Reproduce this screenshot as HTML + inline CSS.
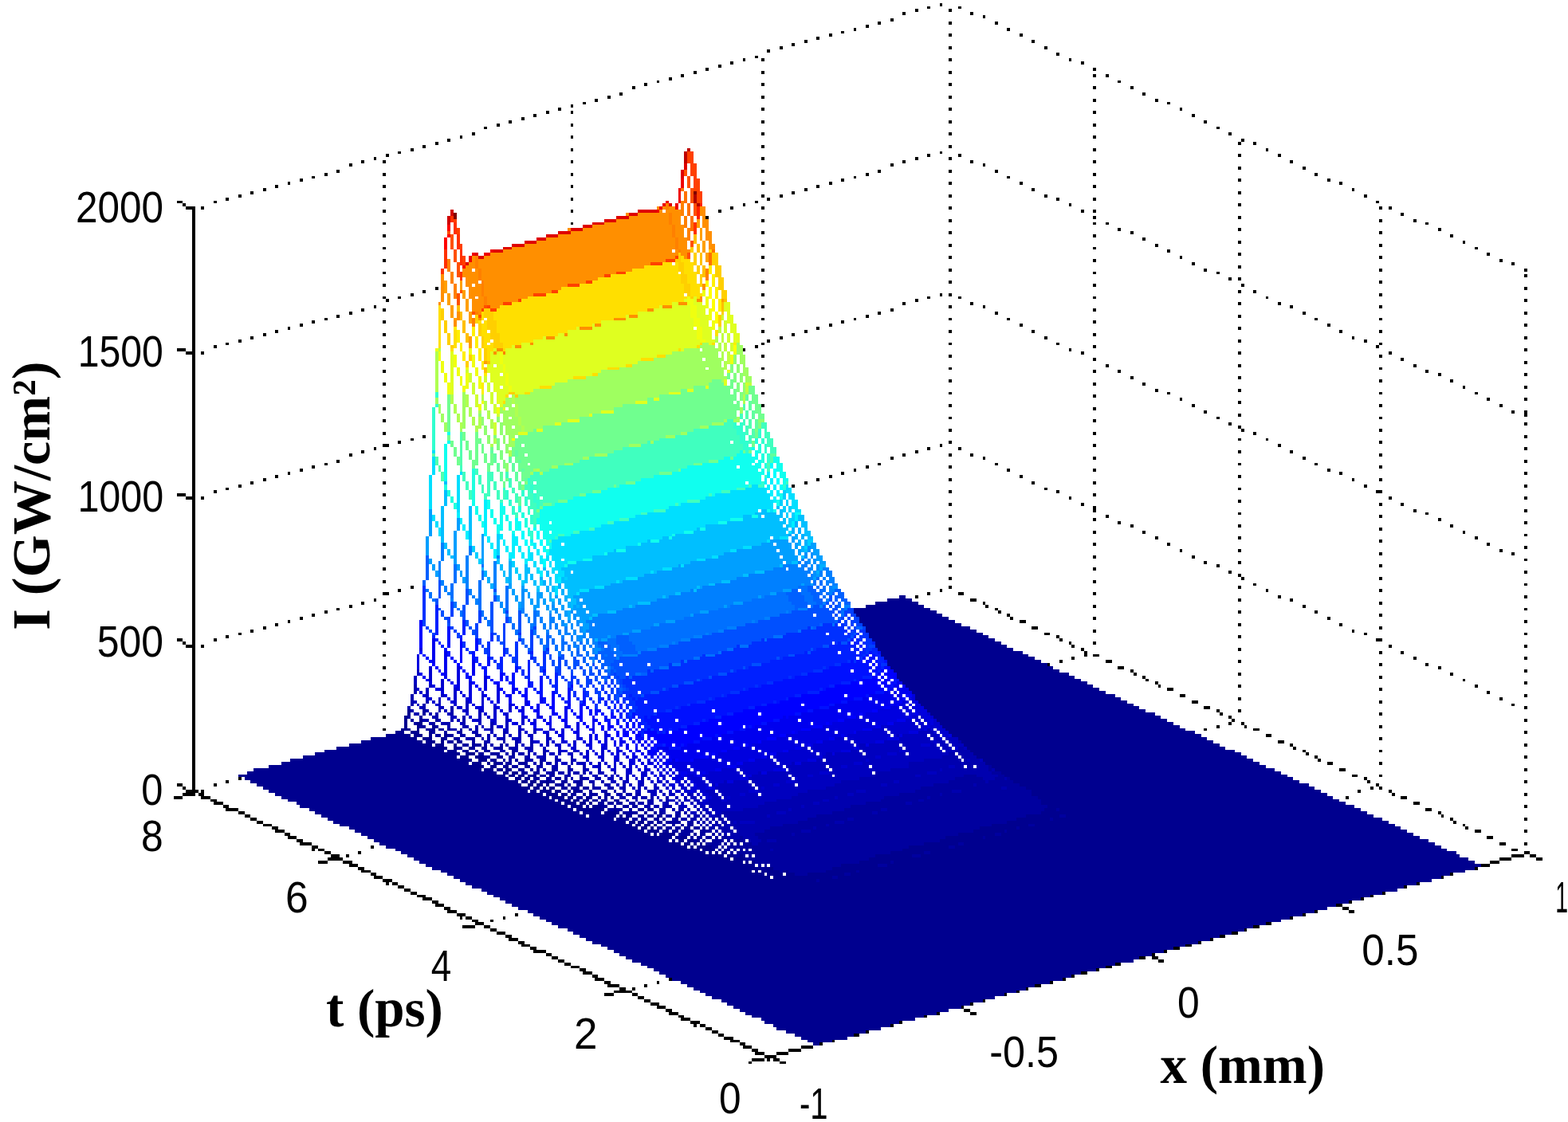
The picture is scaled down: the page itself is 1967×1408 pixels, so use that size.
<!DOCTYPE html>
<html lang="en"><head><meta charset="utf-8"><title>I(x,t) surface plot</title>
<style>
html,body{margin:0;padding:0;background:#fff;overflow:hidden}
svg{display:block}
text{fill:#000}
.tk{font-family:"Liberation Sans",Arial,Helvetica,sans-serif}
.lb{font-family:"Liberation Serif","Times New Roman",Times,serif;font-weight:bold}
</style></head><body>
<svg xmlns="http://www.w3.org/2000/svg" width="1967" height="1408" viewBox="0 0 1967 1408">
<rect width="1967" height="1408" fill="#fff"/>
<g shape-rendering="crispEdges">
<path fill="#000000" d="M1179 4h3v4h-3zM1163 8h4v3h-4zM1202 8h4v3h-4zM1148 11h4v4h-4zM1190 11h4v4h-4zM1132 15h4v4h-4zM1217 15h4v4h-4zM1233 19h3v4h-3zM1117 23h4v4h-4zM1101 27h4v4h-4zM1190 27h4v4h-4zM1248 27h4v4h-4zM1086 31h4v4h-4zM1071 35h3v4h-3zM1263 35h4v4h-4zM1055 39h4v3h-4zM1040 42h4v4h-4zM1190 42h4v4h-4zM1279 42h4v4h-4zM1024 46h4v4h-4zM1009 50h4v4h-4zM1294 50h4v4h-4zM993 54h4v4h-4zM978 58h4v4h-4zM1190 58h4v4h-4zM1310 58h4v4h-4zM962 62h4v4h-4zM1325 66h4v4h-4zM947 70h4v3h-4zM932 73h3v4h-3zM955 73h4v4h-4zM1190 73h4v4h-4zM1341 73h3v4h-3zM916 77h4v4h-4zM1356 77h4v4h-4zM901 81h4v4h-4zM885 85h4v4h-4zM1371 85h4v4h-4zM870 89h4v4h-4zM955 89h4v4h-4zM1190 89h4v4h-4zM854 93h4v4h-4zM1371 93h4v4h-4zM1387 93h4v4h-4zM839 97h4v4h-4zM824 101h3v3h-3zM1402 101h4v3h-4zM808 104h4v4h-4zM955 104h4v4h-4zM1190 104h4v4h-4zM793 108h4v4h-4zM1371 108h4v4h-4zM1418 108h4v4h-4zM777 116h4v4h-4zM1433 116h4v4h-4zM762 120h4v4h-4zM955 120h4v4h-4zM1190 120h4v4h-4zM746 124h4v4h-4zM1371 124h4v4h-4zM1449 124h4v4h-4zM731 128h4v3h-4zM1464 128h4v3h-4zM716 131h3v4h-3zM700 135h4v4h-4zM955 135h4v4h-4zM1190 135h4v4h-4zM1480 135h3v4h-3zM685 139h4v4h-4zM716 139h3v4h-3zM1371 139h4v4h-4zM669 143h4v4h-4zM1495 143h4v4h-4zM654 147h4v4h-4zM638 151h4v4h-4zM955 151h4v4h-4zM1190 151h4v4h-4zM1510 151h4v4h-4zM623 155h4v4h-4zM716 155h3v4h-3zM1371 155h4v4h-4zM607 159h4v3h-4zM1526 159h4v3h-4zM592 166h4v4h-4zM955 166h4v4h-4zM1190 166h4v4h-4zM1541 166h4v4h-4zM577 170h3v4h-3zM716 170h3v4h-3zM1371 170h4v4h-4zM561 174h4v4h-4zM1557 174h4v4h-4zM546 178h4v4h-4zM1553 178h4v4h-4zM1572 178h4v4h-4zM530 182h4v4h-4zM955 182h4v4h-4zM1190 182h4v4h-4zM515 186h4v4h-4zM716 186h3v4h-3zM1371 186h4v4h-4zM1588 186h3v4h-3zM499 190h4v3h-4zM1179 190h3v3h-3zM484 193h4v4h-4zM1163 193h4v4h-4zM1202 193h4v4h-4zM1553 193h4v4h-4zM1603 193h4v4h-4zM469 197h3v4h-3zM955 197h4v4h-4zM1148 197h4v4h-4zM1190 197h4v4h-4zM453 201h4v4h-4zM480 201h4v4h-4zM716 201h3v4h-3zM1132 201h4v4h-4zM1217 201h4v4h-4zM1371 201h4v4h-4zM1618 201h4v4h-4zM438 205h4v4h-4zM1117 205h4v4h-4zM1233 205h3v4h-3zM1553 209h4v4h-4zM1634 209h4v4h-4zM422 213h4v4h-4zM955 213h4v4h-4zM1101 213h4v4h-4zM1190 213h4v4h-4zM1248 213h4v4h-4zM407 217h4v4h-4zM480 217h4v4h-4zM716 217h3v4h-3zM1086 217h4v4h-4zM1371 217h4v4h-4zM1649 217h4v4h-4zM391 221h4v3h-4zM1071 221h3v3h-3zM1263 221h4v3h-4zM376 224h4v4h-4zM1055 224h4v4h-4zM1553 224h4v4h-4zM1665 224h4v4h-4zM361 228h3v4h-3zM955 228h4v4h-4zM1040 228h4v4h-4zM1190 228h4v4h-4zM1279 228h4v4h-4zM1680 228h4v4h-4zM345 232h4v4h-4zM480 232h4v4h-4zM716 232h3v4h-3zM1024 232h4v4h-4zM1371 232h4v4h-4zM330 236h4v4h-4zM1009 236h4v4h-4zM1294 236h4v4h-4zM1696 236h3v4h-3zM314 240h4v4h-4zM993 240h4v4h-4zM1553 240h4v4h-4zM299 244h4v4h-4zM955 244h4v4h-4zM978 244h4v4h-4zM1190 244h4v4h-4zM1310 244h4v4h-4zM1711 244h4v4h-4zM283 248h4v4h-4zM480 248h4v4h-4zM716 248h3v4h-3zM962 248h4v4h-4zM1325 248h4v4h-4zM1371 248h4v4h-4zM222 252h7v3h-7zM268 252h4v3h-4zM947 252h4v3h-4zM1726 252h4v3h-4zM229 255h4v4h-4zM932 255h3v4h-3zM1341 255h3v4h-3zM1553 255h4v4h-4zM233 259h12v4h-12zM252 259h4v4h-4zM916 259h4v4h-4zM955 259h4v4h-4zM1190 259h4v4h-4zM1730 259h4v4h-4zM1742 259h4v4h-4zM241 263h4v4h-4zM480 263h4v4h-4zM716 263h3v4h-3zM901 263h4v4h-4zM1356 263h4v4h-4zM1371 263h4v4h-4zM241 267h4v4h-4zM1757 267h4v4h-4zM241 271h4v4h-4zM885 271h4v4h-4zM1371 271h4v4h-4zM1553 271h4v4h-4zM241 275h4v4h-4zM955 275h4v4h-4zM1190 275h4v4h-4zM1730 275h4v4h-4zM1773 275h4v4h-4zM241 279h4v3h-4zM480 279h4v3h-4zM716 279h3v3h-3zM1371 279h4v3h-4zM1387 279h4v3h-4zM1788 279h4v3h-4zM241 282h4v4h-4zM241 286h4v4h-4zM1402 286h4v4h-4zM1553 286h4v4h-4zM1804 286h4v4h-4zM241 290h4v4h-4zM955 290h4v4h-4zM1190 290h4v4h-4zM1418 290h4v4h-4zM1730 290h4v4h-4zM241 294h4v4h-4zM480 294h4v4h-4zM1371 294h4v4h-4zM1819 294h4v4h-4zM241 298h4v4h-4zM1433 298h4v4h-4zM241 302h4v4h-4zM1553 302h4v4h-4zM1835 302h3v4h-3zM241 306h4v4h-4zM955 306h4v4h-4zM1190 306h4v4h-4zM1449 306h4v4h-4zM1730 306h4v4h-4zM241 310h4v3h-4zM480 310h4v3h-4zM1371 310h4v3h-4zM1850 310h4v3h-4zM241 313h4v4h-4zM1464 313h4v4h-4zM241 317h4v4h-4zM1553 317h4v4h-4zM1865 317h4v4h-4zM241 321h4v4h-4zM955 321h4v4h-4zM1190 321h4v4h-4zM1480 321h3v4h-3zM1730 321h4v4h-4zM241 325h4v4h-4zM480 325h4v4h-4zM1371 325h4v4h-4zM1881 325h4v4h-4zM241 329h4v4h-4zM1495 329h4v4h-4zM1896 329h4v4h-4zM241 333h4v4h-4zM1553 333h4v4h-4zM241 337h4v4h-4zM955 337h4v4h-4zM1190 337h4v4h-4zM1510 337h4v4h-4zM1730 337h4v4h-4zM1912 337h4v4h-4zM241 341h4v3h-4zM480 341h4v3h-4zM1371 341h4v3h-4zM1526 341h4v3h-4zM241 344h4v4h-4zM1912 344h4v4h-4zM241 348h4v4h-4zM1541 348h4v4h-4zM1553 348h4v4h-4zM241 352h4v4h-4zM955 352h4v4h-4zM1190 352h4v4h-4zM1730 352h4v4h-4zM241 356h4v4h-4zM480 356h4v4h-4zM1371 356h4v4h-4zM1557 356h4v4h-4zM241 360h4v4h-4zM546 360h4v4h-4zM1912 360h4v4h-4zM241 364h4v4h-4zM530 364h4v4h-4zM1553 364h4v4h-4zM1572 364h4v4h-4zM241 368h4v4h-4zM515 368h4v4h-4zM955 368h4v4h-4zM1179 368h3v4h-3zM1190 368h4v4h-4zM1730 368h4v4h-4zM241 372h4v3h-4zM480 372h4v3h-4zM499 372h4v3h-4zM1163 372h4v3h-4zM1202 372h4v3h-4zM1371 372h4v3h-4zM1588 372h3v3h-3zM241 375h4v4h-4zM484 375h4v4h-4zM1148 375h4v4h-4zM1912 375h4v4h-4zM241 379h4v4h-4zM1132 379h4v4h-4zM1217 379h4v4h-4zM1553 379h4v4h-4zM1603 379h4v4h-4zM241 383h4v4h-4zM469 383h3v4h-3zM955 383h4v4h-4zM1190 383h4v4h-4zM1233 383h3v4h-3zM1618 383h4v4h-4zM1730 383h4v4h-4zM241 387h4v4h-4zM453 387h4v4h-4zM480 387h4v4h-4zM1117 387h4v4h-4zM1371 387h4v4h-4zM241 391h4v4h-4zM438 391h4v4h-4zM1101 391h4v4h-4zM1248 391h4v4h-4zM1634 391h4v4h-4zM1912 391h4v4h-4zM241 395h4v4h-4zM422 395h4v4h-4zM1086 395h4v4h-4zM1553 395h4v4h-4zM241 399h4v3h-4zM407 399h4v3h-4zM955 399h4v3h-4zM1071 399h3v3h-3zM1190 399h4v3h-4zM1263 399h4v3h-4zM1649 399h4v3h-4zM1730 399h4v3h-4zM241 402h4v4h-4zM391 402h4v4h-4zM480 402h4v4h-4zM1055 402h4v4h-4zM1371 402h4v4h-4zM241 406h4v4h-4zM376 406h4v4h-4zM1040 406h4v4h-4zM1279 406h4v4h-4zM1665 406h4v4h-4zM1912 406h4v4h-4zM241 410h4v4h-4zM361 410h3v4h-3zM1024 410h4v4h-4zM1553 410h4v4h-4zM241 414h4v4h-4zM345 414h4v4h-4zM955 414h4v4h-4zM1009 414h4v4h-4zM1190 414h4v4h-4zM1294 414h4v4h-4zM1680 414h4v4h-4zM1730 414h4v4h-4zM241 418h4v4h-4zM330 418h4v4h-4zM480 418h4v4h-4zM993 418h4v4h-4zM1371 418h4v4h-4zM241 422h4v4h-4zM314 422h4v4h-4zM978 422h4v4h-4zM1310 422h4v4h-4zM1696 422h3v4h-3zM1912 422h4v4h-4zM241 426h4v4h-4zM299 426h4v4h-4zM962 426h4v4h-4zM1553 426h4v4h-4zM1711 426h4v4h-4zM241 430h4v3h-4zM283 430h4v3h-4zM955 430h4v3h-4zM1190 430h4v3h-4zM1325 430h4v3h-4zM1730 430h4v3h-4zM241 433h4v4h-4zM268 433h4v4h-4zM480 433h4v4h-4zM947 433h4v4h-4zM1371 433h4v4h-4zM1726 433h4v4h-4zM222 437h11v4h-11zM241 437h4v4h-4zM932 437h3v4h-3zM1341 437h3v4h-3zM1912 437h4v4h-4zM233 441h12v4h-12zM252 441h4v4h-4zM1356 441h4v4h-4zM1553 441h4v4h-4zM1742 441h4v4h-4zM241 445h4v4h-4zM955 445h4v4h-4zM1190 445h4v4h-4zM1730 445h4v4h-4zM241 449h4v4h-4zM480 449h4v4h-4zM1371 449h4v4h-4zM1757 449h4v4h-4zM241 453h4v4h-4zM1912 453h4v4h-4zM241 457h4v4h-4zM1387 457h4v4h-4zM1553 457h4v4h-4zM1773 457h4v4h-4zM241 461h4v3h-4zM955 461h4v3h-4zM1190 461h4v3h-4zM1730 461h4v3h-4zM241 464h4v4h-4zM480 464h4v4h-4zM1371 464h4v4h-4zM1402 464h4v4h-4zM1788 464h4v4h-4zM241 468h4v4h-4zM1804 468h4v4h-4zM1912 468h4v4h-4zM241 472h4v4h-4zM1418 472h4v4h-4zM1553 472h4v4h-4zM241 476h4v4h-4zM955 476h4v4h-4zM1190 476h4v4h-4zM1730 476h4v4h-4zM1819 476h4v4h-4zM241 480h4v4h-4zM480 480h4v4h-4zM1371 480h4v4h-4zM1433 480h4v4h-4zM241 484h4v4h-4zM1835 484h3v4h-3zM1912 484h4v4h-4zM241 488h4v4h-4zM1449 488h4v4h-4zM1553 488h4v4h-4zM241 492h4v3h-4zM955 492h4v3h-4zM1190 492h4v3h-4zM1464 492h4v3h-4zM1730 492h4v3h-4zM1850 492h4v3h-4zM241 495h4v4h-4zM480 495h4v4h-4zM1371 495h4v4h-4zM241 499h4v4h-4zM1480 499h3v4h-3zM1865 499h4v4h-4zM1912 499h4v4h-4zM241 503h4v4h-4zM1553 503h4v4h-4zM241 507h4v4h-4zM955 507h4v4h-4zM1190 507h4v4h-4zM1495 507h4v4h-4zM1730 507h4v4h-4zM1881 507h4v4h-4zM241 511h4v4h-4zM480 511h4v4h-4zM1371 511h4v4h-4zM241 515h4v4h-4zM1510 515h4v4h-4zM1896 515h4v4h-4zM1912 515h4v4h-4zM241 519h4v4h-4zM1553 519h4v4h-4zM1912 519h4v4h-4zM241 523h4v3h-4zM1190 523h4v3h-4zM1526 523h4v3h-4zM1730 523h4v3h-4zM241 526h4v4h-4zM480 526h4v4h-4zM1371 526h4v4h-4zM241 530h4v4h-4zM1541 530h4v4h-4zM1912 530h4v4h-4zM241 534h4v4h-4zM1553 534h4v4h-4zM241 538h4v4h-4zM1190 538h4v4h-4zM1557 538h4v4h-4zM1730 538h4v4h-4zM241 542h4v4h-4zM480 542h4v4h-4zM1371 542h4v4h-4zM1572 542h4v4h-4zM241 546h4v4h-4zM530 546h4v4h-4zM1912 546h4v4h-4zM241 550h4v3h-4zM515 550h4v3h-4zM1553 550h4v3h-4zM1588 550h3v3h-3zM241 553h4v4h-4zM499 553h4v4h-4zM1190 553h4v4h-4zM1730 553h4v4h-4zM241 557h4v4h-4zM480 557h8v4h-8zM1179 557h3v4h-3zM1371 557h4v4h-4zM1603 557h4v4h-4zM241 561h4v4h-4zM469 561h3v4h-3zM1163 561h4v4h-4zM1202 561h4v4h-4zM1912 561h4v4h-4zM241 565h4v4h-4zM453 565h4v4h-4zM1148 565h4v4h-4zM1553 565h4v4h-4zM1618 565h4v4h-4zM241 569h4v4h-4zM438 569h4v4h-4zM1132 569h4v4h-4zM1190 569h4v4h-4zM1217 569h4v4h-4zM1730 569h4v4h-4zM241 573h4v4h-4zM480 573h4v4h-4zM1117 573h4v4h-4zM1233 573h3v4h-3zM1371 573h4v4h-4zM1634 573h4v4h-4zM241 577h4v4h-4zM422 577h4v4h-4zM1912 577h4v4h-4zM241 581h4v3h-4zM407 581h4v3h-4zM1101 581h4v3h-4zM1248 581h4v3h-4zM1553 581h4v3h-4zM1649 581h4v3h-4zM241 584h4v4h-4zM391 584h4v4h-4zM1086 584h4v4h-4zM1190 584h4v4h-4zM1730 584h4v4h-4zM241 588h4v4h-4zM376 588h4v4h-4zM480 588h4v4h-4zM1071 588h3v4h-3zM1263 588h4v4h-4zM1371 588h4v4h-4zM1665 588h4v4h-4zM241 592h4v4h-4zM361 592h3v4h-3zM1055 592h4v4h-4zM1680 592h4v4h-4zM1912 592h4v4h-4zM241 596h4v4h-4zM345 596h4v4h-4zM1040 596h4v4h-4zM1279 596h4v4h-4zM1553 596h4v4h-4zM241 600h4v4h-4zM330 600h4v4h-4zM1024 600h4v4h-4zM1190 600h4v4h-4zM1696 600h3v4h-3zM1730 600h4v4h-4zM241 604h4v4h-4zM314 604h4v4h-4zM480 604h4v4h-4zM1009 604h4v4h-4zM1294 604h4v4h-4zM1371 604h4v4h-4zM241 608h4v4h-4zM299 608h4v4h-4zM993 608h4v4h-4zM1711 608h4v4h-4zM1912 608h4v4h-4zM241 612h4v3h-4zM283 612h4v3h-4zM1310 612h4v3h-4zM1553 612h4v3h-4zM241 615h4v4h-4zM268 615h4v4h-4zM1190 615h4v4h-4zM1325 615h4v4h-4zM1726 615h8v4h-8zM222 619h11v4h-11zM241 619h4v4h-4zM480 619h4v4h-4zM1371 619h4v4h-4zM233 623h12v4h-12zM252 623h4v4h-4zM1341 623h3v4h-3zM1742 623h4v4h-4zM1912 623h4v4h-4zM241 627h4v4h-4zM1553 627h4v4h-4zM241 631h4v4h-4zM1190 631h4v4h-4zM1356 631h4v4h-4zM1730 631h4v4h-4zM1757 631h4v4h-4zM241 635h4v4h-4zM480 635h4v4h-4zM1371 635h4v4h-4zM241 639h4v4h-4zM1371 639h4v4h-4zM1773 639h4v4h-4zM1912 639h4v4h-4zM241 643h4v3h-4zM1553 643h4v3h-4zM1788 643h4v3h-4zM241 646h4v4h-4zM1190 646h4v4h-4zM1387 646h4v4h-4zM1730 646h4v4h-4zM241 650h4v4h-4zM480 650h4v4h-4zM1371 650h4v4h-4zM1804 650h4v4h-4zM241 654h4v4h-4zM1402 654h4v4h-4zM1912 654h4v4h-4zM241 658h4v4h-4zM1418 658h4v4h-4zM1553 658h4v4h-4zM1819 658h4v4h-4zM241 662h4v4h-4zM1190 662h4v4h-4zM1730 662h4v4h-4zM241 666h4v4h-4zM480 666h4v4h-4zM1371 666h4v4h-4zM1433 666h4v4h-4zM1835 666h3v4h-3zM241 670h4v3h-4zM1912 670h4v3h-4zM241 673h4v4h-4zM1449 673h4v4h-4zM1553 673h4v4h-4zM1850 673h4v4h-4zM241 677h4v4h-4zM1190 677h4v4h-4zM1730 677h4v4h-4zM241 681h4v4h-4zM480 681h4v4h-4zM1371 681h4v4h-4zM1464 681h4v4h-4zM1865 681h4v4h-4zM241 685h4v4h-4zM1912 685h4v4h-4zM241 689h4v4h-4zM1480 689h3v4h-3zM1553 689h4v4h-4zM1881 689h4v4h-4zM241 693h4v4h-4zM1190 693h4v4h-4zM1730 693h4v4h-4zM1896 693h4v4h-4zM241 697h4v4h-4zM480 697h4v4h-4zM1371 697h4v4h-4zM1495 697h4v4h-4zM241 701h4v3h-4zM1912 701h4v3h-4zM241 704h4v4h-4zM1510 704h4v4h-4zM1553 704h4v4h-4zM241 708h4v4h-4zM1190 708h4v4h-4zM1526 708h4v4h-4zM1730 708h4v4h-4zM241 712h4v4h-4zM480 712h4v4h-4zM1371 712h4v4h-4zM241 716h4v4h-4zM1541 716h4v4h-4zM1912 716h4v4h-4zM241 720h4v4h-4zM1553 720h4v4h-4zM241 724h4v4h-4zM1190 724h4v4h-4zM1557 724h4v4h-4zM1730 724h4v4h-4zM241 728h4v4h-4zM480 728h4v4h-4zM1371 728h4v4h-4zM241 732h4v3h-4zM1572 732h4v3h-4zM1912 732h4v3h-4zM241 735h4v4h-4zM515 735h4v4h-4zM1190 735h4v4h-4zM1553 735h4v4h-4zM241 739h4v4h-4zM499 739h4v4h-4zM1179 739h3v4h-3zM1588 739h3v4h-3zM1730 739h4v4h-4zM241 743h4v4h-4zM480 743h8v4h-8zM1163 743h4v4h-4zM1202 743h7v4h-7zM1371 743h4v4h-4zM241 747h4v4h-4zM1148 747h4v4h-4zM1603 747h4v4h-4zM1912 747h4v4h-4zM241 751h4v4h-4zM469 751h3v4h-3zM1217 751h8v4h-8zM1553 751h4v4h-4zM1618 751h4v4h-4zM241 755h4v4h-4zM453 755h4v4h-4zM1233 755h3v4h-3zM1730 755h4v4h-4zM241 759h4v4h-4zM438 759h4v4h-4zM480 759h4v4h-4zM1236 759h4v4h-4zM1371 759h4v4h-4zM1634 759h4v4h-4zM241 763h4v3h-4zM422 763h4v3h-4zM1248 763h4v3h-4zM1912 763h4v3h-4zM241 766h4v4h-4zM407 766h4v4h-4zM1252 766h4v4h-4zM1553 766h4v4h-4zM1649 766h4v4h-4zM241 770h4v4h-4zM391 770h4v4h-4zM1263 770h4v4h-4zM1730 770h4v4h-4zM241 774h4v4h-4zM376 774h4v4h-4zM480 774h4v4h-4zM1267 774h4v4h-4zM1371 774h4v4h-4zM1665 774h4v4h-4zM241 778h4v4h-4zM361 778h3v4h-3zM1279 778h8v4h-8zM1912 778h4v4h-4zM241 782h4v4h-4zM345 782h4v4h-4zM1553 782h4v4h-4zM1680 782h4v4h-4zM241 786h4v4h-4zM330 786h4v4h-4zM1294 786h8v4h-8zM1730 786h4v4h-4zM241 790h4v4h-4zM314 790h4v4h-4zM480 790h4v4h-4zM1371 790h4v4h-4zM1696 790h3v4h-3zM241 794h4v3h-4zM299 794h4v3h-4zM1310 794h7v3h-7zM1711 794h4v3h-4zM1912 794h4v3h-4zM241 797h4v4h-4zM283 797h4v4h-4zM1325 797h4v4h-4zM1553 797h4v4h-4zM222 801h7v4h-7zM241 801h4v4h-4zM268 801h4v4h-4zM1329 801h4v4h-4zM1726 801h8v4h-8zM229 805h4v4h-4zM241 805h4v4h-4zM480 805h4v4h-4zM1341 805h3v4h-3zM1371 805h4v4h-4zM233 809h12v4h-12zM252 809h4v4h-4zM1344 809h4v4h-4zM1742 809h4v4h-4zM1912 809h4v4h-4zM241 813h4v4h-4zM1356 813h4v4h-4zM1553 813h4v4h-4zM241 817h4v4h-4zM1360 817h4v4h-4zM1730 817h4v4h-4zM1757 817h4v4h-4zM241 821h4v3h-4zM480 821h4v3h-4zM1360 821h4v3h-4zM1371 821h8v3h-8zM241 824h4v4h-4zM1344 824h4v4h-4zM1773 824h4v4h-4zM1912 824h4v4h-4zM241 828h4v4h-4zM1329 828h4v4h-4zM1387 828h8v4h-8zM1553 828h4v4h-4zM241 832h4v4h-4zM1314 832h3v4h-3zM1730 832h4v4h-4zM1788 832h4v4h-4zM241 836h4v4h-4zM480 836h4v4h-4zM1402 836h8v4h-8zM1804 836h4v4h-4zM241 840h4v4h-4zM1418 840h4v4h-4zM1912 840h4v4h-4zM241 844h4v4h-4zM1422 844h4v4h-4zM1553 844h4v4h-4zM1819 844h4v4h-4zM241 848h4v4h-4zM1433 848h4v4h-4zM1730 848h4v4h-4zM241 852h4v3h-4zM480 852h4v3h-4zM1437 852h4v3h-4zM1835 852h3v3h-3zM241 855h4v4h-4zM1449 855h4v4h-4zM1912 855h4v4h-4zM241 859h4v4h-4zM1453 859h3v4h-3zM1553 859h4v4h-4zM1850 859h4v4h-4zM241 863h4v4h-4zM1464 863h8v4h-8zM1730 863h4v4h-4zM241 867h4v4h-4zM480 867h4v4h-4zM1865 867h4v4h-4zM241 871h4v4h-4zM1480 871h7v4h-7zM1912 871h4v4h-4zM241 875h4v4h-4zM1553 875h4v4h-4zM1881 875h4v4h-4zM241 879h4v4h-4zM1495 879h8v4h-8zM1730 879h4v4h-4zM241 883h4v3h-4zM480 883h4v3h-4zM1896 883h4v3h-4zM241 886h4v4h-4zM1510 886h8v4h-8zM1912 886h4v4h-4zM241 890h4v4h-4zM1526 890h4v4h-4zM1553 890h4v4h-4zM241 894h4v4h-4zM1530 894h4v4h-4zM1730 894h4v4h-4zM241 898h4v4h-4zM480 898h4v4h-4zM1541 898h4v4h-4zM241 902h4v4h-4zM1545 902h4v4h-4zM1912 902h4v4h-4zM241 906h4v4h-4zM1541 906h4v4h-4zM1557 906h4v4h-4zM241 910h4v4h-4zM1526 910h4v4h-4zM1561 910h3v4h-3zM1730 910h4v4h-4zM241 914h4v3h-4zM480 914h4v3h-4zM1510 914h4v3h-4zM1572 914h8v3h-8zM241 917h4v4h-4zM1912 917h4v4h-4zM241 921h4v4h-4zM1588 921h7v4h-7zM241 925h4v4h-4zM1730 925h4v4h-4zM241 929h4v4h-4zM1603 929h8v4h-8zM241 933h4v4h-4zM1618 933h4v4h-4zM1912 933h4v4h-4zM241 937h4v4h-4zM1622 937h4v4h-4zM241 941h4v3h-4zM1634 941h4v3h-4zM1730 941h4v3h-4zM241 944h4v4h-4zM1638 944h4v4h-4zM241 948h4v4h-4zM1649 948h4v4h-4zM1912 948h4v4h-4zM241 952h4v4h-4zM1653 952h4v4h-4zM241 956h4v4h-4zM1665 956h7v4h-7zM1730 956h4v4h-4zM241 960h4v4h-4zM241 964h4v4h-4zM1680 964h8v4h-8zM1912 964h4v4h-4zM241 968h4v4h-4zM241 972h4v3h-4zM1696 972h7v3h-7zM1730 972h4v3h-4zM241 975h4v4h-4zM299 975h4v4h-4zM1711 975h4v4h-4zM241 979h4v4h-4zM283 979h4v4h-4zM1715 979h4v4h-4zM1912 979h4v4h-4zM222 983h7v4h-7zM241 983h4v4h-4zM268 983h4v4h-4zM1726 983h4v4h-4zM229 987h4v4h-4zM241 987h4v4h-4zM1719 987h4v4h-4zM1730 987h4v4h-4zM233 991h16v4h-16zM252 991h4v4h-4zM1703 991h4v4h-4zM1742 991h4v4h-4zM229 995h16v4h-16zM249 995h7v4h-7zM1746 995h4v4h-4zM1912 995h4v4h-4zM218 999h11v4h-11zM252 999h12v4h-12zM1688 999h4v4h-4zM1757 999h8v4h-8zM264 1003h8v3h-8zM268 1006h12v4h-12zM1773 1006h8v4h-8zM280 1010h7v4h-7zM1912 1010h4v4h-4zM283 1014h16v4h-16zM1788 1014h8v4h-8zM299 1018h8v4h-8zM1804 1018h4v4h-4zM307 1022h7v4h-7zM1808 1022h3v4h-3zM314 1026h8v4h-8zM1819 1026h4v4h-4zM1912 1026h4v4h-4zM322 1030h8v4h-8zM1823 1030h4v4h-4zM330 1034h11v3h-11zM1835 1034h3v3h-3zM341 1037h8v4h-8zM1838 1037h4v4h-4zM345 1041h12v4h-12zM1850 1041h8v4h-8zM1912 1041h4v4h-4zM357 1045h7v4h-7zM361 1049h11v4h-11zM1865 1049h8v4h-8zM372 1053h8v4h-8zM376 1057h15v4h-15zM1881 1057h8v4h-8zM1912 1057h4v4h-4zM391 1061h8v4h-8zM465 1061h4v4h-4zM391 1065h4v3h-4zM399 1065h8v3h-8zM1896 1065h8v3h-8zM407 1068h8v4h-8zM449 1068h4v4h-4zM1912 1068h7v4h-7zM415 1072h11v4h-11zM434 1072h4v4h-4zM1896 1072h16v4h-16zM1919 1072h8v4h-8zM411 1076h19v4h-19zM1881 1076h15v4h-15zM1927 1076h8v4h-8zM399 1080h12v4h-12zM430 1080h12v4h-12zM1869 1080h12v4h-12zM438 1084h11v4h-11zM1858 1084h11v4h-11zM449 1088h8v4h-8zM1850 1088h4v4h-4zM453 1092h12v3h-12zM465 1095h7v4h-7zM1819 1095h4v4h-4zM469 1099h11v4h-11zM1808 1099h3v4h-3zM480 1103h12v4h-12zM484 1107h4v4h-4zM492 1107h7v4h-7zM1777 1107h4v4h-4zM499 1111h8v4h-8zM1761 1111h4v4h-4zM507 1115h8v4h-8zM515 1119h8v4h-8zM1734 1119h4v4h-4zM523 1123h11v3h-11zM1719 1123h4v3h-4zM530 1126h12v4h-12zM1707 1126h4v4h-4zM542 1130h8v4h-8zM1692 1130h4v4h-4zM546 1134h11v4h-11zM1676 1134h8v4h-8zM557 1138h8v4h-8zM1684 1138h8v4h-8zM561 1142h12v4h-12zM1649 1142h4v4h-4zM1692 1142h7v4h-7zM573 1146h11v4h-11zM646 1146h4v4h-4zM1634 1146h4v4h-4zM577 1150h3v4h-3zM584 1150h8v4h-8zM631 1150h3v4h-3zM1618 1150h4v4h-4zM592 1154h8v3h-8zM615 1154h4v3h-4zM596 1157h11v4h-11zM1588 1157h7v4h-7zM580 1161h16v4h-16zM607 1161h8v4h-8zM1572 1161h8v4h-8zM615 1165h8v4h-8zM1561 1165h3v4h-3zM623 1169h11v4h-11zM1545 1169h8v4h-8zM634 1173h8v4h-8zM1530 1173h7v4h-7zM638 1177h12v4h-12zM1518 1177h4v4h-4zM650 1181h8v4h-8zM1503 1181h4v4h-4zM654 1185h11v3h-11zM1487 1185h8v3h-8zM665 1188h8v4h-8zM1472 1188h8v4h-8zM669 1192h16v4h-16zM1460 1192h4v4h-4zM685 1196h7v4h-7zM1445 1196h4v4h-4zM692 1200h8v4h-8zM1429 1200h8v4h-8zM1445 1200h8v4h-8zM700 1204h8v4h-8zM1453 1204h7v4h-7zM708 1208h8v4h-8zM1399 1208h7v4h-7zM716 1212h11v3h-11zM1387 1212h8v3h-8zM727 1215h8v4h-8zM1375 1215h4v4h-4zM731 1219h12v4h-12zM1356 1219h8v4h-8zM743 1223h7v4h-7zM1344 1223h4v4h-4zM746 1227h12v4h-12zM839 1227h4v4h-4zM1333 1227h4v4h-4zM758 1231h8v4h-8zM824 1231h3v4h-3zM1317 1231h4v4h-4zM762 1235h15v4h-15zM808 1235h4v4h-4zM1298 1235h8v4h-8zM777 1239h8v4h-8zM793 1239h4v4h-4zM1287 1239h3v4h-3zM770 1243h23v3h-23zM1275 1243h4v3h-4zM758 1246h12v4h-12zM793 1246h7v4h-7zM1260 1246h3v4h-3zM800 1250h8v4h-8zM808 1254h8v4h-8zM1233 1254h3v4h-3zM816 1258h11v4h-11zM1217 1258h4v4h-4zM824 1262h11v4h-11zM1206 1262h3v4h-3zM835 1266h8v4h-8zM1209 1266h8v4h-8zM839 1270h12v4h-12zM1175 1270h4v4h-4zM1217 1270h8v4h-8zM851 1274h7v3h-7zM1159 1274h4v3h-4zM854 1277h12v4h-12zM866 1281h12v4h-12zM1128 1281h4v4h-4zM870 1285h4v4h-4zM878 1285h7v4h-7zM1117 1285h4v4h-4zM885 1289h8v4h-8zM893 1293h8v4h-8zM1086 1293h4v4h-4zM901 1297h7v4h-7zM1071 1297h7v4h-7zM908 1301h12v4h-12zM916 1305h12v3h-12zM1044 1305h3v3h-3zM928 1308h7v4h-7zM1028 1308h4v4h-4zM932 1312h11v4h-11zM1005 1312h15v4h-15zM943 1316h8v4h-8zM989 1316h16v4h-16zM947 1320h12v4h-12zM974 1320h15v4h-15zM959 1324h15v4h-15zM943 1328h16v4h-16zM962 1328h4v4h-4zM970 1328h8v4h-8zM939 1332h4v3h-4zM978 1332h8v3h-8z"/>
<path fill="#00008f" d="M1128 747h8v4h-8zM1113 751h31v4h-31zM1098 755h54v4h-54zM1086 759h73v4h-73zM1071 763h96v3h-96zM1071 766h104v4h-104zM1074 770h108v4h-108zM1078 774h112v4h-112zM1078 778h120v4h-120zM1082 782h124v4h-124zM1086 786h131v4h-131zM1086 790h139v4h-139zM1090 794h143v3h-143zM1090 797h150v4h-150zM1094 801h154v4h-154zM1098 805h158v4h-158zM1098 809h165v4h-165zM1101 813h170v4h-170zM1105 817h178v4h-178zM1105 821h185v3h-185zM1109 824h189v4h-189zM1113 828h193v4h-193zM1113 832h201v4h-201zM1117 836h204v4h-204zM1121 840h208v4h-208zM1125 844h216v4h-216zM1125 848h223v4h-223zM1128 852h228v3h-228zM1132 855h232v4h-232zM1136 859h235v4h-235zM1140 863h239v4h-239zM1144 867h243v4h-243zM1148 871h251v4h-251zM1148 875h258v4h-258zM1152 879h262v4h-262zM1155 883h267v3h-267zM1159 886h270v4h-270zM511 890h4v4h-4zM1163 890h274v4h-274zM511 894h4v4h-4zM1167 894h282v4h-282zM507 898h4v4h-4zM1171 898h285v4h-285zM507 902h4v4h-4zM526 902h4v4h-4zM1175 902h289v4h-289zM507 906h4v4h-4zM523 906h7v4h-7zM1179 906h293v4h-293zM507 910h4v4h-4zM523 910h3v4h-3zM542 910h4v4h-4zM1182 910h298v4h-298zM503 914h12v3h-12zM523 914h3v3h-3zM542 914h4v3h-4zM1186 914h301v3h-301zM496 917h11v4h-11zM515 917h11v4h-11zM538 917h4v4h-4zM1190 917h309v4h-309zM484 921h31v4h-31zM519 921h11v4h-11zM538 921h4v4h-4zM557 921h4v4h-4zM1194 921h313v4h-313zM465 925h58v4h-58zM530 925h12v4h-12zM553 925h4v4h-4zM1202 925h312v4h-312zM453 929h77v4h-77zM534 929h12v4h-12zM553 929h4v4h-4zM573 929h4v4h-4zM1206 929h316v4h-316zM438 933h104v4h-104zM546 933h11v4h-11zM569 933h4v4h-4zM1209 933h321v4h-321zM422 937h139v4h-139zM569 937h4v4h-4zM588 937h4v4h-4zM1213 937h324v4h-324zM407 941h150v3h-150zM561 941h12v3h-12zM584 941h4v3h-4zM1217 941h332v3h-332zM395 944h182v4h-182zM584 944h12v4h-12zM1221 944h336v4h-336zM380 948h193v4h-193zM577 948h11v4h-11zM596 948h11v4h-11zM1225 948h339v4h-339zM364 952h228v4h-228zM600 952h11v4h-11zM619 952h4v4h-4zM1233 952h339v4h-339zM353 956h235v4h-235zM592 956h12v4h-12zM611 956h4v4h-4zM619 956h4v4h-4zM1236 956h344v4h-344zM337 960h270v4h-270zM615 960h8v4h-8zM634 960h4v4h-4zM1244 960h344v4h-344zM318 964h286v4h-286zM607 964h12v4h-12zM623 964h8v4h-8zM634 964h8v4h-8zM1248 964h351v4h-351zM310 968h313v4h-313zM631 968h7v4h-7zM642 968h8v4h-8zM1256 968h351v4h-351zM299 972h335v3h-335zM638 972h8v3h-8zM650 972h8v3h-8zM669 972h4v3h-4zM1260 972h355v3h-355zM307 975h331v4h-331zM646 975h8v4h-8zM658 975h7v4h-7zM1267 975h355v4h-355zM314 979h336v4h-336zM654 979h8v4h-8zM665 979h8v4h-8zM685 979h4v4h-4zM1271 979h359v4h-359zM322 983h332v4h-332zM662 983h7v4h-7zM673 983h8v4h-8zM685 983h4v4h-4zM1279 983h363v4h-363zM330 987h335v4h-335zM669 987h8v4h-8zM681 987h4v4h-4zM689 987h7v4h-7zM1287 987h362v4h-362zM337 991h325v4h-325zM665 991h8v4h-8zM677 991h15v4h-15zM696 991h8v4h-8zM719 991h4v4h-4zM1294 991h363v4h-363zM345 995h336v4h-336zM685 995h15v4h-15zM704 995h8v4h-8zM1294 995h371v4h-371zM353 999h336v4h-336zM692 999h16v4h-16zM712 999h7v4h-7zM735 999h4v4h-4zM1302 999h370v4h-370zM361 1003h335v3h-335zM700 1003h16v3h-16zM719 1003h8v3h-8zM735 1003h4v3h-4zM1306 1003h374v3h-374zM372 1006h332v4h-332zM708 1006h15v4h-15zM727 1006h8v4h-8zM739 1006h4v4h-4zM1306 1006h382v4h-382zM376 1010h336v4h-336zM716 1010h15v4h-15zM735 1010h4v4h-4zM743 1010h11v4h-11zM1314 1010h385v4h-385zM388 1014h331v4h-331zM723 1014h35v4h-35zM770 1014h3v4h-3zM1310 1014h15v4h-15zM1329 1014h378v4h-378zM395 1018h332v4h-332zM731 1018h23v4h-23zM758 1018h19v4h-19zM1306 1018h409v4h-409zM403 1022h332v4h-332zM739 1022h34v4h-34zM777 1022h4v4h-4zM785 1022h4v4h-4zM1287 1022h42v4h-42zM1337 1022h386v4h-386zM411 1026h359v4h-359zM773 1026h16v4h-16zM1275 1026h42v4h-42zM1321 1026h413v4h-413zM418 1030h367v4h-367zM789 1030h8v4h-8zM800 1030h8v4h-8zM1263 1030h479v4h-479zM426 1034h367v3h-367zM797 1034h7v3h-7zM808 1034h8v3h-8zM820 1034h4v3h-4zM1244 1034h46v3h-46zM1298 1034h452v3h-452zM438 1037h362v4h-362zM804 1037h8v4h-8zM816 1037h4v4h-4zM1229 1037h46v4h-46zM1279 1037h478v4h-478zM445 1041h363v4h-363zM812 1041h15v4h-15zM835 1041h4v4h-4zM1221 1041h39v4h-39zM1263 1041h502v4h-502zM453 1045h363v4h-363zM820 1045h4v4h-4zM827 1045h20v4h-20zM1202 1045h46v4h-46zM1256 1045h517v4h-517zM461 1049h382v4h-382zM847 1049h4v4h-4zM854 1049h8v4h-8zM1186 1049h47v4h-47zM1236 1049h545v4h-545zM469 1053h370v4h-370zM843 1053h4v4h-4zM851 1053h7v4h-7zM862 1053h8v4h-8zM874 1053h4v4h-4zM1179 1053h613v4h-613zM476 1057h378v4h-378zM858 1057h8v4h-8zM870 1057h4v4h-4zM878 1057h3v4h-3zM1159 1057h43v4h-43zM1209 1057h591v4h-591zM484 1061h378v4h-378zM866 1061h4v4h-4zM874 1061h19v4h-19zM1140 1061h50v4h-50zM1198 1061h610v4h-610zM496 1065h382v3h-382zM881 1065h16v3h-16zM1132 1065h683v3h-683zM503 1068h382v4h-382zM889 1068h4v4h-4zM897 1068h4v4h-4zM905 1068h7v4h-7zM1117 1068h42v4h-42zM1167 1068h660v4h-660zM511 1072h397v4h-397zM912 1072h8v4h-8zM928 1072h4v4h-4zM1098 1072h46v4h-46zM1155 1072h676v4h-676zM519 1076h397v4h-397zM920 1076h15v4h-15zM1090 1076h752v4h-752zM526 1080h406v4h-406zM935 1080h4v4h-4zM943 1080h4v4h-4zM1078 1080h39v4h-39zM1121 1080h729v4h-729zM534 1084h413v4h-413zM1055 1084h46v4h-46zM1113 1084h745v4h-745zM542 1088h413v4h-413zM959 1088h11v4h-11zM1044 1088h806v4h-806zM553 1092h390v3h-390zM947 1092h4v3h-4zM955 1092h23v3h-23zM982 1092h7v3h-7zM1036 1092h38v3h-38zM1078 1092h760v3h-760zM561 1095h398v4h-398zM962 1095h20v4h-20zM986 1095h11v4h-11zM1013 1095h46v4h-46zM1067 1095h752v4h-752zM569 1099h397v4h-397zM970 1099h74v4h-74zM1051 1099h757v4h-757zM577 1103h447v4h-447zM1028 1103h768v4h-768zM584 1107h1193v4h-1193zM592 1111h1169v4h-1169zM604 1115h1149v4h-1149zM611 1119h1123v4h-1123zM619 1123h1100v3h-1100zM627 1126h1080v4h-1080zM634 1130h1058v4h-1058zM642 1134h1034v4h-1034zM650 1138h1015v4h-1015zM662 1142h987v4h-987zM669 1146h965v4h-965zM677 1150h941v4h-941zM685 1154h922v3h-922zM692 1157h896v4h-896zM700 1161h872v4h-872zM712 1165h849v4h-849zM719 1169h826v4h-826zM727 1173h803v4h-803zM735 1177h783v4h-783zM743 1181h760v4h-760zM754 1185h733v3h-733zM762 1188h710v4h-710zM770 1192h690v4h-690zM777 1196h668v4h-668zM785 1200h644v4h-644zM793 1204h629v4h-629zM804 1208h595v4h-595zM812 1212h575v3h-575zM820 1215h555v4h-555zM827 1219h529v4h-529zM835 1223h509v4h-509zM843 1227h490v4h-490zM854 1231h463v4h-463zM862 1235h436v4h-436zM870 1239h417v4h-417zM878 1243h397v3h-397zM885 1246h375v4h-375zM893 1250h355v4h-355zM905 1254h328v4h-328zM912 1258h305v4h-305zM920 1262h286v4h-286zM928 1266h262v4h-262zM935 1270h240v4h-240zM943 1274h216v3h-216zM955 1277h193v4h-193zM959 1281h169v4h-169zM970 1285h147v4h-147zM974 1289h131v4h-131zM986 1293h100v4h-100zM997 1297h74v4h-74zM1005 1301h58v4h-58zM1013 1305h31v3h-31zM1020 1308h8v4h-8z"/>
<path fill="#00009f" d="M530 890h4v4h-4zM530 894h4v4h-4zM511 898h4v4h-4zM526 898h4v4h-4zM515 902h4v4h-4zM546 902h4v4h-4zM519 906h4v4h-4zM542 906h4v4h-4zM526 910h8v4h-8zM546 910h4v4h-4zM534 914h8v3h-8zM550 914h7v3h-7zM561 914h4v3h-4zM577 914h3v3h-3zM542 917h4v4h-4zM557 917h4v4h-4zM577 917h3v4h-3zM546 921h7v4h-7zM561 921h8v4h-8zM577 921h3v4h-3zM596 921h4v4h-4zM557 925h4v4h-4zM569 925h8v4h-8zM592 925h4v4h-4zM561 929h8v4h-8zM577 929h3v4h-3zM592 929h4v4h-4zM580 933h8v4h-8zM592 933h12v4h-12zM607 933h4v4h-4zM627 933h4v4h-4zM573 937h7v4h-7zM592 937h4v4h-4zM604 937h7v4h-7zM627 937h4v4h-4zM580 941h4v3h-4zM596 941h4v3h-4zM607 941h8v3h-8zM642 941h4v3h-4zM600 944h7v4h-7zM615 944h12v4h-12zM642 944h4v4h-4zM607 948h8v4h-8zM623 948h8v4h-8zM642 948h4v4h-4zM615 952h4v4h-4zM631 952h3v4h-3zM638 952h4v4h-4zM646 952h4v4h-4zM658 952h4v4h-4zM677 952h4v4h-4zM623 956h8v4h-8zM634 956h8v4h-8zM650 956h12v4h-12zM677 956h4v4h-4zM631 960h3v4h-3zM642 960h8v4h-8zM658 960h7v4h-7zM1240 960h4v4h-4zM650 964h8v4h-8zM665 964h4v4h-4zM673 964h4v4h-4zM692 964h4v4h-4zM1240 964h4v4h-4zM654 968h8v4h-8zM669 968h8v4h-8zM692 968h4v4h-4zM1244 968h12v4h-12zM662 972h7v3h-7zM677 972h8v3h-8zM689 972h7v3h-7zM1209 972h16v3h-16zM1252 972h8v3h-8zM669 975h8v4h-8zM685 975h7v4h-7zM696 975h8v4h-8zM708 975h4v4h-4zM727 975h4v4h-4zM1198 975h35v4h-35zM1248 975h12v4h-12zM1263 975h4v4h-4zM677 979h8v4h-8zM689 979h7v4h-7zM704 979h8v4h-8zM723 979h8v4h-8zM1190 979h46v4h-46zM1240 979h31v4h-31zM696 983h12v4h-12zM712 983h4v4h-4zM723 983h8v4h-8zM743 983h3v4h-3zM1171 983h50v4h-50zM1225 983h54v4h-54zM704 987h8v4h-8zM716 987h11v4h-11zM731 987h8v4h-8zM743 987h3v4h-3zM1155 987h101v4h-101zM1263 987h24v4h-24zM712 991h4v4h-4zM723 991h8v4h-8zM739 991h4v4h-4zM758 991h4v4h-4zM1148 991h46v4h-46zM1206 991h88v4h-88zM716 995h7v4h-7zM731 995h4v4h-4zM739 995h11v4h-11zM758 995h8v4h-8zM1128 995h51v4h-51zM1182 995h112v4h-112zM723 999h8v4h-8zM739 999h4v4h-4zM750 999h4v4h-4zM758 999h4v4h-4zM766 999h4v4h-4zM1109 999h54v4h-54zM1167 999h135v4h-135zM731 1003h4v3h-4zM743 1003h7v3h-7zM754 1003h8v3h-8zM770 1003h7v3h-7zM1105 1003h47v3h-47zM1159 1003h147v3h-147zM750 1006h8v4h-8zM762 1006h8v4h-8zM773 1006h8v4h-8zM793 1006h4v4h-4zM1086 1006h50v4h-50zM1144 1006h162v4h-162zM754 1010h8v4h-8zM770 1010h3v4h-3zM781 1010h8v4h-8zM793 1010h7v4h-7zM1067 1010h247v4h-247zM762 1014h8v4h-8zM773 1014h8v4h-8zM789 1014h4v4h-4zM800 1014h8v4h-8zM812 1014h8v4h-8zM1059 1014h46v4h-46zM1113 1014h197v4h-197zM1325 1014h4v4h-4zM781 1018h19v4h-19zM808 1018h4v4h-4zM820 1018h4v4h-4zM827 1018h4v4h-4zM851 1018h3v4h-3zM1044 1018h50v4h-50zM1101 1018h205v4h-205zM789 1022h4v4h-4zM800 1022h8v4h-8zM812 1022h8v4h-8zM824 1022h7v4h-7zM847 1022h4v4h-4zM1024 1022h263v4h-263zM1329 1022h8v4h-8zM793 1026h7v4h-7zM804 1026h8v4h-8zM820 1026h7v4h-7zM831 1026h4v4h-4zM847 1026h4v4h-4zM1013 1026h50v4h-50zM1071 1026h204v4h-204zM1317 1026h4v4h-4zM812 1030h8v4h-8zM824 1030h7v4h-7zM835 1030h19v4h-19zM866 1030h4v4h-4zM1001 1030h46v4h-46zM1059 1030h204v4h-204zM831 1034h4v3h-4zM843 1034h4v3h-4zM854 1034h4v3h-4zM862 1034h8v3h-8zM982 1034h54v3h-54zM1040 1034h204v3h-204zM1290 1034h8v3h-8zM824 1037h7v4h-7zM835 1037h8v4h-8zM847 1037h7v4h-7zM858 1037h8v4h-8zM870 1037h8v4h-8zM881 1037h4v4h-4zM966 1037h54v4h-54zM1024 1037h205v4h-205zM1275 1037h4v4h-4zM831 1041h4v4h-4zM843 1041h8v4h-8zM854 1041h16v4h-16zM878 1041h15v4h-15zM959 1041h46v4h-46zM1017 1041h204v4h-204zM1260 1041h3v4h-3zM851 1045h15v4h-15zM870 1045h4v4h-4zM878 1045h7v4h-7zM893 1045h4v4h-4zM947 1045h46v4h-46zM997 1045h205v4h-205zM1248 1045h8v4h-8zM851 1049h3v4h-3zM866 1049h4v4h-4zM874 1049h7v4h-7zM885 1049h8v4h-8zM897 1049h4v4h-4zM905 1049h7v4h-7zM928 1049h4v4h-4zM951 1049h235v4h-235zM1233 1049h3v4h-3zM870 1053h4v4h-4zM881 1053h4v4h-4zM893 1053h15v4h-15zM912 1053h4v4h-4zM920 1053h15v4h-15zM955 1053h7v4h-7zM974 1053h205v4h-205zM885 1057h20v4h-20zM908 1057h4v4h-4zM916 1057h4v4h-4zM924 1057h4v4h-4zM932 1057h11v4h-11zM951 1057h208v4h-208zM1202 1057h7v4h-7zM893 1061h8v4h-8zM905 1061h3v4h-3zM912 1061h228v4h-228zM1190 1061h8v4h-8zM901 1065h4v3h-4zM908 1065h8v3h-8zM920 1065h4v3h-4zM928 1065h4v3h-4zM935 1065h4v3h-4zM943 1065h23v3h-23zM970 1065h162v3h-162zM916 1068h4v4h-4zM924 1068h193v4h-193zM1159 1068h8v4h-8zM920 1072h8v4h-8zM932 1072h3v4h-3zM939 1072h4v4h-4zM947 1072h151v4h-151zM1144 1072h11v4h-11zM935 1076h155v4h-155zM947 1080h131v4h-131zM1117 1080h4v4h-4zM951 1084h4v4h-4zM959 1084h3v4h-3zM966 1084h89v4h-89zM1101 1084h12v4h-12zM955 1088h4v4h-4zM970 1088h74v4h-74zM978 1092h4v3h-4zM989 1092h47v3h-47zM1074 1092h4v3h-4zM997 1095h16v4h-16zM1059 1095h8v4h-8zM1044 1099h7v4h-7zM1024 1103h4v4h-4z"/>
<path fill="#0000af" d="M519 859h4v4h-4zM519 863h4v4h-4zM519 867h4v4h-4zM515 871h4v4h-4zM515 875h4v4h-4zM515 879h4v4h-4zM534 879h4v4h-4zM515 883h4v3h-4zM530 883h4v3h-4zM511 886h4v4h-4zM530 886h4v4h-4zM565 886h4v4h-4zM515 890h4v4h-4zM534 890h4v4h-4zM550 890h3v4h-3zM565 890h4v4h-4zM519 894h7v4h-7zM538 894h4v4h-4zM546 894h4v4h-4zM565 894h4v4h-4zM542 898h8v4h-8zM580 898h4v4h-4zM530 902h8v4h-8zM550 902h3v4h-3zM565 902h4v4h-4zM580 902h4v4h-4zM538 906h4v4h-4zM553 906h12v4h-12zM580 906h4v4h-4zM615 906h4v4h-4zM561 910h4v4h-4zM580 910h8v4h-8zM596 910h4v4h-4zM615 910h4v4h-4zM565 914h8v3h-8zM588 914h4v3h-4zM596 914h4v3h-4zM615 914h4v3h-4zM573 917h4v4h-4zM592 917h8v4h-8zM631 917h3v4h-3zM580 921h4v4h-4zM600 921h4v4h-4zM611 921h4v4h-4zM631 921h3v4h-3zM584 925h8v4h-8zM604 925h3v4h-3zM611 925h4v4h-4zM631 925h3v4h-3zM607 929h8v4h-8zM631 929h3v4h-3zM646 929h4v4h-4zM665 929h4v4h-4zM1202 929h4v4h-4zM615 933h4v4h-4zM634 933h4v4h-4zM646 933h4v4h-4zM665 933h4v4h-4zM619 937h8v4h-8zM638 937h12v4h-12zM665 937h4v4h-4zM1202 937h7v4h-7zM627 941h7v3h-7zM646 941h4v3h-4zM662 941h3v3h-3zM681 941h4v3h-4zM1198 941h19v3h-19zM634 944h4v4h-4zM650 944h8v4h-8zM662 944h3v4h-3zM681 944h4v4h-4zM1190 944h8v4h-8zM1202 944h19v4h-19zM638 948h4v4h-4zM658 948h7v4h-7zM681 948h4v4h-4zM716 948h3v4h-3zM1182 948h20v4h-20zM1206 948h19v4h-19zM662 952h7v4h-7zM681 952h4v4h-4zM696 952h4v4h-4zM716 952h3v4h-3zM1159 952h47v4h-47zM1209 952h4v4h-4zM1217 952h12v4h-12zM669 956h4v4h-4zM685 956h7v4h-7zM696 956h4v4h-4zM716 956h3v4h-3zM1140 956h66v4h-66zM1209 956h27v4h-27zM673 960h8v4h-8zM692 960h8v4h-8zM712 960h4v4h-4zM731 960h4v4h-4zM1140 960h50v4h-50zM1198 960h11v4h-11zM1213 960h8v4h-8zM1225 960h15v4h-15zM681 964h4v4h-4zM696 964h4v4h-4zM712 964h7v4h-7zM731 964h4v4h-4zM1117 964h62v4h-62zM1182 964h58v4h-58zM1244 964h4v4h-4zM685 968h7v4h-7zM700 968h8v4h-8zM712 968h4v4h-4zM719 968h8v4h-8zM731 968h4v4h-4zM750 968h4v4h-4zM1098 968h65v4h-65zM1175 968h69v4h-69zM708 972h8v3h-8zM727 972h4v3h-4zM746 972h4v3h-4zM1094 972h54v3h-54zM1155 972h54v3h-54zM1225 972h27v3h-27zM716 975h3v4h-3zM731 975h8v4h-8zM746 975h8v4h-8zM1078 975h120v4h-120zM1233 975h15v4h-15zM1260 975h3v4h-3zM719 979h4v4h-4zM739 979h7v4h-7zM754 979h4v4h-4zM1055 979h66v4h-66zM1128 979h62v4h-62zM1236 979h4v4h-4zM758 983h8v4h-8zM781 983h4v4h-4zM1047 983h58v4h-58zM1113 983h58v4h-58zM1221 983h4v4h-4zM746 987h8v4h-8zM762 987h8v4h-8zM781 987h4v4h-4zM1036 987h119v4h-119zM1256 987h7v4h-7zM754 991h4v4h-4zM770 991h3v4h-3zM781 991h4v4h-4zM1013 991h61v4h-61zM1086 991h62v4h-62zM1194 991h12v4h-12zM773 995h8v4h-8zM785 995h8v4h-8zM797 995h7v4h-7zM1001 995h62v4h-62zM1071 995h57v4h-57zM1179 995h3v4h-3zM777 999h8v4h-8zM793 999h7v4h-7zM804 999h8v4h-8zM816 999h4v4h-4zM835 999h4v4h-4zM993 999h54v4h-54zM1051 999h58v4h-58zM1163 999h4v4h-4zM785 1003h4v3h-4zM797 1003h3v3h-3zM812 1003h8v3h-8zM835 1003h4v3h-4zM974 1003h58v3h-58zM1040 1003h65v3h-65zM1152 1003h7v3h-7zM789 1006h4v4h-4zM800 1006h8v4h-8zM812 1006h8v4h-8zM835 1006h4v4h-4zM959 1006h61v4h-61zM1028 1006h58v4h-58zM1136 1006h8v4h-8zM808 1010h8v4h-8zM820 1010h7v4h-7zM831 1010h12v4h-12zM851 1010h3v4h-3zM951 1010h54v4h-54zM1009 1010h58v4h-58zM827 1014h8v4h-8zM843 1014h4v4h-4zM851 1014h7v4h-7zM874 1014h4v4h-4zM932 1014h57v4h-57zM993 1014h66v4h-66zM1105 1014h8v4h-8zM831 1018h4v4h-4zM847 1018h4v4h-4zM858 1018h4v4h-4zM878 1018h3v4h-3zM905 1018h69v4h-69zM986 1018h58v4h-58zM1094 1018h7v4h-7zM835 1022h8v4h-8zM851 1022h3v4h-3zM862 1022h4v4h-4zM870 1022h8v4h-8zM881 1022h4v4h-4zM897 1022h8v4h-8zM908 1022h54v4h-54zM966 1022h58v4h-58zM843 1026h4v4h-4zM854 1026h8v4h-8zM866 1026h8v4h-8zM878 1026h3v4h-3zM885 1026h4v4h-4zM893 1026h4v4h-4zM901 1026h7v4h-7zM912 1026h101v4h-101zM1063 1026h8v4h-8zM862 1030h4v4h-4zM874 1030h4v4h-4zM881 1030h4v4h-4zM889 1030h4v4h-4zM897 1030h4v4h-4zM905 1030h7v4h-7zM916 1030h4v4h-4zM924 1030h4v4h-4zM947 1030h54v4h-54zM1047 1030h12v4h-12zM878 1034h3v3h-3zM885 1034h4v3h-4zM893 1034h12v3h-12zM908 1034h4v3h-4zM916 1034h66v3h-66zM1036 1034h4v3h-4zM889 1037h8v4h-8zM901 1037h15v4h-15zM920 1037h46v4h-46zM1020 1037h4v4h-4zM897 1041h4v4h-4zM905 1041h15v4h-15zM924 1041h35v4h-35zM1005 1041h12v4h-12zM901 1045h4v4h-4zM908 1045h4v4h-4zM916 1045h31v4h-31zM993 1045h4v4h-4zM912 1049h16v4h-16zM932 1049h19v4h-19zM939 1053h16v4h-16zM962 1053h12v4h-12zM943 1057h8v4h-8zM966 1065h4v3h-4z"/>
<path fill="#0000bf" d="M523 840h3v4h-3zM523 844h3v4h-3zM519 848h4v4h-4zM519 852h4v3h-4zM519 855h4v4h-4zM538 859h4v4h-4zM534 863h4v4h-4zM534 867h4v4h-4zM534 871h4v4h-4zM553 871h4v4h-4zM550 875h3v4h-3zM519 879h4v4h-4zM550 879h3v4h-3zM584 879h4v4h-4zM523 883h3v3h-3zM550 883h3v3h-3zM584 883h4v3h-4zM526 886h4v4h-4zM550 886h7v4h-7zM584 886h4v4h-4zM557 890h4v4h-4zM584 890h4v4h-4zM600 890h4v4h-4zM561 894h4v4h-4zM600 894h4v4h-4zM565 898h8v4h-8zM600 898h4v4h-4zM573 902h4v4h-4zM600 902h4v4h-4zM634 902h4v4h-4zM577 906h3v4h-3zM600 906h4v4h-4zM634 906h4v4h-4zM604 910h3v4h-3zM634 910h4v4h-4zM607 914h8v3h-8zM634 914h4v3h-4zM650 914h4v3h-4zM669 914h4v3h-4zM1163 914h4v3h-4zM615 917h4v4h-4zM634 917h4v4h-4zM650 917h4v4h-4zM669 917h4v4h-4zM1152 917h19v4h-19zM619 921h4v4h-4zM638 921h4v4h-4zM650 921h4v4h-4zM665 921h4v4h-4zM685 921h4v4h-4zM1125 921h3v4h-3zM1132 921h31v4h-31zM1167 921h8v4h-8zM623 925h8v4h-8zM642 925h12v4h-12zM665 925h4v4h-4zM685 925h4v4h-4zM1128 925h39v4h-39zM1171 925h8v4h-8zM1186 925h16v4h-16zM650 929h4v4h-4zM685 929h4v4h-4zM1109 929h62v4h-62zM1175 929h11v4h-11zM1190 929h12v4h-12zM654 933h4v4h-4zM685 933h4v4h-4zM1078 933h8v4h-8zM1090 933h38v4h-38zM1132 933h23v4h-23zM1167 933h8v4h-8zM1179 933h11v4h-11zM1194 933h15v4h-15zM658 937h7v4h-7zM681 937h4v4h-4zM1078 937h54v4h-54zM1136 937h43v4h-43zM1182 937h12v4h-12zM1209 937h4v4h-4zM665 941h4v3h-4zM685 941h4v3h-4zM700 941h4v3h-4zM719 941h4v3h-4zM1067 941h11v3h-11zM1082 941h46v3h-46zM1136 941h46v3h-46zM1186 941h12v3h-12zM669 944h4v4h-4zM689 944h7v4h-7zM700 944h4v4h-4zM716 944h3v4h-3zM1036 944h8v4h-8zM1047 944h35v4h-35zM1086 944h27v4h-27zM1125 944h11v4h-11zM1140 944h50v4h-50zM673 948h8v4h-8zM696 948h4v4h-4zM1032 948h66v4h-66zM1105 948h77v4h-77zM700 952h4v4h-4zM719 952h4v4h-4zM1024 952h8v4h-8zM1036 952h50v4h-50zM1090 952h69v4h-69zM1213 952h4v4h-4zM1229 952h4v4h-4zM704 956h8v4h-8zM723 956h12v4h-12zM750 956h4v4h-4zM993 956h4v4h-4zM1005 956h66v4h-66zM1082 956h58v4h-58zM1206 956h3v4h-3zM750 960h4v4h-4zM986 960h50v4h-50zM1040 960h15v4h-15zM1063 960h27v4h-27zM1094 960h46v4h-46zM1190 960h8v4h-8zM735 964h4v4h-4zM750 964h4v4h-4zM989 964h51v4h-51zM1044 964h73v4h-73zM1179 964h3v4h-3zM739 968h4v4h-4zM754 968h4v4h-4zM770 968h3v4h-3zM951 968h4v4h-4zM962 968h66v4h-66zM1040 968h54v4h-54zM1163 968h12v4h-12zM743 972h3v3h-3zM758 972h4v3h-4zM766 972h4v3h-4zM773 972h4v3h-4zM785 972h4v3h-4zM943 972h46v3h-46zM993 972h20v3h-20zM1020 972h24v3h-24zM1047 972h47v3h-47zM1148 972h7v3h-7zM762 975h8v4h-8zM777 975h4v4h-4zM785 975h4v4h-4zM804 975h4v4h-4zM939 975h54v4h-54zM1001 975h77v4h-77zM766 979h7v4h-7zM781 979h8v4h-8zM804 979h4v4h-4zM908 979h4v4h-4zM920 979h19v4h-19zM943 979h43v4h-43zM997 979h58v4h-58zM1121 979h7v4h-7zM773 983h4v4h-4zM789 983h4v4h-4zM800 983h8v4h-8zM820 983h4v4h-4zM893 983h4v4h-4zM901 983h42v4h-42zM947 983h23v4h-23zM978 983h19v4h-19zM1001 983h46v4h-46zM1105 983h8v4h-8zM777 987h4v4h-4zM793 987h4v4h-4zM800 987h4v4h-4zM808 987h4v4h-4zM820 987h7v4h-7zM897 987h50v4h-50zM951 987h4v4h-4zM959 987h77v4h-77zM797 991h7v4h-7zM812 991h12v4h-12zM827 991h4v4h-4zM885 991h12v4h-12zM901 991h38v4h-38zM951 991h62v4h-62zM1074 991h12v4h-12zM816 995h8v4h-8zM831 995h4v4h-4zM839 995h8v4h-8zM862 995h8v4h-8zM889 995h12v4h-12zM905 995h23v4h-23zM935 995h16v4h-16zM955 995h46v4h-46zM1063 995h8v4h-8zM824 999h3v4h-3zM847 999h4v4h-4zM858 999h4v4h-4zM866 999h8v4h-8zM893 999h12v4h-12zM908 999h4v4h-4zM916 999h77v4h-77zM1047 999h4v4h-4zM827 1003h4v3h-4zM839 1003h8v3h-8zM851 1003h3v3h-3zM858 1003h8v3h-8zM870 1003h8v3h-8zM889 1003h16v3h-16zM912 1003h62v3h-62zM1032 1003h8v3h-8zM831 1006h4v4h-4zM847 1006h4v4h-4zM854 1006h4v4h-4zM866 1006h4v4h-4zM874 1006h7v4h-7zM885 1006h74v4h-74zM1020 1006h8v4h-8zM854 1010h8v4h-8zM870 1010h4v4h-4zM878 1010h7v4h-7zM889 1010h23v4h-23zM916 1010h35v4h-35zM1005 1010h4v4h-4zM862 1014h4v4h-4zM881 1014h8v4h-8zM893 1014h39v4h-39zM989 1014h4v4h-4zM866 1018h8v4h-8zM885 1018h8v4h-8zM897 1018h8v4h-8zM974 1018h12v4h-12zM889 1022h8v4h-8zM962 1022h4v4h-4zM920 1030h4v4h-4zM928 1030h19v4h-19zM912 1034h4v3h-4z"/>
<path fill="#0000cf" d="M538 836h4v4h-4zM538 840h4v4h-4zM538 844h4v4h-4zM538 848h4v4h-4zM538 852h4v3h-4zM553 852h4v3h-4zM553 855h4v4h-4zM553 859h4v4h-4zM523 863h3v4h-3zM553 863h4v4h-4zM569 863h4v4h-4zM526 867h4v4h-4zM569 867h4v4h-4zM530 871h4v4h-4zM569 871h4v4h-4zM604 871h3v4h-3zM534 875h8v4h-8zM569 875h4v4h-4zM604 875h3v4h-3zM542 879h4v4h-4zM569 879h4v4h-4zM604 879h3v4h-3zM546 883h4v3h-4zM569 883h4v3h-4zM604 883h3v3h-3zM638 883h4v3h-4zM573 886h7v4h-7zM604 886h3v4h-3zM619 886h4v4h-4zM638 886h4v4h-4zM580 890h4v4h-4zM604 890h3v4h-3zM619 890h4v4h-4zM638 890h4v4h-4zM584 894h4v4h-4zM607 894h4v4h-4zM619 894h4v4h-4zM634 894h4v4h-4zM1152 894h3v4h-3zM1163 894h4v4h-4zM588 898h4v4h-4zM611 898h4v4h-4zM619 898h4v4h-4zM634 898h4v4h-4zM654 898h4v4h-4zM1144 898h8v4h-8zM1155 898h4v4h-4zM1167 898h4v4h-4zM592 902h8v4h-8zM615 902h8v4h-8zM654 902h4v4h-4zM1136 902h8v4h-8zM1148 902h7v4h-7zM1159 902h4v4h-4zM1171 902h4v4h-4zM619 906h4v4h-4zM654 906h4v4h-4zM1121 906h27v4h-27zM1152 906h7v4h-7zM1163 906h4v4h-4zM1171 906h8v4h-8zM623 910h8v4h-8zM650 910h4v4h-4zM1105 910h47v4h-47zM1155 910h8v4h-8zM1167 910h15v4h-15zM631 914h3v3h-3zM654 914h4v3h-4zM689 914h3v3h-3zM1094 914h15v3h-15zM1113 914h46v3h-46zM1167 914h4v3h-4zM1175 914h11v3h-11zM658 917h4v4h-4zM685 917h4v4h-4zM1074 917h39v4h-39zM1117 917h23v4h-23zM1171 917h4v4h-4zM1179 917h11v4h-11zM662 921h3v4h-3zM1063 921h54v4h-54zM1121 921h4v4h-4zM1175 921h4v4h-4zM1182 921h8v4h-8zM689 925h3v4h-3zM723 925h4v4h-4zM1047 925h12v4h-12zM1063 925h50v4h-50zM1179 925h3v4h-3zM669 929h8v4h-8zM692 929h4v4h-4zM704 929h4v4h-4zM719 929h4v4h-4zM1032 929h35v4h-35zM1071 929h27v4h-27zM1171 929h4v4h-4zM677 933h4v4h-4zM696 933h8v4h-8zM719 933h4v4h-4zM758 933h4v4h-4zM1020 933h51v4h-51zM1074 933h4v4h-4zM1155 933h12v4h-12zM700 937h4v4h-4zM719 937h4v4h-4zM754 937h4v4h-4zM1005 937h8v4h-8zM1017 937h54v4h-54zM1198 937h4v4h-4zM704 941h8v3h-8zM723 941h4v3h-4zM735 941h4v3h-4zM754 941h4v3h-4zM989 941h28v3h-28zM1020 941h35v3h-35zM1128 941h8v3h-8zM712 944h4v4h-4zM727 944h4v4h-4zM735 944h4v4h-4zM754 944h4v4h-4zM974 944h50v4h-50zM1028 944h8v4h-8zM1113 944h12v4h-12zM731 948h8v4h-8zM754 948h4v4h-4zM962 948h4v4h-4zM970 948h58v4h-58zM1098 948h7v4h-7zM735 952h4v4h-4zM754 952h4v4h-4zM773 952h4v4h-4zM947 952h23v4h-23zM974 952h39v4h-39zM1086 952h4v4h-4zM739 956h4v4h-4zM758 956h4v4h-4zM770 956h3v4h-3zM777 956h4v4h-4zM932 956h42v4h-42zM978 956h15v4h-15zM1071 956h11v4h-11zM743 960h7v4h-7zM762 960h4v4h-4zM770 960h3v4h-3zM781 960h4v4h-4zM789 960h4v4h-4zM924 960h58v4h-58zM1055 960h8v4h-8zM766 964h7v4h-7zM785 964h8v4h-8zM808 964h4v4h-4zM905 964h19v4h-19zM928 964h42v4h-42zM785 968h8v4h-8zM804 968h8v4h-8zM889 968h39v4h-39zM932 968h19v4h-19zM1028 968h12v4h-12zM793 972h4v3h-4zM804 972h8v3h-8zM831 972h4v3h-4zM862 972h8v3h-8zM881 972h51v3h-51zM935 972h4v3h-4zM1013 972h7v3h-7zM797 975h3v4h-3zM812 975h4v4h-4zM831 975h4v4h-4zM854 975h4v4h-4zM866 975h15v4h-15zM885 975h43v4h-43zM997 975h4v4h-4zM800 979h4v4h-4zM816 979h4v4h-4zM824 979h7v4h-7zM835 979h4v4h-4zM851 979h3v4h-3zM858 979h4v4h-4zM870 979h15v4h-15zM889 979h19v4h-19zM986 979h11v4h-11zM831 983h4v4h-4zM839 983h4v4h-4zM851 983h7v4h-7zM862 983h4v4h-4zM874 983h15v4h-15zM970 983h8v4h-8zM835 987h4v4h-4zM843 987h4v4h-4zM854 987h8v4h-8zM866 987h4v4h-4zM874 987h11v4h-11zM955 987h4v4h-4zM839 991h4v4h-4zM847 991h7v4h-7zM858 991h8v4h-8zM870 991h4v4h-4zM878 991h7v4h-7zM939 991h12v4h-12zM854 995h4v4h-4zM874 995h4v4h-4zM881 995h8v4h-8zM928 995h7v4h-7zM878 999h3v4h-3zM885 999h8v4h-8zM912 999h4v4h-4zM881 1003h8v3h-8zM905 1003h7v3h-7zM881 1006h4v4h-4z"/>
<path fill="#0000df" d="M526 813h4v4h-4zM523 821h3v3h-3zM523 824h3v4h-3zM523 828h3v4h-3zM523 832h3v4h-3zM523 836h3v4h-3zM573 836h4v4h-4zM573 840h4v4h-4zM573 844h4v4h-4zM573 848h4v4h-4zM607 848h4v4h-4zM573 852h4v3h-4zM607 852h4v3h-4zM538 855h4v4h-4zM573 855h4v4h-4zM588 855h4v4h-4zM607 855h4v4h-4zM542 859h4v4h-4zM573 859h4v4h-4zM588 859h4v4h-4zM607 859h4v4h-4zM623 859h4v4h-4zM546 863h7v4h-7zM573 863h4v4h-4zM588 863h4v4h-4zM607 863h4v4h-4zM623 863h4v4h-4zM553 867h4v4h-4zM577 867h3v4h-3zM588 867h4v4h-4zM604 867h3v4h-3zM623 867h4v4h-4zM557 871h4v4h-4zM580 871h4v4h-4zM588 871h4v4h-4zM623 871h4v4h-4zM1144 871h4v4h-4zM561 875h4v4h-4zM584 875h8v4h-8zM623 875h4v4h-4zM1140 875h8v4h-8zM565 879h4v4h-4zM588 879h4v4h-4zM623 879h4v4h-4zM658 879h4v4h-4zM1132 879h8v4h-8zM1144 879h8v4h-8zM592 883h4v3h-4zM619 883h4v3h-4zM658 883h4v3h-4zM1128 883h8v3h-8zM1140 883h4v3h-4zM1148 883h7v3h-7zM596 886h8v4h-8zM623 886h4v4h-4zM654 886h4v4h-4zM1117 886h11v4h-11zM1132 886h8v4h-8zM1144 886h15v4h-15zM627 890h4v4h-4zM654 890h4v4h-4zM1101 890h31v4h-31zM1136 890h8v4h-8zM1148 890h15v4h-15zM631 894h3v4h-3zM1086 894h50v4h-50zM1140 894h8v4h-8zM1155 894h8v4h-8zM673 898h4v4h-4zM1074 898h4v4h-4zM1082 898h58v4h-58zM1159 898h8v4h-8zM638 902h4v4h-4zM669 902h4v4h-4zM1059 902h27v4h-27zM1090 902h35v4h-35zM1163 902h8v4h-8zM642 906h8v4h-8zM669 906h4v4h-4zM723 906h4v4h-4zM1044 906h50v4h-50zM1098 906h15v4h-15zM1167 906h4v4h-4zM689 910h3v4h-3zM708 910h4v4h-4zM723 910h4v4h-4zM1032 910h66v4h-66zM1163 910h4v4h-4zM673 914h8v3h-8zM692 914h4v3h-4zM704 914h4v3h-4zM723 914h4v3h-4zM1017 914h19v3h-19zM1040 914h42v3h-42zM1159 914h4v3h-4zM681 917h4v4h-4zM696 917h4v4h-4zM704 917h4v4h-4zM723 917h4v4h-4zM758 917h4v4h-4zM1001 917h46v4h-46zM1051 917h20v4h-20zM1140 917h12v4h-12zM700 921h8v4h-8zM723 921h4v4h-4zM739 921h4v4h-4zM758 921h4v4h-4zM986 921h69v4h-69zM1059 921h4v4h-4zM1128 921h4v4h-4zM1190 921h4v4h-4zM704 925h4v4h-4zM727 925h4v4h-4zM739 925h4v4h-4zM758 925h4v4h-4zM974 925h15v4h-15zM993 925h47v4h-47zM1113 925h15v4h-15zM708 929h4v4h-4zM731 929h4v4h-4zM739 929h4v4h-4zM758 929h4v4h-4zM955 929h42v4h-42zM1001 929h23v4h-23zM1098 929h11v4h-11zM712 933h4v4h-4zM735 933h8v4h-8zM943 933h62v4h-62zM1009 933h4v4h-4zM1017 933h3v4h-3zM1086 933h4v4h-4zM716 937h3v4h-3zM739 937h4v4h-4zM758 937h4v4h-4zM773 937h4v4h-4zM928 937h15v4h-15zM947 937h50v4h-50zM1071 937h7v4h-7zM743 941h3v3h-3zM762 941h4v3h-4zM773 941h8v3h-8zM912 941h39v3h-39zM955 941h27v3h-27zM1055 941h12v3h-12zM746 944h4v4h-4zM766 944h4v4h-4zM773 944h4v4h-4zM781 944h4v4h-4zM901 944h58v4h-58zM962 944h4v4h-4zM1044 944h3v4h-3zM750 948h4v4h-4zM770 948h7v4h-7zM785 948h4v4h-4zM793 948h7v4h-7zM889 948h4v4h-4zM897 948h58v4h-58zM1028 948h4v4h-4zM770 952h3v4h-3zM789 952h8v4h-8zM800 952h4v4h-4zM812 952h4v4h-4zM843 952h4v4h-4zM870 952h31v4h-31zM905 952h34v4h-34zM1013 952h11v4h-11zM789 956h8v4h-8zM804 956h4v4h-4zM812 956h8v4h-8zM839 956h73v4h-73zM916 956h8v4h-8zM997 956h8v4h-8zM797 960h3v4h-3zM808 960h4v4h-4zM820 960h4v4h-4zM835 960h4v4h-4zM843 960h19v4h-19zM866 960h46v4h-46zM800 964h4v4h-4zM812 964h4v4h-4zM824 964h3v4h-3zM831 964h4v4h-4zM839 964h4v4h-4zM847 964h19v4h-19zM870 964h27v4h-27zM970 964h16v4h-16zM816 968h4v4h-4zM827 968h4v4h-4zM835 968h4v4h-4zM843 968h4v4h-4zM851 968h3v4h-3zM862 968h12v4h-12zM878 968h3v4h-3zM885 968h4v4h-4zM955 968h7v4h-7zM820 972h4v3h-4zM827 972h4v3h-4zM839 972h4v3h-4zM847 972h7v3h-7zM858 972h4v3h-4zM870 972h4v3h-4zM939 972h4v3h-4zM824 975h3v4h-3zM843 975h8v4h-8zM862 975h4v4h-4zM928 975h11v4h-11zM847 979h4v4h-4zM866 979h4v4h-4zM912 979h8v4h-8zM843 983h4v4h-4zM870 983h4v4h-4zM897 983h4v4h-4zM870 987h4v4h-4zM885 987h12v4h-12zM866 991h4v4h-4z"/>
<path fill="#0000ef" d="M542 801h4v4h-4zM542 805h4v4h-4zM542 809h4v4h-4zM542 813h4v4h-4zM542 817h4v4h-4zM557 817h4v4h-4zM542 821h4v3h-4zM557 821h4v3h-4zM542 824h4v4h-4zM557 824h4v4h-4zM542 828h4v4h-4zM557 828h4v4h-4zM592 828h4v4h-4zM557 832h4v4h-4zM592 832h4v4h-4zM557 836h4v4h-4zM592 836h4v4h-4zM557 840h4v4h-4zM592 840h4v4h-4zM526 844h4v4h-4zM557 844h4v4h-4zM592 844h4v4h-4zM530 848h4v4h-4zM557 848h4v4h-4zM588 848h4v4h-4zM534 852h4v3h-4zM561 852h4v3h-4zM565 855h4v4h-4zM1125 855h7v4h-7zM569 859h4v4h-4zM1121 859h7v4h-7zM1132 859h4v4h-4zM642 863h4v4h-4zM1117 863h4v4h-4zM1125 863h15v4h-15zM642 867h4v4h-4zM1109 867h8v4h-8zM1121 867h4v4h-4zM1128 867h16v4h-16zM607 871h4v4h-4zM638 871h4v4h-4zM1090 871h31v4h-31zM1125 871h7v4h-7zM611 875h4v4h-4zM638 875h4v4h-4zM677 875h4v4h-4zM1082 875h8v4h-8zM1094 875h31v4h-31zM1128 875h4v4h-4zM615 879h4v4h-4zM677 879h4v4h-4zM1063 879h35v4h-35zM1101 879h16v4h-16zM1121 879h7v4h-7zM642 883h4v3h-4zM673 883h4v3h-4zM712 883h4v3h-4zM1047 883h58v3h-58zM1109 883h16v3h-16zM646 886h4v4h-4zM673 886h4v4h-4zM708 886h4v4h-4zM1040 886h69v4h-69zM650 890h4v4h-4zM673 890h4v4h-4zM708 890h4v4h-4zM1020 890h31v4h-31zM1055 890h39v4h-39zM654 894h4v4h-4zM673 894h4v4h-4zM692 894h4v4h-4zM708 894h4v4h-4zM1005 894h58v4h-58zM1067 894h11v4h-11zM1082 894h4v4h-4zM1148 894h4v4h-4zM658 898h4v4h-4zM677 898h4v4h-4zM689 898h3v4h-3zM708 898h4v4h-4zM743 898h3v4h-3zM982 898h4v4h-4zM989 898h74v4h-74zM1140 898h4v4h-4zM662 902h3v4h-3zM681 902h4v4h-4zM689 902h3v4h-3zM708 902h4v4h-4zM743 902h3v4h-3zM978 902h23v4h-23zM1005 902h46v4h-46zM1125 902h11v4h-11zM665 906h4v4h-4zM685 906h7v4h-7zM708 906h4v4h-4zM743 906h3v4h-3zM962 906h55v4h-55zM1020 906h16v4h-16zM1040 906h4v4h-4zM1113 906h8v4h-8zM669 910h4v4h-4zM712 910h4v4h-4zM743 910h3v4h-3zM947 910h73v4h-73zM1098 910h7v4h-7zM716 914h3v3h-3zM743 914h3v3h-3zM935 914h16v3h-16zM955 914h50v3h-50zM1082 914h12v3h-12zM719 917h4v4h-4zM743 917h3v4h-3zM920 917h46v4h-46zM970 917h23v4h-23zM997 917h4v4h-4zM1071 917h3v4h-3zM746 921h4v4h-4zM762 921h4v4h-4zM905 921h73v4h-73zM1055 921h4v4h-4zM746 925h4v4h-4zM766 925h4v4h-4zM893 925h8v4h-8zM905 925h57v4h-57zM1040 925h7v4h-7zM750 929h4v4h-4zM770 929h3v4h-3zM777 929h8v4h-8zM800 929h4v4h-4zM878 929h38v4h-38zM920 929h31v4h-31zM1024 929h8v4h-8zM754 933h4v4h-4zM770 933h3v4h-3zM777 933h4v4h-4zM785 933h4v4h-4zM804 933h4v4h-4zM862 933h70v4h-70zM939 933h4v4h-4zM1013 933h4v4h-4zM785 937h4v4h-4zM797 937h3v4h-3zM808 937h4v4h-4zM824 937h15v4h-15zM854 937h66v4h-66zM997 937h8v4h-8zM789 941h4v3h-4zM797 941h7v3h-7zM812 941h4v3h-4zM824 941h3v3h-3zM831 941h27v3h-27zM862 941h12v3h-12zM878 941h27v3h-27zM982 941h7v3h-7zM793 944h4v4h-4zM804 944h4v4h-4zM812 944h4v4h-4zM820 944h4v4h-4zM827 944h4v4h-4zM835 944h50v4h-50zM889 944h4v4h-4zM897 944h4v4h-4zM966 944h8v4h-8zM808 948h4v4h-4zM816 948h4v4h-4zM824 948h3v4h-3zM831 948h4v4h-4zM839 948h39v4h-39zM955 948h7v4h-7zM820 952h4v4h-4zM827 952h4v4h-4zM835 952h4v4h-4zM851 952h15v4h-15zM939 952h8v4h-8zM824 956h3v4h-3zM831 956h4v4h-4zM924 956h8v4h-8zM827 960h4v4h-4zM912 960h12v4h-12zM897 964h8v4h-8zM854 968h8v4h-8zM881 968h4v4h-4zM854 972h4v3h-4zM874 972h7v3h-7zM851 975h3v4h-3z"/>
<path fill="#0000ff" d="M526 778h4v4h-4zM526 782h4v4h-4zM526 786h4v4h-4zM526 790h4v4h-4zM526 794h4v3h-4zM526 797h4v4h-4zM526 801h4v4h-4zM577 801h3v4h-3zM526 805h4v4h-4zM577 805h3v4h-3zM526 809h4v4h-4zM577 809h3v4h-3zM577 813h3v4h-3zM577 817h3v4h-3zM577 821h3v3h-3zM577 824h3v4h-3zM577 828h3v4h-3zM542 832h4v4h-4zM573 832h4v4h-4zM546 836h4v4h-4zM1109 836h8v4h-8zM550 840h3v4h-3zM1105 840h4v4h-4zM1113 840h8v4h-8zM553 844h4v4h-4zM627 844h4v4h-4zM1101 844h4v4h-4zM1109 844h16v4h-16zM627 848h4v4h-4zM1094 848h7v4h-7zM1105 848h4v4h-4zM1113 848h12v4h-12zM627 852h4v3h-4zM1078 852h27v3h-27zM1109 852h8v3h-8zM592 855h4v4h-4zM623 855h4v4h-4zM662 855h3v4h-3zM1067 855h11v4h-11zM1082 855h19v4h-19zM1105 855h8v4h-8zM1117 855h4v4h-4zM596 859h4v4h-4zM662 859h3v4h-3zM1047 859h58v4h-58zM1109 859h8v4h-8zM600 863h4v4h-4zM627 863h4v4h-4zM658 863h4v4h-4zM1036 863h73v4h-73zM631 867h3v4h-3zM658 867h4v4h-4zM692 867h4v4h-4zM1028 867h70v4h-70zM634 871h4v4h-4zM658 871h4v4h-4zM692 871h4v4h-4zM1005 871h54v4h-54zM1063 871h23v4h-23zM1136 871h8v4h-8zM658 875h4v4h-4zM692 875h4v4h-4zM989 875h82v4h-82zM1132 875h4v4h-4zM638 879h4v4h-4zM662 879h3v4h-3zM692 879h4v4h-4zM731 879h4v4h-4zM978 879h77v4h-77zM1128 879h4v4h-4zM662 883h3v3h-3zM692 883h4v3h-4zM727 883h4v3h-4zM962 883h43v3h-43zM1009 883h31v3h-31zM1125 883h3v3h-3zM665 886h4v4h-4zM692 886h4v4h-4zM727 886h4v4h-4zM947 886h81v4h-81zM1109 886h8v4h-8zM669 890h4v4h-4zM692 890h4v4h-4zM727 890h4v4h-4zM932 890h81v4h-81zM1094 890h7v4h-7zM696 894h4v4h-4zM727 894h4v4h-4zM920 894h31v4h-31zM955 894h42v4h-42zM1078 894h4v4h-4zM700 898h4v4h-4zM727 898h4v4h-4zM905 898h77v4h-77zM986 898h3v4h-3zM1063 898h11v4h-11zM704 902h4v4h-4zM727 902h4v4h-4zM746 902h4v4h-4zM889 902h81v4h-81zM1051 902h8v4h-8zM731 906h4v4h-4zM750 906h4v4h-4zM762 906h4v4h-4zM878 906h23v4h-23zM905 906h50v4h-50zM1036 906h4v4h-4zM735 910h4v4h-4zM754 910h4v4h-4zM762 910h8v4h-8zM785 910h4v4h-4zM862 910h70v4h-70zM935 910h4v4h-4zM943 910h4v4h-4zM1020 910h12v4h-12zM739 914h4v3h-4zM754 914h4v3h-4zM762 914h4v3h-4zM770 914h3v3h-3zM781 914h4v3h-4zM789 914h4v3h-4zM812 914h4v3h-4zM851 914h77v3h-77zM1005 914h12v3h-12zM773 917h4v4h-4zM781 917h8v4h-8zM793 917h4v4h-4zM808 917h16v4h-16zM835 917h4v4h-4zM843 917h15v4h-15zM862 917h50v4h-50zM993 917h4v4h-4zM773 921h4v4h-4zM781 921h8v4h-8zM797 921h7v4h-7zM812 921h66v4h-66zM881 921h16v4h-16zM901 921h4v4h-4zM978 921h8v4h-8zM777 925h4v4h-4zM789 925h4v4h-4zM797 925h3v4h-3zM804 925h4v4h-4zM812 925h4v4h-4zM820 925h61v4h-61zM962 925h12v4h-12zM793 929h4v4h-4zM808 929h4v4h-4zM816 929h4v4h-4zM824 929h46v4h-46zM951 929h4v4h-4zM797 933h3v4h-3zM812 933h4v4h-4zM820 933h4v4h-4zM835 933h8v4h-8zM847 933h7v4h-7zM858 933h4v4h-4zM935 933h4v4h-4zM816 937h4v4h-4zM920 937h8v4h-8zM816 941h8v3h-8zM905 941h7v3h-7zM816 944h4v4h-4zM893 944h4v4h-4zM878 948h11v4h-11zM839 952h4v4h-4zM847 952h4v4h-4zM866 952h4v4h-4zM835 956h4v4h-4z"/>
<path fill="#0010ff" d="M561 786h4v4h-4zM561 790h4v4h-4zM561 794h4v3h-4zM561 797h4v4h-4zM561 801h4v4h-4zM596 801h4v4h-4zM561 805h4v4h-4zM596 805h4v4h-4zM561 809h4v4h-4zM596 809h4v4h-4zM557 813h4v4h-4zM596 813h4v4h-4zM526 817h4v4h-4zM561 817h4v4h-4zM592 817h4v4h-4zM1090 817h4v4h-4zM1101 817h4v4h-4zM530 821h4v3h-4zM561 821h4v3h-4zM592 821h4v3h-4zM1086 821h4v3h-4zM1094 821h4v3h-4zM534 824h4v4h-4zM565 824h4v4h-4zM592 824h4v4h-4zM611 824h4v4h-4zM1082 824h4v4h-4zM1090 824h8v4h-8zM538 828h4v4h-4zM569 828h4v4h-4zM611 828h4v4h-4zM1067 828h4v4h-4zM1074 828h8v4h-8zM1086 828h8v4h-8zM1098 828h3v4h-3zM1109 828h4v4h-4zM611 832h4v4h-4zM1055 832h35v4h-35zM1094 832h4v4h-4zM1101 832h4v4h-4zM577 836h3v4h-3zM607 836h4v4h-4zM646 836h4v4h-4zM1040 836h54v4h-54zM1098 836h7v4h-7zM580 840h4v4h-4zM607 840h4v4h-4zM646 840h4v4h-4zM681 840h4v4h-4zM1032 840h35v4h-35zM1071 840h19v4h-19zM1094 840h7v4h-7zM584 844h4v4h-4zM607 844h4v4h-4zM642 844h4v4h-4zM1013 844h81v4h-81zM584 848h4v4h-4zM611 848h4v4h-4zM642 848h4v4h-4zM677 848h4v4h-4zM997 848h85v4h-85zM588 852h4v3h-4zM615 852h4v3h-4zM642 852h4v3h-4zM677 852h4v3h-4zM982 852h89v3h-89zM1074 852h4v3h-4zM1121 852h7v3h-7zM619 855h4v4h-4zM642 855h4v4h-4zM677 855h4v4h-4zM970 855h85v4h-85zM1121 855h4v4h-4zM642 859h4v4h-4zM677 859h4v4h-4zM716 859h3v4h-3zM955 859h85v4h-85zM1117 859h4v4h-4zM646 863h4v4h-4zM677 863h4v4h-4zM712 863h4v4h-4zM939 863h89v4h-89zM1032 863h4v4h-4zM1113 863h4v4h-4zM650 867h4v4h-4zM677 867h4v4h-4zM712 867h4v4h-4zM928 867h85v4h-85zM1098 867h11v4h-11zM654 871h4v4h-4zM677 871h4v4h-4zM712 871h4v4h-4zM912 871h85v4h-85zM1086 871h4v4h-4zM681 875h4v4h-4zM712 875h4v4h-4zM897 875h89v4h-89zM1071 875h11v4h-11zM681 879h4v4h-4zM712 879h4v4h-4zM885 879h85v4h-85zM974 879h4v4h-4zM1055 879h8v4h-8zM685 883h4v3h-4zM731 883h4v3h-4zM866 883h89v3h-89zM1040 883h7v3h-7zM689 886h3v4h-3zM712 886h4v4h-4zM735 886h4v4h-4zM854 886h85v4h-85zM1028 886h12v4h-12zM716 890h3v4h-3zM739 890h4v4h-4zM746 890h8v4h-8zM843 890h50v4h-50zM897 890h35v4h-35zM1013 890h7v4h-7zM719 894h4v4h-4zM739 894h4v4h-4zM746 894h4v4h-4zM754 894h4v4h-4zM766 894h4v4h-4zM793 894h4v4h-4zM824 894h88v4h-88zM997 894h8v4h-8zM723 898h4v4h-4zM758 898h4v4h-4zM766 898h7v4h-7zM793 898h4v4h-4zM808 898h4v4h-4zM816 898h81v4h-81zM758 902h8v4h-8zM773 902h4v4h-4zM789 902h4v4h-4zM797 902h3v4h-3zM808 902h16v4h-16zM827 902h20v4h-20zM851 902h30v4h-30zM885 902h4v4h-4zM970 902h8v4h-8zM773 906h4v4h-4zM785 906h4v4h-4zM793 906h4v4h-4zM800 906h4v4h-4zM812 906h58v4h-58zM955 906h7v4h-7zM777 910h4v4h-4zM793 910h4v4h-4zM800 910h4v4h-4zM816 910h38v4h-38zM939 910h4v4h-4zM797 914h3v3h-3zM804 914h4v3h-4zM820 914h7v3h-7zM831 914h8v3h-8zM843 914h8v3h-8zM928 914h7v3h-7zM800 917h4v4h-4zM827 917h4v4h-4zM912 917h8v4h-8zM897 921h4v4h-4zM800 925h4v4h-4zM881 925h12v4h-12zM870 929h8v4h-8zM824 933h7v4h-7zM854 933h4v4h-4zM820 937h4v4h-4zM839 937h15v4h-15z"/>
<path fill="#0020ff" d="M546 759h4v4h-4zM546 763h4v3h-4zM546 766h4v4h-4zM546 770h4v4h-4zM546 774h4v4h-4zM546 778h4v4h-4zM580 778h4v4h-4zM546 782h4v4h-4zM580 782h4v4h-4zM546 786h4v4h-4zM580 786h4v4h-4zM546 790h4v4h-4zM580 790h4v4h-4zM546 794h4v3h-4zM580 794h4v3h-4zM542 797h4v4h-4zM577 797h3v4h-3zM1071 797h3v4h-3zM546 801h4v4h-4zM1067 801h4v4h-4zM1074 801h4v4h-4zM550 805h3v4h-3zM1051 805h4v4h-4zM1063 805h4v4h-4zM1071 805h7v4h-7zM1094 805h4v4h-4zM553 809h4v4h-4zM1040 809h34v4h-34zM1078 809h4v4h-4zM631 813h3v4h-3zM1024 813h43v4h-43zM1071 813h7v4h-7zM1082 813h4v4h-4zM1094 813h7v4h-7zM631 817h3v4h-3zM665 817h4v4h-4zM1009 817h4v4h-4zM1017 817h34v4h-34zM1055 817h19v4h-19zM1078 817h8v4h-8zM1094 817h7v4h-7zM631 821h3v3h-3zM997 821h85v3h-85zM1098 821h7v3h-7zM596 824h4v4h-4zM627 824h4v4h-4zM665 824h4v4h-4zM982 824h92v4h-92zM1101 824h8v4h-8zM596 828h4v4h-4zM627 828h4v4h-4zM662 828h3v4h-3zM966 828h97v4h-97zM1101 828h8v4h-8zM600 832h4v4h-4zM627 832h4v4h-4zM662 832h3v4h-3zM955 832h92v4h-92zM604 836h3v4h-3zM627 836h4v4h-4zM662 836h3v4h-3zM939 836h93v4h-93zM1036 836h4v4h-4zM1105 836h4v4h-4zM627 840h4v4h-4zM662 840h3v4h-3zM924 840h96v4h-96zM1101 840h4v4h-4zM631 844h3v4h-3zM662 844h3v4h-3zM696 844h4v4h-4zM912 844h93v4h-93zM1098 844h3v4h-3zM634 848h4v4h-4zM662 848h3v4h-3zM696 848h4v4h-4zM893 848h96v4h-96zM993 848h4v4h-4zM1082 848h12v4h-12zM634 852h4v3h-4zM662 852h3v3h-3zM696 852h4v3h-4zM881 852h101v3h-101zM1071 852h3v3h-3zM638 855h4v4h-4zM665 855h4v4h-4zM696 855h4v4h-4zM870 855h92v4h-92zM1055 855h12v4h-12zM665 859h4v4h-4zM696 859h4v4h-4zM851 859h96v4h-96zM951 859h4v4h-4zM1040 859h7v4h-7zM669 863h4v4h-4zM696 863h4v4h-4zM839 863h93v4h-93zM935 863h4v4h-4zM1028 863h4v4h-4zM673 867h4v4h-4zM696 867h4v4h-4zM731 867h4v4h-4zM827 867h89v4h-89zM1013 867h15v4h-15zM700 871h4v4h-4zM731 871h4v4h-4zM789 871h4v4h-4zM808 871h97v4h-97zM908 871h4v4h-4zM997 871h8v4h-8zM704 875h4v4h-4zM731 875h4v4h-4zM754 875h4v4h-4zM793 875h4v4h-4zM800 875h89v4h-89zM893 875h4v4h-4zM986 875h3v4h-3zM708 879h4v4h-4zM758 879h4v4h-4zM773 879h4v4h-4zM797 879h11v4h-11zM812 879h62v4h-62zM970 879h4v4h-4zM758 883h4v3h-4zM777 883h4v3h-4zM797 883h65v3h-65zM955 883h7v3h-7zM762 886h4v4h-4zM770 886h3v4h-3zM777 886h4v4h-4zM800 886h47v4h-47zM851 886h3v4h-3zM939 886h8v4h-8zM773 890h4v4h-4zM781 890h4v4h-4zM797 890h23v4h-23zM824 890h11v4h-11zM777 894h4v4h-4zM785 894h4v4h-4zM797 894h23v4h-23zM912 894h8v4h-8zM777 898h4v4h-4zM785 898h4v4h-4zM800 898h8v4h-8zM812 898h4v4h-4zM897 898h8v4h-8zM781 902h4v4h-4zM804 902h4v4h-4zM881 902h4v4h-4zM804 906h8v4h-8zM870 906h8v4h-8zM808 910h8v4h-8zM854 910h8v4h-8zM839 914h4v3h-4zM804 917h4v4h-4zM824 917h3v4h-3zM831 917h4v4h-4zM804 921h4v4h-4zM831 933h4v4h-4z"/>
<path fill="#0030ff" d="M530 735h4v4h-4zM530 739h4v4h-4zM530 743h4v4h-4zM530 747h4v4h-4zM530 751h4v4h-4zM530 755h4v4h-4zM530 759h4v4h-4zM530 763h4v3h-4zM530 766h4v4h-4zM530 770h4v4h-4zM530 774h4v4h-4zM1051 778h4v4h-4zM1032 782h12v4h-12zM1047 782h4v4h-4zM1055 782h4v4h-4zM1013 786h4v4h-4zM1024 786h35v4h-35zM1005 790h58v4h-58zM1071 790h3v4h-3zM1078 790h8v4h-8zM615 794h4v3h-4zM650 794h4v3h-4zM986 794h50v3h-50zM1040 794h19v3h-19zM1063 794h4v3h-4zM1074 794h4v3h-4zM1082 794h8v3h-8zM615 797h4v4h-4zM982 797h85v4h-85zM1078 797h12v4h-12zM615 801h4v4h-4zM650 801h4v4h-4zM955 801h4v4h-4zM962 801h101v4h-101zM1078 801h4v4h-4zM1086 801h8v4h-8zM580 805h4v4h-4zM611 805h4v4h-4zM646 805h4v4h-4zM943 805h101v4h-101zM1047 805h4v4h-4zM1082 805h12v4h-12zM580 809h4v4h-4zM611 809h4v4h-4zM646 809h4v4h-4zM924 809h4v4h-4zM939 809h93v4h-93zM1086 809h4v4h-4zM584 813h4v4h-4zM611 813h4v4h-4zM646 813h4v4h-4zM685 813h4v4h-4zM920 813h97v4h-97zM1020 813h4v4h-4zM1086 813h8v4h-8zM588 817h4v4h-4zM611 817h4v4h-4zM646 817h4v4h-4zM681 817h4v4h-4zM905 817h104v4h-104zM1086 817h4v4h-4zM611 821h4v3h-4zM646 821h4v3h-4zM681 821h4v3h-4zM881 821h4v3h-4zM897 821h92v3h-92zM1082 821h4v3h-4zM615 824h4v4h-4zM646 824h4v4h-4zM681 824h4v4h-4zM878 824h96v4h-96zM978 824h4v4h-4zM1078 824h4v4h-4zM619 828h4v4h-4zM646 828h4v4h-4zM681 828h4v4h-4zM854 828h4v4h-4zM862 828h104v4h-104zM1063 828h4v4h-4zM1071 828h3v4h-3zM623 832h4v4h-4zM646 832h4v4h-4zM681 832h4v4h-4zM839 832h4v4h-4zM854 832h89v4h-89zM1047 832h8v4h-8zM1105 832h8v4h-8zM623 836h4v4h-4zM650 836h4v4h-4zM681 836h4v4h-4zM839 836h93v4h-93zM935 836h4v4h-4zM1032 836h4v4h-4zM654 840h4v4h-4zM812 840h4v4h-4zM820 840h96v4h-96zM920 840h4v4h-4zM1020 840h12v4h-12zM654 844h4v4h-4zM681 844h4v4h-4zM812 844h89v4h-89zM1005 844h8v4h-8zM658 848h4v4h-4zM685 848h4v4h-4zM716 848h3v4h-3zM785 848h4v4h-4zM793 848h96v4h-96zM989 848h4v4h-4zM689 852h3v3h-3zM716 852h3v3h-3zM781 852h93v3h-93zM878 852h3v3h-3zM689 855h3v4h-3zM716 855h3v4h-3zM781 855h12v4h-12zM797 855h61v4h-61zM962 855h8v4h-8zM692 859h4v4h-4zM785 859h58v4h-58zM947 859h4v4h-4zM716 863h3v4h-3zM754 863h4v4h-4zM789 863h42v4h-42zM835 863h4v4h-4zM932 863h3v4h-3zM719 867h4v4h-4zM735 867h4v4h-4zM758 867h4v4h-4zM781 867h19v4h-19zM804 867h12v4h-12zM916 867h12v4h-12zM719 871h4v4h-4zM735 871h4v4h-4zM762 871h4v4h-4zM777 871h4v4h-4zM785 871h4v4h-4zM793 871h11v4h-11zM905 871h3v4h-3zM723 875h4v4h-4zM739 875h4v4h-4zM750 875h4v4h-4zM762 875h4v4h-4zM781 875h12v4h-12zM797 875h3v4h-3zM889 875h4v4h-4zM727 879h4v4h-4zM743 879h3v4h-3zM750 879h4v4h-4zM766 879h4v4h-4zM781 879h4v4h-4zM789 879h8v4h-8zM874 879h11v4h-11zM746 883h4v3h-4zM770 883h3v3h-3zM785 883h12v3h-12zM862 883h4v3h-4zM746 886h4v4h-4zM785 886h4v4h-4zM793 886h7v4h-7zM847 886h4v4h-4zM766 890h4v4h-4zM789 890h4v4h-4zM835 890h8v4h-8zM820 894h4v4h-4zM789 898h4v4h-4zM808 914h4v3h-4zM816 914h4v3h-4z"/>
<path fill="#0040ff" d="M565 755h4v4h-4zM565 759h4v4h-4zM565 763h4v3h-4zM1063 763h8v3h-8zM565 766h4v4h-4zM600 766h4v4h-4zM634 766h4v4h-4zM1059 766h12v4h-12zM565 770h4v4h-4zM600 770h4v4h-4zM1059 770h4v4h-4zM1067 770h7v4h-7zM561 774h4v4h-4zM600 774h4v4h-4zM634 774h4v4h-4zM1055 774h4v4h-4zM1063 774h4v4h-4zM1071 774h7v4h-7zM530 778h4v4h-4zM561 778h4v4h-4zM600 778h4v4h-4zM634 778h4v4h-4zM1059 778h4v4h-4zM1067 778h11v4h-11zM530 782h4v4h-4zM596 782h4v4h-4zM631 782h3v4h-3zM1059 782h4v4h-4zM1067 782h4v4h-4zM1074 782h8v4h-8zM534 786h4v4h-4zM565 786h4v4h-4zM596 786h4v4h-4zM631 786h3v4h-3zM669 786h4v4h-4zM1063 786h4v4h-4zM1071 786h3v4h-3zM1082 786h4v4h-4zM538 790h4v4h-4zM569 790h4v4h-4zM596 790h4v4h-4zM631 790h3v4h-3zM665 790h4v4h-4zM1067 790h4v4h-4zM542 794h4v3h-4zM573 794h4v3h-4zM596 794h4v3h-4zM631 794h3v3h-3zM665 794h4v3h-4zM1067 794h4v3h-4zM573 797h4v4h-4zM596 797h4v4h-4zM631 797h3v4h-3zM665 797h4v4h-4zM600 801h4v4h-4zM631 801h3v4h-3zM665 801h4v4h-4zM600 805h4v4h-4zM631 805h3v4h-3zM665 805h4v4h-4zM604 809h3v4h-3zM631 809h3v4h-3zM665 809h4v4h-4zM1090 809h8v4h-8zM607 813h4v4h-4zM634 813h4v4h-4zM665 813h4v4h-4zM607 817h4v4h-4zM634 817h4v4h-4zM662 817h3v4h-3zM638 821h4v3h-4zM665 821h4v3h-4zM642 824h4v4h-4zM669 824h4v4h-4zM700 824h4v4h-4zM642 828h4v4h-4zM669 828h4v4h-4zM700 828h4v4h-4zM673 832h4v4h-4zM700 832h4v4h-4zM677 836h4v4h-4zM700 836h4v4h-4zM677 840h4v4h-4zM696 840h8v4h-8zM700 844h4v4h-4zM716 844h3v4h-3zM770 844h3v4h-3zM704 848h4v4h-4zM719 848h4v4h-4zM735 848h4v4h-4zM762 848h4v4h-4zM773 848h4v4h-4zM708 852h4v3h-4zM723 852h4v3h-4zM735 852h8v3h-8zM766 852h4v3h-4zM777 852h4v3h-4zM712 855h4v4h-4zM723 855h4v4h-4zM735 855h8v4h-8zM758 855h4v4h-4zM766 855h4v4h-4zM777 855h4v4h-4zM712 859h4v4h-4zM727 859h4v4h-4zM735 859h4v4h-4zM743 859h3v4h-3zM754 859h4v4h-4zM762 859h4v4h-4zM770 859h3v4h-3zM781 859h4v4h-4zM731 863h4v4h-4zM746 863h4v4h-4zM766 863h4v4h-4zM773 863h4v4h-4zM785 863h4v4h-4zM746 867h8v4h-8zM766 867h4v4h-4zM773 867h4v4h-4zM750 871h4v4h-4zM770 871h3v4h-3zM770 875h3v4h-3zM793 890h4v4h-4zM789 894h4v4h-4z"/>
<path fill="#0050ff" d="M550 728h3v4h-3zM550 732h3v3h-3zM550 735h3v4h-3zM550 739h3v4h-3zM584 739h4v4h-4zM619 739h4v4h-4zM550 743h3v4h-3zM584 743h4v4h-4zM550 747h3v4h-3zM584 747h4v4h-4zM619 747h4v4h-4zM1040 747h4v4h-4zM546 751h4v4h-4zM584 751h4v4h-4zM619 751h4v4h-4zM1040 751h4v4h-4zM546 755h4v4h-4zM584 755h4v4h-4zM615 755h4v4h-4zM1036 755h4v4h-4zM1044 755h3v4h-3zM580 759h4v4h-4zM615 759h4v4h-4zM1020 759h8v4h-8zM1032 759h4v4h-4zM1040 759h4v4h-4zM1047 759h4v4h-4zM550 763h3v3h-3zM580 763h4v3h-4zM615 763h4v3h-4zM1013 763h27v3h-27zM1044 763h7v3h-7zM553 766h4v4h-4zM580 766h4v4h-4zM615 766h4v4h-4zM650 766h4v4h-4zM993 766h54v4h-54zM1051 766h4v4h-4zM553 770h4v4h-4zM580 770h4v4h-4zM615 770h4v4h-4zM650 770h4v4h-4zM978 770h42v4h-42zM1024 770h20v4h-20zM1047 770h4v4h-4zM557 774h4v4h-4zM580 774h4v4h-4zM615 774h4v4h-4zM650 774h4v4h-4zM966 774h81v4h-81zM584 778h4v4h-4zM615 778h4v4h-4zM650 778h4v4h-4zM951 778h96v4h-96zM561 782h4v4h-4zM584 782h4v4h-4zM615 782h4v4h-4zM650 782h4v4h-4zM935 782h93v4h-93zM588 786h4v4h-4zM615 786h4v4h-4zM650 786h4v4h-4zM924 786h89v4h-89zM592 790h4v4h-4zM615 790h4v4h-4zM650 790h4v4h-4zM908 790h93v4h-93zM592 794h4v3h-4zM619 794h4v3h-4zM893 794h93v3h-93zM1071 794h3v3h-3zM623 797h4v4h-4zM881 797h89v4h-89zM1067 797h4v4h-4zM623 801h4v4h-4zM866 801h89v4h-89zM1063 801h4v4h-4zM627 805h4v4h-4zM851 805h92v4h-92zM1055 805h8v4h-8zM839 809h85v4h-85zM1032 809h8v4h-8zM824 813h88v4h-88zM1017 813h3v4h-3zM685 817h4v4h-4zM804 817h97v4h-97zM1013 817h4v4h-4zM689 821h3v3h-3zM704 821h4v3h-4zM800 821h81v3h-81zM989 821h8v3h-8zM689 824h3v4h-3zM704 824h4v4h-4zM719 824h4v4h-4zM777 824h93v4h-93zM974 824h4v4h-4zM692 828h4v4h-4zM708 828h4v4h-4zM719 828h8v4h-8zM770 828h84v4h-84zM692 832h4v4h-4zM708 832h4v4h-4zM719 832h8v4h-8zM743 832h3v4h-3zM766 832h11v4h-11zM781 832h31v4h-31zM816 832h23v4h-23zM943 832h12v4h-12zM696 836h4v4h-4zM712 836h4v4h-4zM719 836h4v4h-4zM727 836h4v4h-4zM746 836h4v4h-4zM770 836h57v4h-57zM932 836h3v4h-3zM716 840h3v4h-3zM731 840h4v4h-4zM739 840h4v4h-4zM750 840h4v4h-4zM766 840h4v4h-4zM773 840h39v4h-39zM916 840h4v4h-4zM731 844h4v4h-4zM739 844h7v4h-7zM750 844h4v4h-4zM766 844h4v4h-4zM773 844h12v4h-12zM789 844h8v4h-8zM901 844h11v4h-11zM746 848h4v4h-4zM754 848h4v4h-4zM770 848h3v4h-3zM777 848h8v4h-8zM889 848h4v4h-4zM746 852h4v3h-4zM773 852h4v3h-4zM874 852h4v3h-4zM750 855h4v4h-4zM773 855h4v4h-4zM858 855h12v4h-12zM777 859h4v4h-4zM843 859h8v4h-8zM781 863h4v4h-4zM831 863h4v4h-4zM777 867h4v4h-4zM816 867h11v4h-11zM773 871h4v4h-4zM804 871h4v4h-4zM773 875h4v4h-4z"/>
<path fill="#0060ff" d="M534 697h4v4h-4zM534 701h4v3h-4zM534 704h4v4h-4zM534 708h4v4h-4zM534 712h4v4h-4zM534 716h4v4h-4zM534 720h4v4h-4zM534 724h4v4h-4zM530 728h4v4h-4zM530 732h4v3h-4zM1013 735h7v4h-7zM993 739h8v4h-8zM1013 739h11v4h-11zM1047 739h8v4h-8zM986 743h19v4h-19zM1017 743h11v4h-11zM1044 743h3v4h-3zM1051 743h8v4h-8zM989 747h20v4h-20zM1020 747h8v4h-8zM1047 747h12v4h-12zM989 751h20v4h-20zM1020 751h12v4h-12zM1047 751h4v4h-4zM1055 751h8v4h-8zM993 755h20v4h-20zM1024 755h8v4h-8zM1051 755h4v4h-4zM1059 755h8v4h-8zM997 759h16v4h-16zM1051 759h4v4h-4zM997 763h4v3h-4zM1055 763h4v3h-4zM1051 774h4v4h-4zM1047 778h4v4h-4zM1028 782h4v4h-4zM1020 786h4v4h-4zM1074 786h8v4h-8zM650 797h4v4h-4zM685 797h4v4h-4zM773 797h16v4h-16zM654 801h4v4h-4zM685 801h4v4h-4zM773 801h16v4h-16zM654 805h4v4h-4zM685 805h4v4h-4zM750 805h12v4h-12zM773 805h20v4h-20zM658 809h4v4h-4zM685 809h4v4h-4zM754 809h4v4h-4zM762 809h4v4h-4zM777 809h20v4h-20zM662 813h3v4h-3zM758 813h8v4h-8zM777 813h20v4h-20zM723 817h4v4h-4zM750 817h20v4h-20zM781 817h19v4h-19zM727 821h4v3h-4zM746 821h4v3h-4zM754 821h4v3h-4zM762 821h8v3h-8zM731 824h4v4h-4zM746 824h4v4h-4zM754 824h19v4h-19zM731 828h4v4h-4zM750 828h4v4h-4zM758 828h12v4h-12zM735 832h4v4h-4zM754 832h12v4h-12zM754 836h4v4h-4zM766 836h4v4h-4zM758 840h4v4h-4zM770 840h3v4h-3zM816 840h4v4h-4zM762 844h4v4h-4zM804 844h8v4h-8zM758 848h4v4h-4zM789 848h4v4h-4zM758 852h4v3h-4zM777 863h4v4h-4z"/>
<path fill="#0070ff" d="M569 708h4v4h-4zM604 708h3v4h-3zM569 712h4v4h-4zM569 716h4v4h-4zM604 716h3v4h-3zM569 720h4v4h-4zM604 720h3v4h-3zM569 724h4v4h-4zM604 724h3v4h-3zM1024 724h4v4h-4zM569 728h4v4h-4zM600 728h4v4h-4zM1020 728h4v4h-4zM1028 728h4v4h-4zM565 732h4v3h-4zM600 732h4v3h-4zM1020 732h4v3h-4zM1028 732h4v3h-4zM565 735h4v4h-4zM600 735h4v4h-4zM634 735h4v4h-4zM1001 735h12v4h-12zM1024 735h4v4h-4zM1032 735h4v4h-4zM534 739h4v4h-4zM565 739h4v4h-4zM600 739h4v4h-4zM634 739h4v4h-4zM1005 739h8v4h-8zM1028 739h8v4h-8zM538 743h4v4h-4zM565 743h4v4h-4zM600 743h4v4h-4zM634 743h4v4h-4zM974 743h12v4h-12zM1005 743h12v4h-12zM1028 743h4v4h-4zM1036 743h4v4h-4zM538 747h4v4h-4zM565 747h4v4h-4zM600 747h4v4h-4zM634 747h4v4h-4zM959 747h30v4h-30zM1009 747h11v4h-11zM1032 747h4v4h-4zM542 751h4v4h-4zM600 751h4v4h-4zM634 751h4v4h-4zM943 751h46v4h-46zM1009 751h11v4h-11zM569 755h4v4h-4zM600 755h4v4h-4zM634 755h4v4h-4zM932 755h61v4h-61zM1013 755h11v4h-11zM569 759h4v4h-4zM600 759h4v4h-4zM634 759h4v4h-4zM916 759h81v4h-81zM1017 759h3v4h-3zM573 763h4v3h-4zM600 763h4v3h-4zM634 763h4v3h-4zM901 763h96v3h-96zM1059 763h4v3h-4zM577 766h3v4h-3zM604 766h3v4h-3zM669 766h4v4h-4zM889 766h97v4h-97zM989 766h4v4h-4zM1055 766h4v4h-4zM577 770h3v4h-3zM604 770h3v4h-3zM634 770h4v4h-4zM669 770h4v4h-4zM870 770h108v4h-108zM1055 770h4v4h-4zM607 774h4v4h-4zM638 774h4v4h-4zM669 774h4v4h-4zM858 774h101v4h-101zM611 778h4v4h-4zM638 778h4v4h-4zM669 778h4v4h-4zM847 778h96v4h-96zM947 778h4v4h-4zM611 782h4v4h-4zM642 782h4v4h-4zM669 782h4v4h-4zM827 782h108v4h-108zM1044 782h3v4h-3zM642 786h4v4h-4zM665 786h4v4h-4zM816 786h96v4h-96zM1017 786h3v4h-3zM646 790h4v4h-4zM669 790h4v4h-4zM804 790h97v4h-97zM1001 790h4v4h-4zM646 794h4v3h-4zM669 794h4v3h-4zM685 794h4v3h-4zM789 794h96v3h-96zM889 794h4v3h-4zM673 797h4v4h-4zM689 797h3v4h-3zM789 797h81v4h-81zM970 797h12v4h-12zM677 801h4v4h-4zM692 801h4v4h-4zM704 801h4v4h-4zM762 801h11v4h-11zM789 801h65v4h-65zM959 801h3v4h-3zM677 805h4v4h-4zM692 805h4v4h-4zM704 805h8v4h-8zM727 805h4v4h-4zM762 805h11v4h-11zM793 805h50v4h-50zM847 805h4v4h-4zM681 809h4v4h-4zM696 809h4v4h-4zM704 809h4v4h-4zM712 809h4v4h-4zM731 809h4v4h-4zM750 809h4v4h-4zM766 809h11v4h-11zM797 809h30v4h-30zM928 809h11v4h-11zM681 813h4v4h-4zM696 813h4v4h-4zM704 813h4v4h-4zM712 813h4v4h-4zM723 813h4v4h-4zM731 813h4v4h-4zM754 813h4v4h-4zM766 813h4v4h-4zM773 813h4v4h-4zM797 813h15v4h-15zM912 813h8v4h-8zM700 817h4v4h-4zM716 817h3v4h-3zM735 817h4v4h-4zM770 817h11v4h-11zM901 817h4v4h-4zM700 821h4v3h-4zM716 821h3v3h-3zM723 821h4v3h-4zM735 821h4v3h-4zM758 821h4v3h-4zM773 821h8v3h-8zM885 821h12v3h-12zM739 824h4v4h-4zM870 824h8v4h-8zM858 828h4v4h-4zM843 832h11v4h-11zM739 836h4v4h-4zM827 836h12v4h-12zM762 840h4v4h-4zM797 844h7v4h-7z"/>
<path fill="#0080ff" d="M553 681h4v4h-4zM553 685h4v4h-4zM588 685h4v4h-4zM553 689h4v4h-4zM588 689h4v4h-4zM553 693h4v4h-4zM588 693h4v4h-4zM553 697h4v4h-4zM584 697h4v4h-4zM623 697h4v4h-4zM553 701h4v3h-4zM584 701h4v3h-4zM1005 701h4v3h-4zM550 704h3v4h-3zM584 704h4v4h-4zM619 704h4v4h-4zM1001 704h4v4h-4zM1009 704h4v4h-4zM550 708h3v4h-3zM584 708h4v4h-4zM619 708h4v4h-4zM982 708h19v4h-19zM1005 708h8v4h-8zM550 712h3v4h-3zM584 712h4v4h-4zM619 712h4v4h-4zM970 712h16v4h-16zM989 712h20v4h-20zM1013 712h4v4h-4zM1032 712h8v4h-8zM550 716h3v4h-3zM584 716h4v4h-4zM619 716h4v4h-4zM959 716h58v4h-58zM1028 716h4v4h-4zM1036 716h8v4h-8zM550 720h3v4h-3zM584 720h4v4h-4zM619 720h4v4h-4zM939 720h74v4h-74zM1017 720h3v4h-3zM1028 720h4v4h-4zM1036 720h8v4h-8zM550 724h3v4h-3zM584 724h4v4h-4zM619 724h4v4h-4zM924 724h96v4h-96zM1032 724h4v4h-4zM1040 724h7v4h-7zM553 728h4v4h-4zM584 728h4v4h-4zM619 728h4v4h-4zM916 728h101v4h-101zM1036 728h11v4h-11zM553 732h4v3h-4zM584 732h4v3h-4zM619 732h4v3h-4zM897 732h108v3h-108zM1009 732h8v3h-8zM1036 732h4v3h-4zM1044 732h7v3h-7zM557 735h4v4h-4zM584 735h4v4h-4zM619 735h4v4h-4zM881 735h120v4h-120zM1040 735h4v4h-4zM557 739h4v4h-4zM588 739h4v4h-4zM866 739h4v4h-4zM874 739h108v4h-108zM1040 739h7v4h-7zM561 743h4v4h-4zM588 743h4v4h-4zM854 743h112v4h-112zM1040 743h4v4h-4zM592 747h4v4h-4zM839 747h112v4h-112zM955 747h4v4h-4zM565 751h4v4h-4zM596 751h4v4h-4zM824 751h119v4h-119zM1036 751h4v4h-4zM596 755h4v4h-4zM816 755h104v4h-104zM1032 755h4v4h-4zM797 759h111v4h-111zM912 759h4v4h-4zM1028 759h4v4h-4zM1059 759h8v4h-8zM654 763h4v3h-4zM781 763h120v3h-120zM1001 763h12v3h-12zM654 766h4v4h-4zM673 766h4v4h-4zM773 766h105v4h-105zM986 766h3v4h-3zM658 770h4v4h-4zM673 770h4v4h-4zM689 770h3v4h-3zM750 770h116v4h-116zM662 774h3v4h-3zM677 774h4v4h-4zM689 774h7v4h-7zM743 774h115v4h-115zM959 774h7v4h-7zM662 778h3v4h-3zM677 778h4v4h-4zM689 778h7v4h-7zM735 778h100v4h-100zM943 778h4v4h-4zM665 782h4v4h-4zM681 782h4v4h-4zM689 782h3v4h-3zM696 782h4v4h-4zM739 782h4v4h-4zM746 782h74v4h-74zM681 786h4v4h-4zM689 786h3v4h-3zM696 786h4v4h-4zM708 786h4v4h-4zM739 786h77v4h-77zM912 786h12v4h-12zM685 790h4v4h-4zM700 790h4v4h-4zM708 790h4v4h-4zM735 790h58v4h-58zM901 790h7v4h-7zM700 794h4v3h-4zM708 794h8v3h-8zM739 794h42v3h-42zM885 794h4v3h-4zM704 797h4v4h-4zM716 797h3v4h-3zM731 797h4v4h-4zM739 797h23v4h-23zM766 797h7v4h-7zM870 797h11v4h-11zM716 801h3v4h-3zM735 801h4v4h-4zM743 801h3v4h-3zM750 801h4v4h-4zM854 801h12v4h-12zM719 805h4v4h-4zM735 805h4v4h-4zM743 805h7v4h-7zM843 805h4v4h-4zM719 809h8v4h-8zM739 809h4v4h-4zM746 809h4v4h-4zM827 809h12v4h-12zM743 813h3v4h-3zM812 813h12v4h-12zM743 817h3v4h-3zM800 817h4v4h-4zM781 821h19v3h-19zM743 824h3v4h-3zM773 824h4v4h-4zM743 828h3v4h-3zM762 836h4v4h-4z"/>
<path fill="#008fff" d="M1013 685h4v4h-4zM1013 689h4v4h-4zM1009 693h4v4h-4zM1017 693h3v4h-3zM1009 697h4v4h-4zM1017 697h3v4h-3zM1013 701h4v3h-4zM1020 701h4v3h-4zM1013 704h4v4h-4zM1020 704h4v4h-4zM1017 708h3v4h-3zM1024 708h4v4h-4zM1017 712h3v4h-3zM1024 712h4v4h-4zM1020 716h4v4h-4zM1020 720h4v4h-4zM1044 735h7v4h-7zM654 739h4v4h-4zM619 743h4v4h-4zM654 743h4v4h-4zM623 747h4v4h-4zM654 747h4v4h-4zM623 751h4v4h-4zM654 751h4v4h-4zM627 755h4v4h-4zM654 755h4v4h-4zM627 759h4v4h-4zM654 759h4v4h-4zM692 759h4v4h-4zM631 763h3v3h-3zM650 763h4v3h-4zM696 763h4v3h-4zM631 766h3v4h-3zM696 766h4v4h-4zM716 766h3v4h-3zM700 770h4v4h-4zM719 770h4v4h-4zM700 774h4v4h-4zM719 774h4v4h-4zM704 778h4v4h-4zM712 778h4v4h-4zM723 778h4v4h-4zM704 782h4v4h-4zM716 782h3v4h-3zM723 782h4v4h-4zM716 786h3v4h-3zM727 786h4v4h-4zM719 790h4v4h-4zM727 790h4v4h-4zM719 794h4v3h-4zM731 794h4v3h-4zM723 797h8v4h-8zM723 801h8v4h-8zM746 813h8v4h-8zM746 817h4v4h-4z"/>
<path fill="#009fff" d="M538 639h4v4h-4zM538 643h4v3h-4zM538 646h4v4h-4zM538 650h4v4h-4zM573 650h4v4h-4zM538 654h4v4h-4zM573 654h4v4h-4zM538 658h4v4h-4zM573 658h4v4h-4zM538 662h4v4h-4zM573 662h4v4h-4zM538 666h4v4h-4zM569 666h4v4h-4zM538 670h4v3h-4zM569 670h4v3h-4zM604 670h3v3h-3zM989 670h4v3h-4zM534 673h4v4h-4zM569 673h4v4h-4zM604 673h3v4h-3zM993 673h4v4h-4zM534 677h4v4h-4zM569 677h4v4h-4zM604 677h3v4h-3zM966 677h23v4h-23zM993 677h4v4h-4zM534 681h4v4h-4zM569 681h4v4h-4zM604 681h3v4h-3zM955 681h15v4h-15zM974 681h19v4h-19zM997 681h4v4h-4zM1017 681h7v4h-7zM534 685h4v4h-4zM569 685h4v4h-4zM604 685h3v4h-3zM943 685h50v4h-50zM997 685h4v4h-4zM1017 685h7v4h-7zM534 689h4v4h-4zM569 689h4v4h-4zM604 689h3v4h-3zM924 689h50v4h-50zM978 689h19v4h-19zM1001 689h4v4h-4zM1020 689h8v4h-8zM534 693h4v4h-4zM569 693h4v4h-4zM604 693h3v4h-3zM908 693h89v4h-89zM1001 693h4v4h-4zM1020 693h8v4h-8zM569 697h4v4h-4zM604 697h3v4h-3zM901 697h77v4h-77zM982 697h19v4h-19zM1024 697h8v4h-8zM538 701h4v3h-4zM569 701h4v3h-4zM604 701h3v3h-3zM885 701h116v3h-116zM1024 701h8v3h-8zM538 704h4v4h-4zM569 704h4v4h-4zM604 704h3v4h-3zM866 704h116v4h-116zM986 704h7v4h-7zM1028 704h8v4h-8zM542 708h4v4h-4zM573 708h4v4h-4zM851 708h3v4h-3zM858 708h120v4h-120zM542 712h4v4h-4zM573 712h4v4h-4zM843 712h127v4h-127zM546 716h4v4h-4zM577 716h3v4h-3zM824 716h123v4h-123zM546 720h4v4h-4zM577 720h3v4h-3zM808 720h124v4h-124zM1024 720h4v4h-4zM580 724h4v4h-4zM800 724h124v4h-124zM1020 724h4v4h-4zM580 728h4v4h-4zM781 728h124v4h-124zM638 732h4v3h-4zM766 732h123v3h-123zM1005 732h4v3h-4zM1017 732h3v3h-3zM638 735h4v4h-4zM654 735h4v4h-4zM758 735h116v4h-116zM878 735h3v4h-3zM642 739h4v4h-4zM658 739h4v4h-4zM739 739h127v4h-127zM982 739h11v4h-11zM642 743h4v4h-4zM662 743h3v4h-3zM673 743h8v4h-8zM727 743h120v4h-120zM966 743h8v4h-8zM646 747h4v4h-4zM662 747h3v4h-3zM673 747h8v4h-8zM696 747h4v4h-4zM719 747h112v4h-112zM835 747h4v4h-4zM951 747h4v4h-4zM646 751h4v4h-4zM665 751h4v4h-4zM673 751h4v4h-4zM681 751h4v4h-4zM700 751h4v4h-4zM723 751h4v4h-4zM731 751h93v4h-93zM650 755h4v4h-4zM665 755h4v4h-4zM673 755h4v4h-4zM681 755h4v4h-4zM692 755h4v4h-4zM700 755h4v4h-4zM723 755h77v4h-77zM920 755h12v4h-12zM650 759h4v4h-4zM669 759h8v4h-8zM685 759h4v4h-4zM704 759h4v4h-4zM719 759h4v4h-4zM727 759h4v4h-4zM735 759h54v4h-54zM793 759h4v4h-4zM908 759h4v4h-4zM669 763h4v3h-4zM685 763h4v3h-4zM692 763h4v3h-4zM704 763h4v3h-4zM719 763h62v3h-62zM689 766h3v4h-3zM708 766h4v4h-4zM723 766h12v4h-12zM739 766h23v4h-23zM878 766h11v4h-11zM708 770h4v4h-4zM723 770h20v4h-20zM866 770h4v4h-4zM727 774h12v4h-12zM727 778h8v4h-8zM835 778h12v4h-12zM708 782h4v4h-4zM731 782h8v4h-8zM820 782h7v4h-7zM731 786h8v4h-8zM731 790h4v4h-4zM793 790h11v4h-11zM781 794h8v3h-8zM762 797h4v4h-4zM754 801h8v4h-8z"/>
<path fill="#00afff" d="M997 654h4v4h-4zM997 658h4v4h-4zM993 662h4v4h-4zM1001 662h4v4h-4zM993 666h4v4h-4zM1001 666h4v4h-4zM997 670h4v3h-4zM1005 670h4v3h-4zM997 673h4v4h-4zM1005 673h4v4h-4zM1001 677h4v4h-4zM1009 677h4v4h-4zM1001 681h4v4h-4zM1009 681h4v4h-4zM1005 685h4v4h-4zM1005 689h4v4h-4zM638 704h4v4h-4zM638 708h4v4h-4zM1028 708h8v4h-8zM604 712h3v4h-3zM638 712h4v4h-4zM1028 712h4v4h-4zM607 716h4v4h-4zM638 716h4v4h-4zM1024 716h4v4h-4zM607 720h4v4h-4zM638 720h4v4h-4zM611 724h4v4h-4zM638 724h4v4h-4zM677 724h4v4h-4zM611 728h4v4h-4zM638 728h4v4h-4zM681 728h4v4h-4zM615 732h4v3h-4zM681 732h4v3h-4zM700 732h4v3h-4zM615 735h4v4h-4zM685 735h4v4h-4zM700 735h4v4h-4zM685 739h4v4h-4zM704 739h4v4h-4zM689 743h3v4h-3zM704 743h4v4h-4zM689 747h3v4h-3zM708 747h4v4h-4zM689 751h3v4h-3zM708 751h4v4h-4zM712 755h4v4h-4zM712 759h4v4h-4zM723 759h4v4h-4zM716 763h3v3h-3zM712 766h4v4h-4zM712 770h4v4h-4zM712 774h4v4h-4zM746 801h4v4h-4z"/>
<path fill="#00bfff" d="M557 604h4v4h-4zM557 615h4v4h-4zM557 619h4v4h-4zM557 623h4v4h-4zM557 627h4v4h-4zM557 631h4v4h-4zM553 635h4v4h-4zM588 635h4v4h-4zM974 635h4v4h-4zM553 639h4v4h-4zM588 639h4v4h-4zM955 639h7v4h-7zM978 639h4v4h-4zM553 643h4v3h-4zM588 643h4v3h-4zM947 643h27v3h-27zM978 643h4v3h-4zM553 646h4v4h-4zM588 646h4v4h-4zM932 646h11v4h-11zM951 646h4v4h-4zM959 646h23v4h-23zM1001 646h8v4h-8zM553 650h4v4h-4zM588 650h4v4h-4zM932 650h46v4h-46zM982 650h4v4h-4zM1001 650h8v4h-8zM553 654h4v4h-4zM588 654h4v4h-4zM912 654h74v4h-74zM1005 654h8v4h-8zM553 658h4v4h-4zM588 658h4v4h-4zM885 658h97v4h-97zM986 658h3v4h-3zM1005 658h8v4h-8zM553 662h4v4h-4zM588 662h4v4h-4zM874 662h4v4h-4zM885 662h104v4h-104zM1009 662h4v4h-4zM553 666h4v4h-4zM588 666h4v4h-4zM870 666h116v4h-116zM1009 666h8v4h-8zM553 670h4v3h-4zM588 670h4v3h-4zM847 670h142v3h-142zM1009 670h8v3h-8zM553 673h4v4h-4zM588 673h4v4h-4zM831 673h8v4h-8zM843 673h123v4h-123zM970 673h8v4h-8zM1013 673h7v4h-7zM553 677h4v4h-4zM812 677h4v4h-4zM827 677h135v4h-135zM557 681h4v4h-4zM804 681h151v4h-151zM557 685h4v4h-4zM785 685h147v4h-147zM561 689h4v4h-4zM770 689h3v4h-3zM785 689h131v4h-131zM1009 689h4v4h-4zM561 693h4v4h-4zM762 693h146v4h-146zM565 697h4v4h-4zM743 697h150v4h-150zM1005 697h4v4h-4zM623 701h4v3h-4zM743 701h131v3h-131zM623 704h4v4h-4zM723 704h143v4h-143zM993 704h8v4h-8zM627 708h4v4h-4zM658 708h4v4h-4zM712 708h139v4h-139zM978 708h4v4h-4zM627 712h4v4h-4zM658 712h7v4h-7zM681 712h4v4h-4zM704 712h127v4h-127zM631 716h3v4h-3zM658 716h7v4h-7zM685 716h4v4h-4zM708 716h8v4h-8zM719 716h97v4h-97zM820 716h4v4h-4zM947 716h12v4h-12zM631 720h3v4h-3zM658 720h4v4h-4zM665 720h4v4h-4zM685 720h4v4h-4zM708 720h100v4h-100zM932 720h7v4h-7zM634 724h4v4h-4zM658 724h4v4h-4zM665 724h4v4h-4zM689 724h3v4h-3zM704 724h4v4h-4zM712 724h73v4h-73zM634 728h4v4h-4zM658 728h4v4h-4zM669 728h4v4h-4zM689 728h3v4h-3zM704 728h69v4h-69zM777 728h4v4h-4zM905 728h11v4h-11zM654 732h4v3h-4zM669 732h4v3h-4zM689 732h3v3h-3zM708 732h58v3h-58zM889 732h8v3h-8zM692 735h4v4h-4zM708 735h38v4h-38zM874 735h4v4h-4zM673 739h4v4h-4zM692 739h4v4h-4zM712 739h15v4h-15zM870 739h4v4h-4zM712 743h11v4h-11zM847 743h7v4h-7zM712 747h7v4h-7zM831 747h4v4h-4zM692 751h4v4h-4zM716 751h7v4h-7zM716 755h7v4h-7zM800 755h16v4h-16zM716 759h3v4h-3zM789 759h4v4h-4zM762 766h11v4h-11zM743 770h7v4h-7zM739 774h4v4h-4z"/>
<path fill="#00cfff" d="M982 615h4v4h-4zM982 619h4v4h-4zM982 623h4v4h-4zM978 627h4v4h-4zM986 627h3v4h-3zM978 631h4v4h-4zM986 631h3v4h-3zM982 635h4v4h-4zM989 635h4v4h-4zM982 639h4v4h-4zM989 639h4v4h-4zM986 643h3v3h-3zM993 643h4v3h-4zM986 646h3v4h-3zM993 646h4v4h-4zM989 650h8v4h-8zM989 654h4v4h-4zM989 658h4v4h-4zM623 670h4v3h-4zM623 673h4v4h-4zM588 677h4v4h-4zM623 677h4v4h-4zM1013 677h7v4h-7zM588 681h4v4h-4zM623 681h4v4h-4zM1013 681h4v4h-4zM592 685h4v4h-4zM623 685h4v4h-4zM1009 685h4v4h-4zM592 689h4v4h-4zM623 689h4v4h-4zM596 693h4v4h-4zM623 693h4v4h-4zM596 697h4v4h-4zM600 701h4v3h-4zM638 701h4v3h-4zM600 704h4v4h-4zM642 704h4v4h-4zM642 708h4v4h-4zM646 712h4v4h-4zM646 716h4v4h-4zM650 720h4v4h-4zM650 724h4v4h-4zM708 724h4v4h-4zM654 728h4v4h-4zM677 728h4v4h-4zM677 732h4v3h-4zM673 735h4v4h-4z"/>
<path fill="#00dfff" d="M542 565h4v4h-4zM542 573h4v4h-4zM542 577h4v4h-4zM542 581h4v3h-4zM542 584h4v4h-4zM542 588h4v4h-4zM542 592h4v4h-4zM577 592h3v4h-3zM538 596h4v4h-4zM573 596h4v4h-4zM538 600h4v4h-4zM573 600h4v4h-4zM538 604h4v4h-4zM573 604h4v4h-4zM538 608h4v4h-4zM573 608h4v4h-4zM943 608h8v4h-8zM986 608h3v4h-3zM538 612h4v3h-4zM573 612h4v3h-4zM935 612h27v3h-27zM986 612h7v3h-7zM538 615h4v4h-4zM573 615h4v4h-4zM916 615h46v4h-46zM986 615h7v4h-7zM538 619h4v4h-4zM573 619h4v4h-4zM897 619h69v4h-69zM989 619h8v4h-8zM538 623h4v4h-4zM573 623h4v4h-4zM885 623h81v4h-81zM989 623h8v4h-8zM538 627h4v4h-4zM573 627h4v4h-4zM878 627h92v4h-92zM993 627h8v4h-8zM538 631h4v4h-4zM573 631h4v4h-4zM854 631h116v4h-116zM993 631h8v4h-8zM538 635h4v4h-4zM573 635h4v4h-4zM839 635h131v4h-131zM993 635h8v4h-8zM573 639h4v4h-4zM835 639h116v4h-116zM966 639h4v4h-4zM997 639h8v4h-8zM812 643h135v3h-135zM542 646h4v4h-4zM797 646h135v4h-135zM542 650h4v4h-4zM789 650h127v4h-127zM546 654h4v4h-4zM770 654h131v4h-131zM546 658h4v4h-4zM754 658h131v4h-131zM550 662h3v4h-3zM746 662h128v4h-128zM550 666h3v4h-3zM727 666h131v4h-131zM989 666h4v4h-4zM550 670h3v3h-3zM716 670h127v3h-127zM700 673h131v4h-131zM978 673h11v4h-11zM692 677h120v4h-120zM962 677h4v4h-4zM692 681h12v4h-12zM708 681h92v4h-92zM692 685h93v4h-93zM932 685h11v4h-11zM689 689h81v4h-81zM916 689h8v4h-8zM665 693h4v4h-4zM689 693h69v4h-69zM665 697h4v4h-4zM685 697h4v4h-4zM692 697h51v4h-51zM893 697h8v4h-8zM665 701h4v3h-4zM685 701h4v3h-4zM692 701h12v3h-12zM708 701h23v3h-23zM874 701h11v3h-11zM669 704h4v4h-4zM689 704h3v4h-3zM696 704h16v4h-16zM669 708h4v4h-4zM689 708h3v4h-3zM696 708h12v4h-12zM854 708h4v4h-4zM673 712h4v4h-4zM692 712h12v4h-12zM831 712h12v4h-12zM673 716h4v4h-4zM692 716h4v4h-4zM700 716h8v4h-8zM816 716h4v4h-4zM696 720h12v4h-12zM696 724h4v4h-4zM785 724h15v4h-15zM696 728h4v4h-4zM773 728h4v4h-4zM696 735h4v4h-4zM746 735h12v4h-12zM696 739h4v4h-4zM727 739h12v4h-12zM696 743h4v4h-4zM723 743h4v4h-4z"/>
<path fill="#00efff" d="M962 592h4v4h-4zM962 596h4v4h-4zM959 600h3v4h-3zM966 600h4v4h-4zM959 604h3v4h-3zM966 604h4v4h-4zM962 608h4v4h-4zM970 608h4v4h-4zM962 612h4v3h-4zM970 612h4v3h-4zM966 615h4v4h-4zM974 615h4v4h-4zM966 619h4v4h-4zM974 619h4v4h-4zM970 623h4v4h-4zM607 627h4v4h-4zM970 627h4v4h-4zM607 631h4v4h-4zM607 635h4v4h-4zM607 639h4v4h-4zM573 643h4v3h-4zM607 643h4v3h-4zM573 646h4v4h-4zM607 646h4v4h-4zM997 646h4v4h-4zM577 650h3v4h-3zM607 650h4v4h-4zM997 650h4v4h-4zM577 654h3v4h-3zM607 654h4v4h-4zM993 654h4v4h-4zM580 658h4v4h-4zM607 658h4v4h-4zM993 658h4v4h-4zM580 662h4v4h-4zM607 662h4v4h-4zM584 666h4v4h-4zM607 666h4v4h-4zM584 670h4v3h-4zM607 670h4v3h-4zM627 670h4v3h-4zM642 670h4v3h-4zM584 673h4v4h-4zM611 673h4v4h-4zM627 673h4v4h-4zM642 673h8v4h-8zM611 677h4v4h-4zM631 677h3v4h-3zM642 677h8v4h-8zM665 677h4v4h-4zM615 681h4v4h-4zM631 681h3v4h-3zM642 681h8v4h-8zM669 681h4v4h-4zM615 685h4v4h-4zM634 685h4v4h-4zM642 685h4v4h-4zM650 685h4v4h-4zM669 685h4v4h-4zM619 689h4v4h-4zM634 689h4v4h-4zM642 689h4v4h-4zM650 689h4v4h-4zM662 689h3v4h-3zM673 689h4v4h-4zM619 693h4v4h-4zM638 693h8v4h-8zM654 693h4v4h-4zM662 693h3v4h-3zM673 693h4v4h-4zM619 697h4v4h-4zM638 697h8v4h-8zM654 697h4v4h-4zM662 697h3v4h-3zM677 697h4v4h-4zM658 701h7v3h-7zM677 701h4v3h-4zM658 704h4v4h-4zM677 704h4v4h-4zM677 716h4v4h-4zM677 720h4v4h-4zM700 724h4v4h-4zM700 728h4v4h-4z"/>
<path fill="#00ffff" d="M966 581h4v3h-4zM966 584h4v4h-4zM970 588h4v4h-4zM970 592h4v4h-4zM970 596h4v4h-4zM974 600h4v4h-4zM974 604h4v4h-4zM978 608h4v4h-4zM978 612h4v3h-4zM997 643h4v3h-4zM646 650h4v4h-4zM650 654h4v4h-4zM650 658h4v4h-4zM650 662h4v4h-4zM669 662h4v4h-4zM654 666h4v4h-4zM673 666h4v4h-4zM654 670h4v3h-4zM673 670h4v3h-4zM654 673h4v4h-4zM673 673h4v4h-4zM658 677h4v4h-4zM677 677h4v4h-4zM658 681h4v4h-4zM677 681h4v4h-4zM681 685h4v4h-4zM681 689h4v4h-4zM685 693h4v4h-4zM681 701h4v3h-4zM681 704h4v4h-4zM681 708h4v4h-4z"/>
<path fill="#10ffef" d="M561 542h4v4h-4zM561 553h4v4h-4zM557 557h4v4h-4zM557 561h4v4h-4zM943 561h4v4h-4zM557 565h4v4h-4zM928 565h4v4h-4zM947 565h4v4h-4zM557 569h4v4h-4zM924 569h19v4h-19zM947 569h4v4h-4zM557 573h4v4h-4zM908 573h8v4h-8zM920 573h31v4h-31zM970 573h8v4h-8zM557 577h4v4h-4zM901 577h46v4h-46zM951 577h4v4h-4zM970 577h8v4h-8zM557 581h4v3h-4zM881 581h62v3h-62zM947 581h8v3h-8zM974 581h8v3h-8zM557 584h4v4h-4zM862 584h62v4h-62zM928 584h27v4h-27zM974 584h8v4h-8zM557 588h4v4h-4zM854 588h97v4h-97zM955 588h4v4h-4zM974 588h8v4h-8zM557 592h4v4h-4zM843 592h116v4h-116zM978 592h8v4h-8zM557 596h4v4h-4zM820 596h135v4h-135zM978 596h8v4h-8zM557 600h4v4h-4zM804 600h151v4h-151zM982 600h7v4h-7zM797 604h138v4h-138zM939 604h16v4h-16zM982 604h4v4h-4zM777 608h162v4h-162zM762 612h162v3h-162zM754 615h151v4h-151zM735 619h154v4h-154zM893 619h4v4h-4zM978 619h4v4h-4zM719 623h166v4h-166zM978 623h4v4h-4zM592 627h4v4h-4zM611 627h4v4h-4zM712 627h150v4h-150zM974 627h4v4h-4zM592 631h4v4h-4zM611 631h4v4h-4zM627 631h4v4h-4zM696 631h151v4h-151zM851 631h3v4h-3zM974 631h4v4h-4zM596 635h4v4h-4zM611 635h4v4h-4zM627 635h7v4h-7zM681 635h158v4h-158zM596 639h4v4h-4zM615 639h4v4h-4zM627 639h7v4h-7zM677 639h143v4h-143zM962 639h4v4h-4zM970 639h4v4h-4zM596 643h4v3h-4zM615 643h4v3h-4zM627 643h7v3h-7zM677 643h127v3h-127zM1001 643h4v3h-4zM600 646h4v4h-4zM615 646h4v4h-4zM627 646h4v4h-4zM634 646h4v4h-4zM677 646h120v4h-120zM943 646h8v4h-8zM600 650h4v4h-4zM619 650h4v4h-4zM627 650h4v4h-4zM634 650h4v4h-4zM673 650h104v4h-104zM916 650h16v4h-16zM604 654h3v4h-3zM619 654h4v4h-4zM627 654h4v4h-4zM638 654h4v4h-4zM646 654h4v4h-4zM673 654h16v4h-16zM692 654h70v4h-70zM901 654h11v4h-11zM604 658h3v4h-3zM623 658h8v4h-8zM638 658h4v4h-4zM646 658h4v4h-4zM677 658h77v4h-77zM623 662h8v4h-8zM638 662h4v4h-4zM646 662h4v4h-4zM677 662h62v4h-62zM878 662h7v4h-7zM623 666h4v4h-4zM642 666h4v4h-4zM681 666h8v4h-8zM692 666h27v4h-27zM858 666h12v4h-12zM681 670h19v3h-19zM708 670h8v3h-8zM843 670h4v3h-4zM681 673h15v4h-15zM839 673h4v4h-4zM685 677h4v4h-4zM816 677h11v4h-11zM665 681h4v4h-4zM685 681h7v4h-7zM800 681h4v4h-4zM662 685h3v4h-3zM689 685h3v4h-3zM773 689h12v4h-12zM758 693h4v4h-4zM731 701h12v3h-12zM712 704h11v4h-11zM708 708h4v4h-4z"/>
<path fill="#20ffdf" d="M947 550h4v3h-4zM947 553h4v4h-4zM951 557h4v4h-4zM951 561h4v4h-4zM951 565h4v4h-4zM955 569h4v4h-4zM955 573h4v4h-4zM955 577h4v4h-4zM959 581h3v3h-3zM959 584h3v4h-3zM592 588h4v4h-4zM592 592h4v4h-4zM592 596h4v4h-4zM592 600h4v4h-4zM592 604h4v4h-4zM557 608h4v4h-4zM592 608h4v4h-4zM557 612h4v3h-4zM592 612h4v3h-4zM982 612h4v3h-4zM561 615h4v4h-4zM592 615h4v4h-4zM561 619h4v4h-4zM592 619h4v4h-4zM565 623h4v4h-4zM592 623h4v4h-4zM565 627h4v4h-4zM569 631h4v4h-4zM569 635h4v4h-4zM650 635h4v4h-4zM650 639h4v4h-4zM654 643h4v3h-4zM654 646h4v4h-4zM658 650h4v4h-4zM658 654h4v4h-4zM658 658h4v4h-4zM662 662h3v4h-3zM662 666h3v4h-3zM662 670h3v3h-3zM685 689h4v4h-4z"/>
<path fill="#30ffcf" d="M546 492h4v3h-4zM546 495h4v4h-4zM546 507h4v4h-4zM542 511h4v4h-4zM542 515h4v4h-4zM542 519h4v4h-4zM542 523h4v3h-4zM542 526h4v4h-4zM542 530h4v4h-4zM920 530h4v4h-4zM928 530h4v4h-4zM542 534h4v4h-4zM920 534h12v4h-12zM542 538h4v4h-4zM924 538h8v4h-8zM951 538h4v4h-4zM542 542h4v4h-4zM924 542h11v4h-11zM951 542h4v4h-4zM542 546h4v4h-4zM928 546h7v4h-7zM951 546h4v4h-4zM542 550h4v3h-4zM928 550h7v3h-7zM955 550h4v3h-4zM542 553h4v4h-4zM928 553h11v4h-11zM955 553h4v4h-4zM542 557h4v4h-4zM932 557h7v4h-7zM959 557h3v4h-3zM542 561h4v4h-4zM932 561h11v4h-11zM959 561h3v4h-3zM935 565h4v4h-4zM959 565h3v4h-3zM962 569h4v4h-4zM962 573h4v4h-4zM962 577h4v4h-4zM959 596h3v4h-3zM662 600h3v4h-3zM662 604h3v4h-3zM955 604h4v4h-4zM665 608h4v4h-4zM955 608h4v4h-4zM982 608h4v4h-4zM631 612h3v3h-3zM665 612h4v3h-4zM634 615h4v4h-4zM654 615h4v4h-4zM665 615h4v4h-4zM634 619h4v4h-4zM654 619h4v4h-4zM669 619h4v4h-4zM634 623h4v4h-4zM658 623h4v4h-4zM669 623h4v4h-4zM638 627h4v4h-4zM658 627h4v4h-4zM669 627h8v4h-8zM638 631h4v4h-4zM658 631h4v4h-4zM673 631h4v4h-4zM642 635h4v4h-4zM662 635h3v4h-3zM673 635h4v4h-4zM642 639h4v4h-4zM662 639h3v4h-3zM642 643h4v3h-4zM662 643h3v3h-3zM665 646h4v4h-4zM665 650h4v4h-4zM665 654h4v4h-4zM669 658h4v4h-4zM665 666h4v4h-4zM665 670h4v3h-4zM665 673h4v4h-4zM696 673h4v4h-4z"/>
<path fill="#40ffbf" d="M928 519h4v4h-4zM928 523h4v3h-4zM912 526h8v4h-8zM932 526h3v4h-3zM908 530h12v4h-12zM932 530h3v4h-3zM955 530h7v4h-7zM889 534h31v4h-31zM935 534h4v4h-4zM955 534h7v4h-7zM870 538h54v4h-54zM935 538h4v4h-4zM959 538h3v4h-3zM862 542h62v4h-62zM935 542h4v4h-4zM959 542h7v4h-7zM847 546h81v4h-81zM939 546h4v4h-4zM959 546h7v4h-7zM827 550h101v3h-101zM939 550h4v3h-4zM962 550h8v3h-8zM812 553h4v4h-4zM820 553h96v4h-96zM920 553h8v4h-8zM939 553h4v4h-4zM962 553h8v4h-8zM804 557h128v4h-128zM962 557h8v4h-8zM781 561h151v4h-151zM966 561h8v4h-8zM770 565h158v4h-158zM966 565h8v4h-8zM762 569h162v4h-162zM739 573h169v4h-169zM727 577h162v4h-162zM719 581h151v3h-151zM577 584h3v4h-3zM700 584h162v4h-162zM962 584h4v4h-4zM577 588h3v4h-3zM596 588h4v4h-4zM689 588h162v4h-162zM962 588h4v4h-4zM580 592h4v4h-4zM596 592h4v4h-4zM611 592h8v4h-8zM634 592h4v4h-4zM669 592h8v4h-8zM681 592h146v4h-146zM580 596h4v4h-4zM600 596h4v4h-4zM611 596h8v4h-8zM634 596h4v4h-4zM665 596h155v4h-155zM580 600h4v4h-4zM600 600h4v4h-4zM611 600h8v4h-8zM638 600h4v4h-4zM665 600h139v4h-139zM584 604h4v4h-4zM600 604h4v4h-4zM611 604h4v4h-4zM619 604h4v4h-4zM638 604h4v4h-4zM665 604h4v4h-4zM673 604h112v4h-112zM986 604h3v4h-3zM584 608h4v4h-4zM604 608h3v4h-3zM611 608h4v4h-4zM619 608h4v4h-4zM638 608h4v4h-4zM658 608h7v4h-7zM669 608h101v4h-101zM773 608h4v4h-4zM939 608h4v4h-4zM951 608h4v4h-4zM584 612h4v3h-4zM604 612h3v3h-3zM611 612h4v3h-4zM619 612h4v3h-4zM642 612h4v3h-4zM658 612h7v3h-7zM669 612h93v3h-93zM924 612h11v3h-11zM588 615h4v4h-4zM604 615h3v4h-3zM611 615h4v4h-4zM623 615h4v4h-4zM631 615h3v4h-3zM642 615h4v4h-4zM662 615h3v4h-3zM673 615h70v4h-70zM905 615h11v4h-11zM588 619h4v4h-4zM607 619h8v4h-8zM623 619h4v4h-4zM631 619h3v4h-3zM646 619h4v4h-4zM662 619h7v4h-7zM673 619h54v4h-54zM889 619h4v4h-4zM588 623h4v4h-4zM607 623h4v4h-4zM623 623h4v4h-4zM631 623h3v4h-3zM646 623h4v4h-4zM662 623h7v4h-7zM673 623h4v4h-4zM681 623h38v4h-38zM627 627h4v4h-4zM646 627h4v4h-4zM665 627h4v4h-4zM677 627h23v4h-23zM862 627h16v4h-16zM665 631h8v4h-8zM677 631h4v4h-4zM692 631h4v4h-4zM847 631h4v4h-4zM665 635h8v4h-8zM669 639h4v4h-4zM820 639h15v4h-15zM646 643h4v3h-4zM669 643h8v3h-8zM804 643h8v3h-8zM646 646h4v4h-4zM669 646h8v4h-8zM669 650h4v4h-4zM777 650h12v4h-12zM669 654h4v4h-4zM762 654h8v4h-8zM739 662h7v4h-7zM719 666h8v4h-8zM700 670h8v3h-8z"/>
<path fill="#50ffaf" d="M932 507h3v4h-3zM932 511h3v4h-3zM935 515h4v4h-4zM935 519h4v4h-4zM935 523h4v3h-4zM939 526h4v4h-4zM939 530h4v4h-4zM939 534h4v4h-4zM943 538h4v4h-4zM577 542h3v4h-3zM943 542h4v4h-4zM577 546h3v4h-3zM943 546h4v4h-4zM577 550h3v3h-3zM577 553h3v4h-3zM577 557h3v4h-3zM577 561h3v4h-3zM577 565h3v4h-3zM542 569h4v4h-4zM577 569h3v4h-3zM546 573h4v4h-4zM577 573h3v4h-3zM966 573h4v4h-4zM546 577h4v4h-4zM577 577h3v4h-3zM966 577h4v4h-4zM546 581h4v3h-4zM577 581h3v3h-3zM962 581h4v3h-4zM550 584h3v4h-3zM550 588h3v4h-3zM553 592h4v4h-4zM553 596h4v4h-4zM553 600h4v4h-4zM689 677h3v4h-3z"/>
<path fill="#60ff9f" d="M935 495h4v4h-4zM935 499h4v4h-4zM939 503h4v4h-4zM939 507h4v4h-4zM939 511h4v4h-4zM943 515h4v4h-4zM943 519h4v4h-4zM943 523h4v3h-4zM947 526h4v4h-4zM947 530h4v4h-4zM947 534h4v4h-4zM615 565h4v4h-4zM646 565h4v4h-4zM619 569h4v4h-4zM646 569h4v4h-4zM966 569h8v4h-8zM619 573h4v4h-4zM638 573h4v4h-4zM619 577h4v4h-4zM638 577h4v4h-4zM650 577h4v4h-4zM623 581h4v3h-4zM642 581h4v3h-4zM623 584h4v4h-4zM642 584h4v4h-4zM623 588h4v4h-4zM642 588h4v4h-4zM654 588h4v4h-4zM627 592h4v4h-4zM646 592h4v4h-4zM627 596h4v4h-4zM646 596h4v4h-4zM627 600h4v4h-4zM646 600h4v4h-4zM658 600h4v4h-4zM650 604h4v4h-4zM650 608h4v4h-4zM650 612h4v3h-4zM650 623h4v4h-4zM650 627h4v4h-4zM650 631h4v4h-4z"/>
<path fill="#70ff8f" d="M912 468h4v4h-4zM912 472h4v4h-4zM893 476h12v4h-12zM916 476h4v4h-4zM889 480h19v4h-19zM916 480h4v4h-4zM870 484h15v4h-15zM889 484h31v4h-31zM939 484h8v4h-8zM854 488h8v4h-8zM870 488h46v4h-46zM920 488h4v4h-4zM939 488h8v4h-8zM854 492h62v3h-62zM920 492h4v3h-4zM939 492h8v3h-8zM561 495h4v4h-4zM827 495h97v4h-97zM943 495h8v4h-8zM561 499h4v4h-4zM812 499h8v4h-8zM827 499h97v4h-97zM943 499h8v4h-8zM561 503h4v4h-4zM812 503h108v4h-108zM924 503h4v4h-4zM943 503h8v4h-8zM561 507h4v4h-4zM781 507h147v4h-147zM947 507h8v4h-8zM561 511h4v4h-4zM770 511h158v4h-158zM947 511h8v4h-8zM561 515h4v4h-4zM770 515h154v4h-154zM947 515h8v4h-8zM561 519h4v4h-4zM743 519h181v4h-181zM951 519h8v4h-8zM561 523h4v3h-4zM727 523h197v3h-197zM951 523h8v3h-8zM561 526h4v4h-4zM727 526h181v4h-181zM561 530h4v4h-4zM704 530h189v4h-189zM561 534h4v4h-4zM681 534h197v4h-197zM561 538h4v4h-4zM669 538h4v4h-4zM681 538h189v4h-189zM580 542h4v4h-4zM596 542h4v4h-4zM662 542h192v4h-192zM947 542h4v4h-4zM561 546h4v4h-4zM580 546h4v4h-4zM596 546h4v4h-4zM650 546h185v4h-185zM947 546h4v4h-4zM561 550h4v3h-4zM580 550h4v3h-4zM596 550h8v3h-8zM646 550h181v3h-181zM565 553h4v4h-4zM584 553h4v4h-4zM596 553h8v4h-8zM646 553h166v4h-166zM943 553h4v4h-4zM565 557h4v4h-4zM584 557h4v4h-4zM596 557h4v4h-4zM604 557h3v4h-3zM646 557h8v4h-8zM658 557h131v4h-131zM943 557h4v4h-4zM569 561h4v4h-4zM584 561h4v4h-4zM596 561h4v4h-4zM604 561h3v4h-3zM615 561h4v4h-4zM642 561h139v4h-139zM569 565h4v4h-4zM588 565h4v4h-4zM596 565h4v4h-4zM604 565h3v4h-3zM642 565h4v4h-4zM650 565h120v4h-120zM932 565h3v4h-3zM939 565h4v4h-4zM569 569h4v4h-4zM588 569h4v4h-4zM596 569h4v4h-4zM607 569h4v4h-4zM615 569h4v4h-4zM642 569h4v4h-4zM650 569h8v4h-8zM662 569h84v4h-84zM573 573h4v4h-4zM588 573h4v4h-4zM596 573h4v4h-4zM607 573h4v4h-4zM615 573h4v4h-4zM646 573h85v4h-85zM916 573h4v4h-4zM573 577h4v4h-4zM592 577h8v4h-8zM607 577h4v4h-4zM615 577h4v4h-4zM646 577h4v4h-4zM654 577h73v4h-73zM889 577h12v4h-12zM573 581h4v3h-4zM592 581h8v3h-8zM611 581h8v3h-8zM650 581h12v3h-12zM665 581h43v3h-43zM870 581h11v3h-11zM592 584h4v4h-4zM611 584h4v4h-4zM650 584h42v4h-42zM611 588h4v4h-4zM650 588h4v4h-4zM658 588h11v4h-11zM677 588h12v4h-12zM851 588h3v4h-3zM654 592h11v4h-11zM827 592h16v4h-16zM654 596h11v4h-11zM634 600h4v4h-4zM654 600h4v4h-4zM631 604h3v4h-3zM785 604h12v4h-12zM631 608h3v4h-3zM770 608h3v4h-3zM743 615h11v4h-11zM727 619h8v4h-8zM700 627h12v4h-12zM681 631h11v4h-11zM677 635h4v4h-4z"/>
<path fill="#800000" d="M870 240h4v4h-4zM569 267h4v4h-4zM569 271h4v4h-4z"/>
<path fill="#80ff80" d="M916 457h4v4h-4zM916 461h4v3h-4zM916 464h4v4h-4zM920 468h4v4h-4zM920 472h4v4h-4zM920 476h4v4h-4zM924 480h4v4h-4zM924 484h4v4h-4zM924 488h4v4h-4zM928 492h4v3h-4zM928 495h4v4h-4zM928 499h4v4h-4zM951 530h4v4h-4zM951 534h4v4h-4zM947 538h4v4h-4zM619 546h4v4h-4zM623 550h4v3h-4zM623 553h4v4h-4zM623 557h4v4h-4zM623 561h4v4h-4zM627 565h4v4h-4zM627 569h4v4h-4zM627 573h4v4h-4zM631 577h3v4h-3zM631 581h3v3h-3zM631 584h3v4h-3zM658 604h4v4h-4zM654 608h4v4h-4zM654 612h4v3h-4zM673 639h4v4h-4z"/>
<path fill="#8fff70" d="M920 445h4v4h-4zM920 449h4v4h-4zM920 453h4v4h-4zM924 457h4v4h-4zM924 461h4v3h-4zM924 464h4v4h-4zM928 468h4v4h-4zM928 472h4v4h-4zM928 476h4v4h-4zM932 480h3v4h-3zM932 484h3v4h-3zM932 488h3v4h-3zM932 492h3v3h-3zM600 519h4v4h-4zM604 523h3v3h-3zM623 523h4v3h-4zM604 526h3v4h-3zM623 526h4v4h-4zM951 526h8v4h-8zM604 530h3v4h-3zM627 530h4v4h-4zM607 534h4v4h-4zM627 534h4v4h-4zM607 538h4v4h-4zM627 538h4v4h-4zM607 542h4v4h-4zM627 542h4v4h-4zM611 546h4v4h-4zM631 546h3v4h-3zM611 550h4v3h-4zM631 550h3v3h-3zM611 553h4v4h-4zM631 553h3v4h-3zM634 557h4v4h-4zM634 561h4v4h-4zM634 565h4v4h-4zM634 581h4v3h-4zM634 584h4v4h-4zM634 588h4v4h-4z"/>
<path fill="#9fff60" d="M881 430h8v3h-8zM924 430h4v3h-4zM878 433h19v4h-19zM924 433h8v4h-8zM858 437h20v4h-20zM881 437h20v4h-20zM924 437h8v4h-8zM843 441h58v4h-58zM924 441h8v4h-8zM835 445h66v4h-66zM928 445h7v4h-7zM820 449h61v4h-61zM885 449h20v4h-20zM928 449h7v4h-7zM800 453h105v4h-105zM928 453h7v4h-7zM793 457h112v4h-112zM932 457h3v4h-3zM777 461h108v3h-108zM889 461h19v3h-19zM932 461h7v3h-7zM754 464h154v4h-154zM932 464h7v4h-7zM750 468h158v4h-158zM932 468h7v4h-7zM735 472h177v4h-177zM935 472h8v4h-8zM712 476h181v4h-181zM905 476h3v4h-3zM935 476h8v4h-8zM696 480h193v4h-193zM692 484h178v4h-178zM669 488h185v4h-185zM580 492h4v3h-4zM665 492h174v3h-174zM580 495h4v4h-4zM650 495h177v4h-177zM546 499h4v4h-4zM580 499h4v4h-4zM634 499h8v4h-8zM646 499h166v4h-166zM546 503h4v4h-4zM580 503h4v4h-4zM634 503h8v4h-8zM646 503h151v4h-151zM550 507h3v4h-3zM580 507h4v4h-4zM631 507h11v4h-11zM650 507h131v4h-131zM550 511h3v4h-3zM580 511h4v4h-4zM627 511h4v4h-4zM638 511h8v4h-8zM650 511h120v4h-120zM928 511h4v4h-4zM550 515h3v4h-3zM580 515h4v4h-4zM627 515h19v4h-19zM650 515h104v4h-104zM928 515h4v4h-4zM553 519h4v4h-4zM580 519h4v4h-4zM631 519h15v4h-15zM650 519h89v4h-89zM553 523h4v3h-4zM580 523h4v3h-4zM631 523h7v3h-7zM642 523h8v3h-8zM654 523h73v3h-73zM924 523h4v3h-4zM553 526h4v4h-4zM580 526h4v4h-4zM631 526h19v4h-19zM654 526h58v4h-58zM908 526h4v4h-4zM920 526h8v4h-8zM557 530h4v4h-4zM580 530h4v4h-4zM631 530h19v4h-19zM654 530h42v4h-42zM893 530h15v4h-15zM557 534h4v4h-4zM580 534h4v4h-4zM634 534h8v4h-8zM646 534h8v4h-8zM658 534h23v4h-23zM878 534h11v4h-11zM557 538h4v4h-4zM577 538h3v4h-3zM634 538h20v4h-20zM658 538h11v4h-11zM634 542h16v4h-16zM854 542h8v4h-8zM638 546h8v4h-8zM835 546h12v4h-12zM638 550h4v3h-4zM638 553h8v4h-8zM816 553h4v4h-4zM638 557h8v4h-8zM789 557h15v4h-15zM746 569h16v4h-16zM731 573h8v4h-8zM708 581h11v3h-11zM692 584h8v4h-8zM669 588h4v4h-4zM665 592h4v4h-4z"/>
<path fill="#af0000" d="M870 244h4v4h-4zM870 248h4v4h-4zM870 252h4v3h-4zM874 255h4v4h-4z"/>
<path fill="#afff50" d="M897 422h4v4h-4zM897 426h4v4h-4zM901 430h4v3h-4zM901 433h4v4h-4zM550 437h3v4h-3zM901 437h4v4h-4zM546 441h4v4h-4zM905 441h3v4h-3zM546 445h4v4h-4zM905 445h3v4h-3zM546 449h4v4h-4zM905 449h3v4h-3zM546 453h4v4h-4zM908 453h4v4h-4zM546 457h4v4h-4zM908 457h4v4h-4zM546 461h4v3h-4zM908 461h4v3h-4zM546 464h4v4h-4zM546 468h4v4h-4zM546 472h4v4h-4zM546 476h4v4h-4zM546 480h4v4h-4zM546 484h4v4h-4zM546 488h4v4h-4zM935 492h4v3h-4zM565 495h4v4h-4zM584 495h4v4h-4zM604 495h3v4h-3zM642 495h4v4h-4zM932 495h3v4h-3zM565 499h4v4h-4zM584 499h4v4h-4zM604 499h3v4h-3zM642 499h4v4h-4zM932 499h3v4h-3zM565 503h4v4h-4zM584 503h4v4h-4zM607 503h4v4h-4zM642 503h4v4h-4zM932 503h3v4h-3zM569 507h4v4h-4zM584 507h4v4h-4zM607 507h4v4h-4zM646 507h4v4h-4zM569 511h4v4h-4zM588 511h4v4h-4zM607 511h4v4h-4zM646 511h4v4h-4zM569 515h4v4h-4zM588 515h4v4h-4zM600 515h4v4h-4zM611 515h4v4h-4zM646 515h4v4h-4zM573 519h4v4h-4zM588 519h4v4h-4zM611 519h4v4h-4zM646 519h4v4h-4zM573 523h4v3h-4zM592 523h4v3h-4zM600 523h4v3h-4zM611 523h4v3h-4zM650 523h4v3h-4zM573 526h4v4h-4zM592 526h4v4h-4zM600 526h4v4h-4zM615 526h4v4h-4zM650 526h4v4h-4zM577 530h3v4h-3zM592 530h4v4h-4zM600 530h4v4h-4zM615 530h4v4h-4zM650 530h4v4h-4zM577 534h3v4h-3zM596 534h8v4h-8zM615 534h4v4h-4zM654 534h4v4h-4zM596 538h4v4h-4zM654 538h4v4h-4zM619 550h4v3h-4zM619 553h4v4h-4zM615 557h4v4h-4zM638 565h4v4h-4zM638 569h4v4h-4zM673 588h4v4h-4zM677 592h4v4h-4z"/>
<path fill="#bf0000" d="M862 186h4v4h-4zM858 190h4v3h-4zM858 193h4v4h-4zM858 197h4v4h-4zM858 201h4v4h-4z"/>
<path fill="#bfff40" d="M901 410h4v4h-4zM901 414h4v4h-4zM905 418h3v4h-3zM905 422h3v4h-3zM905 426h3v4h-3zM908 430h4v3h-4zM908 433h4v4h-4zM908 437h4v4h-4zM912 441h4v4h-4zM912 445h4v4h-4zM912 449h4v4h-4zM912 453h4v4h-4zM939 480h4v4h-4zM935 484h4v4h-4zM935 488h4v4h-4z"/>
<path fill="#cf0000" d="M565 263h4v4h-4zM565 267h4v4h-4zM561 271h4v4h-4zM561 275h4v4h-4zM561 279h4v3h-4z"/>
<path fill="#cfff30" d="M905 395h3v4h-3zM905 399h3v3h-3zM908 402h4v4h-4zM908 406h4v4h-4zM908 410h4v4h-4zM908 414h4v4h-4zM912 418h4v4h-4zM912 422h4v4h-4zM912 426h4v4h-4zM916 430h4v3h-4zM916 433h4v4h-4zM916 437h4v4h-4zM584 464h4v4h-4zM588 468h4v4h-4zM588 472h4v4h-4zM607 472h4v4h-4zM588 476h4v4h-4zM607 476h4v4h-4zM592 480h4v4h-4zM611 480h4v4h-4zM935 480h4v4h-4zM592 484h4v4h-4zM611 484h4v4h-4zM592 488h4v4h-4zM611 488h4v4h-4zM592 492h4v3h-4zM615 492h4v3h-4zM596 495h4v4h-4zM615 495h4v4h-4zM596 499h4v4h-4zM615 499h4v4h-4zM596 503h4v4h-4zM615 503h4v4h-4zM596 507h4v4h-4zM619 507h4v4h-4zM619 511h4v4h-4zM619 515h4v4h-4zM623 519h4v4h-4zM619 530h4v4h-4zM619 534h4v4h-4zM619 538h4v4h-4zM619 542h4v4h-4z"/>
<path fill="#df0000" d="M858 205h4v4h-4zM858 209h4v4h-4zM854 213h4v4h-4zM854 217h4v4h-4zM854 221h4v3h-4zM839 255h4v4h-4zM800 263h24v4h-24zM789 267h11v4h-11zM773 271h16v4h-16zM758 275h15v4h-15zM743 279h15v3h-15zM731 282h12v4h-12zM716 286h15v4h-15zM700 290h16v4h-16zM685 294h15v4h-15zM673 298h12v4h-12zM658 302h15v4h-15zM642 306h16v4h-16zM631 310h11v3h-11zM619 313h12v4h-12zM596 317h4v4h-4zM600 321h7v4h-7zM584 329h4v4h-4z"/>
<path fill="#dfff20" d="M870 372h4v3h-4zM858 375h4v4h-4zM870 375h4v4h-4zM843 379h8v4h-8zM870 379h11v4h-11zM908 379h8v4h-8zM827 383h4v4h-4zM843 383h23v4h-23zM874 383h11v4h-11zM908 383h8v4h-8zM820 387h46v4h-46zM874 387h11v4h-11zM908 387h8v4h-8zM800 391h66v4h-66zM874 391h11v4h-11zM912 391h4v4h-4zM785 395h4v4h-4zM800 395h66v4h-66zM874 395h15v4h-15zM912 395h8v4h-8zM785 399h85v3h-85zM878 399h11v3h-11zM912 399h8v3h-8zM754 402h116v4h-116zM878 402h11v4h-11zM912 402h8v4h-8zM743 406h3v4h-3zM754 406h116v4h-116zM878 406h11v4h-11zM916 406h8v4h-8zM723 410h4v4h-4zM743 410h127v4h-127zM881 410h12v4h-12zM916 410h8v4h-8zM712 414h162v4h-162zM881 414h12v4h-12zM916 414h8v4h-8zM700 418h8v4h-8zM712 418h162v4h-162zM881 418h12v4h-12zM920 418h8v4h-8zM681 422h4v4h-4zM696 422h178v4h-178zM881 422h12v4h-12zM920 422h8v4h-8zM669 426h209v4h-209zM885 426h12v4h-12zM920 426h8v4h-8zM654 430h11v3h-11zM669 430h209v3h-209zM889 430h4v3h-4zM642 433h4v4h-4zM654 433h220v4h-220zM619 437h4v4h-4zM634 437h217v4h-217zM854 437h4v4h-4zM565 441h4v4h-4zM615 441h4v4h-4zM623 441h4v4h-4zM634 441h209v4h-209zM565 445h4v4h-4zM615 445h12v4h-12zM631 445h193v4h-193zM565 449h4v4h-4zM615 449h12v4h-12zM631 449h173v4h-173zM565 453h4v4h-4zM615 453h12v4h-12zM631 453h169v4h-169zM565 457h4v4h-4zM611 457h8v4h-8zM623 457h8v4h-8zM634 457h151v4h-151zM565 461h4v3h-4zM611 461h20v3h-20zM634 461h128v3h-128zM565 464h4v4h-4zM611 464h20v4h-20zM634 464h120v4h-120zM912 464h4v4h-4zM565 468h4v4h-4zM615 468h12v4h-12zM631 468h3v4h-3zM638 468h105v4h-105zM565 472h4v4h-4zM615 472h19v4h-19zM638 472h81v4h-81zM565 476h4v4h-4zM615 476h19v4h-19zM638 476h74v4h-74zM908 476h4v4h-4zM565 480h4v4h-4zM619 480h15v4h-15zM638 480h58v4h-58zM908 480h4v4h-4zM565 484h4v4h-4zM619 484h8v4h-8zM631 484h7v4h-7zM642 484h35v4h-35zM885 484h4v4h-4zM565 488h4v4h-4zM619 488h19v4h-19zM642 488h27v4h-27zM862 488h8v4h-8zM565 492h4v3h-4zM623 492h15v3h-15zM646 492h12v3h-12zM839 492h15v3h-15zM623 495h11v4h-11zM623 499h11v4h-11zM820 499h7v4h-7zM623 503h8v4h-8zM797 503h15v4h-15zM627 507h4v4h-4zM631 511h3v4h-3zM754 515h16v4h-16zM739 519h4v4h-4zM712 526h15v4h-15zM696 530h8v4h-8zM673 538h8v4h-8zM650 542h12v4h-12z"/>
<path fill="#ef0000" d="M854 224h4v4h-4zM854 228h4v4h-4zM854 232h4v4h-4zM851 236h3v4h-3zM851 240h3v4h-3zM851 244h3v4h-3zM851 248h3v4h-3zM835 252h4v3h-4zM851 252h3v3h-3zM831 255h4v4h-4zM847 255h4v4h-4zM827 259h4v4h-4zM847 259h4v4h-4zM824 263h3v4h-3zM615 313h4v4h-4zM592 317h4v4h-4zM607 317h8v4h-8zM588 321h4v4h-4zM588 325h4v4h-4z"/>
<path fill="#efff10" d="M881 364h4v4h-4zM881 368h4v4h-4zM862 372h4v3h-4zM885 372h4v3h-4zM862 375h8v4h-8zM885 375h4v4h-4zM862 379h8v4h-8zM885 379h4v4h-4zM866 383h8v4h-8zM885 383h4v4h-4zM866 387h8v4h-8zM889 387h4v4h-4zM866 391h8v4h-8zM889 391h4v4h-4zM866 395h8v4h-8zM889 395h4v4h-4zM870 399h8v3h-8zM889 399h4v3h-4zM870 402h8v4h-8zM893 402h4v4h-4zM870 406h8v4h-8zM893 406h4v4h-4zM874 410h7v4h-7zM893 410h4v4h-4zM874 414h7v4h-7zM874 418h7v4h-7zM874 422h7v4h-7zM878 426h7v4h-7zM546 437h4v4h-4zM588 437h4v4h-4zM550 441h3v4h-3zM588 441h4v4h-4zM627 441h4v4h-4zM920 441h4v4h-4zM550 445h3v4h-3zM569 445h4v4h-4zM592 445h4v4h-4zM627 445h4v4h-4zM916 445h4v4h-4zM550 449h3v4h-3zM569 449h4v4h-4zM592 449h4v4h-4zM627 449h4v4h-4zM916 449h4v4h-4zM553 453h4v4h-4zM569 453h4v4h-4zM592 453h4v4h-4zM627 453h4v4h-4zM916 453h4v4h-4zM553 457h4v4h-4zM569 457h4v4h-4zM592 457h4v4h-4zM631 457h3v4h-3zM553 461h4v3h-4zM573 461h4v3h-4zM584 461h4v3h-4zM596 461h4v3h-4zM631 461h3v3h-3zM553 464h4v4h-4zM573 464h4v4h-4zM596 464h4v4h-4zM631 464h3v4h-3zM557 468h4v4h-4zM573 468h4v4h-4zM584 468h4v4h-4zM596 468h4v4h-4zM634 468h4v4h-4zM557 472h4v4h-4zM577 472h3v4h-3zM584 472h4v4h-4zM600 472h4v4h-4zM634 472h4v4h-4zM557 476h4v4h-4zM577 476h3v4h-3zM584 476h4v4h-4zM600 476h4v4h-4zM634 476h4v4h-4zM561 480h4v4h-4zM577 480h3v4h-3zM584 480h4v4h-4zM600 480h4v4h-4zM634 480h4v4h-4zM561 484h4v4h-4zM580 484h8v4h-8zM600 484h4v4h-4zM638 484h4v4h-4zM561 488h4v4h-4zM580 488h4v4h-4zM638 488h4v4h-4zM561 492h4v3h-4zM604 503h3v4h-3zM600 507h4v4h-4zM600 511h4v4h-4zM623 511h4v4h-4zM623 515h4v4h-4z"/>
<path fill="#ff0000" d="M561 282h4v4h-4zM561 286h4v4h-4zM561 294h4v4h-4zM557 298h4v4h-4zM557 302h4v4h-4zM557 306h4v4h-4zM557 310h4v3h-4zM580 333h4v4h-4z"/>
<path fill="#ff2000" d="M878 255h3v4h-3zM874 259h4v4h-4zM874 263h4v4h-4zM874 267h4v4h-4zM874 271h4v4h-4z"/>
<path fill="#ff3000" d="M565 271h4v4h-4zM565 275h4v4h-4zM569 279h4v3h-4zM870 279h4v3h-4zM569 282h4v4h-4zM870 282h4v4h-4zM569 286h4v4h-4zM870 286h4v4h-4zM569 290h4v4h-4zM870 290h4v4h-4zM573 294h4v4h-4zM573 298h4v4h-4zM573 302h4v4h-4zM573 306h4v4h-4zM573 310h4v3h-4zM557 313h4v4h-4zM577 313h3v4h-3zM557 317h4v4h-4zM577 317h3v4h-3zM557 321h4v4h-4zM577 321h3v4h-3zM557 325h4v4h-4zM577 325h3v4h-3zM557 329h4v4h-4zM577 329h3v4h-3zM557 333h4v4h-4zM553 337h4v4h-4zM553 341h4v3h-4zM577 341h3v3h-3zM577 344h3v4h-3zM577 348h3v4h-3z"/>
<path fill="#ff4000" d="M862 190h8v3h-8zM862 193h8v4h-8zM862 197h8v4h-8zM862 201h8v4h-8zM866 205h8v4h-8zM866 209h8v4h-8zM866 213h8v4h-8zM866 217h8v4h-8zM870 221h4v3h-4zM870 224h8v4h-8zM870 228h8v4h-8zM870 232h8v4h-8zM870 236h8v4h-8zM874 240h7v4h-7zM874 244h7v4h-7zM874 248h7v4h-7zM874 252h7v3h-7zM569 275h4v4h-4zM573 286h4v4h-4zM573 290h4v4h-4zM577 306h3v4h-3zM577 310h3v3h-3zM580 321h4v4h-4zM847 321h4v4h-4zM580 325h4v4h-4zM835 325h12v4h-12zM580 329h4v4h-4zM816 329h15v4h-15zM773 341h12v3h-12zM758 344h8v4h-8zM735 352h8v4h-8zM712 356h15v4h-15zM692 364h8v4h-8zM669 368h16v4h-16zM650 375h4v4h-4zM631 379h11v4h-11zM611 383h4v4h-4zM604 387h3v4h-3zM615 387h8v4h-8z"/>
<path fill="#ff5000" d="M858 213h4v4h-4zM858 217h4v4h-4zM862 221h4v3h-4zM862 224h4v4h-4zM862 228h4v4h-4zM862 232h4v4h-4zM866 236h4v4h-4zM866 240h4v4h-4zM866 244h4v4h-4zM866 248h4v4h-4zM866 252h4v3h-4zM870 255h4v4h-4zM870 259h4v4h-4zM870 263h4v4h-4zM870 267h4v4h-4zM561 290h4v4h-4zM565 294h4v4h-4zM565 298h4v4h-4zM565 302h4v4h-4zM866 302h4v4h-4zM565 306h4v4h-4zM866 306h4v4h-4zM565 310h4v3h-4zM569 313h4v4h-4zM569 317h4v4h-4zM862 317h4v4h-4zM569 321h4v4h-4zM862 321h4v4h-4zM569 325h4v4h-4zM573 329h4v4h-4zM573 333h4v4h-4zM573 337h4v4h-4zM573 341h4v3h-4zM573 344h4v4h-4zM577 364h3v4h-3zM573 368h4v4h-4zM573 372h4v3h-4zM573 375h4v4h-4zM573 379h4v4h-4zM607 383h4v4h-4zM592 391h4v4h-4zM600 395h4v4h-4z"/>
<path fill="#ff7000" d="M854 236h4v4h-4zM858 240h4v4h-4zM858 244h4v4h-4zM858 248h4v4h-4zM858 252h4v3h-4zM862 255h4v4h-4zM862 259h4v4h-4zM862 263h4v4h-4zM862 267h4v4h-4zM866 271h4v4h-4zM866 275h4v4h-4zM866 279h4v3h-4zM866 282h4v4h-4zM866 286h4v4h-4zM893 313h4v4h-4zM889 317h4v4h-4zM889 321h4v4h-4zM889 325h4v4h-4zM889 329h4v4h-4z"/>
<path fill="#ff8000" d="M854 252h4v3h-4zM835 255h4v4h-4zM854 255h4v4h-4zM835 259h4v4h-4zM854 259h4v4h-4zM854 263h4v4h-4zM839 267h4v4h-4zM854 267h4v4h-4zM839 271h4v4h-4zM858 271h4v4h-4zM839 275h4v4h-4zM858 275h4v4h-4zM839 279h4v3h-4zM858 279h4v3h-4zM843 282h4v4h-4zM858 282h4v4h-4zM843 286h4v4h-4zM862 286h4v4h-4zM843 290h4v4h-4zM862 290h4v4h-4zM843 294h4v4h-4zM862 294h4v4h-4zM847 298h4v4h-4zM862 298h4v4h-4zM847 302h4v4h-4zM847 306h4v4h-4zM847 310h4v3h-4zM851 313h3v4h-3zM596 321h4v4h-4zM561 325h4v4h-4zM596 325h4v4h-4zM561 329h4v4h-4zM596 329h4v4h-4zM561 333h4v4h-4zM596 333h4v4h-4zM561 337h4v4h-4zM600 337h4v4h-4zM885 337h4v4h-4zM565 341h4v3h-4zM600 341h4v3h-4zM885 341h4v3h-4zM565 344h4v4h-4zM600 344h4v4h-4zM885 344h4v4h-4zM565 348h4v4h-4zM600 348h4v4h-4zM885 348h4v4h-4zM565 352h4v4h-4zM604 352h3v4h-3zM569 356h4v4h-4zM604 356h3v4h-3zM569 360h4v4h-4zM604 360h3v4h-3zM569 364h4v4h-4zM604 364h3v4h-3zM569 368h4v4h-4zM604 368h3v4h-3zM569 372h4v3h-4zM607 372h4v3h-4zM607 375h4v4h-4zM607 379h4v4h-4zM596 391h4v4h-4zM592 399h4v3h-4zM592 402h4v4h-4zM592 406h4v4h-4zM631 441h3v4h-3z"/>
<path fill="#ff8f00" d="M824 259h3v4h-3zM831 259h4v4h-4zM839 259h8v4h-8zM878 259h7v4h-7zM827 263h4v4h-4zM835 263h19v4h-19zM878 263h7v4h-7zM785 267h4v4h-4zM800 267h39v4h-39zM843 267h11v4h-11zM878 267h7v4h-7zM789 271h50v4h-50zM843 271h11v4h-11zM881 271h4v4h-4zM773 275h66v4h-66zM843 275h11v4h-11zM881 275h8v4h-8zM758 279h81v3h-81zM843 279h11v3h-11zM881 279h8v3h-8zM743 282h100v4h-100zM847 282h11v4h-11zM881 282h8v4h-8zM712 286h4v4h-4zM731 286h112v4h-112zM847 286h11v4h-11zM885 286h4v4h-4zM716 290h127v4h-127zM847 290h11v4h-11zM885 290h8v4h-8zM700 294h143v4h-143zM847 294h11v4h-11zM885 294h8v4h-8zM685 298h162v4h-162zM851 298h11v4h-11zM885 298h8v4h-8zM673 302h174v4h-174zM851 302h11v4h-11zM889 302h4v4h-4zM658 306h189v4h-189zM851 306h11v4h-11zM889 306h8v4h-8zM642 310h205v3h-205zM851 310h11v3h-11zM889 310h8v3h-8zM631 313h212v4h-212zM847 313h4v4h-4zM854 313h12v4h-12zM615 317h236v4h-236zM854 317h8v4h-8zM592 321h4v4h-4zM607 321h240v4h-240zM858 321h4v4h-4zM592 325h4v4h-4zM600 325h235v4h-235zM588 329h8v4h-8zM600 329h216v4h-216zM584 333h12v4h-12zM600 333h208v4h-208zM580 337h12v4h-12zM596 337h4v4h-4zM604 337h189v4h-189zM580 341h20v3h-20zM604 341h169v3h-169zM553 344h4v4h-4zM580 344h20v4h-20zM604 344h154v4h-154zM553 348h4v4h-4zM584 348h16v4h-16zM604 348h146v4h-146zM553 352h4v4h-4zM584 352h16v4h-16zM607 352h128v4h-128zM553 356h4v4h-4zM584 356h8v4h-8zM596 356h8v4h-8zM607 356h105v4h-105zM881 356h4v4h-4zM553 360h4v4h-4zM588 360h16v4h-16zM607 360h97v4h-97zM881 360h4v4h-4zM553 364h4v4h-4zM588 364h16v4h-16zM607 364h85v4h-85zM553 368h4v4h-4zM588 368h16v4h-16zM607 368h62v4h-62zM553 372h4v3h-4zM588 372h8v3h-8zM600 372h7v3h-7zM611 372h51v3h-51zM878 372h3v3h-3zM553 375h4v4h-4zM592 375h15v4h-15zM611 375h39v4h-39zM874 375h7v4h-7zM550 379h3v4h-3zM592 379h15v4h-15zM611 379h20v4h-20zM851 379h11v4h-11zM592 383h15v4h-15zM615 383h12v4h-12zM831 383h12v4h-12zM592 387h12v4h-12zM812 387h8v4h-8zM573 391h4v4h-4zM600 391h4v4h-4zM573 395h4v4h-4zM789 395h11v4h-11zM573 399h4v3h-4zM600 399h4v3h-4zM770 399h15v3h-15zM569 402h4v4h-4zM569 406h4v4h-4zM746 406h8v4h-8zM727 410h16v4h-16zM708 418h4v4h-4zM685 422h11v4h-11zM665 430h4v3h-4zM646 433h8v4h-8zM623 437h8v4h-8zM619 441h4v4h-4z"/>
<path fill="#ff9f00" d="M874 275h4v4h-4zM874 279h4v3h-4zM874 282h4v4h-4zM878 286h3v4h-3zM878 290h3v4h-3zM878 294h3v4h-3zM878 298h3v4h-3zM881 302h4v4h-4zM881 306h4v4h-4zM881 310h4v3h-4zM881 313h4v4h-4zM885 317h4v4h-4zM885 321h4v4h-4zM885 325h4v4h-4zM557 352h4v4h-4zM577 352h3v4h-3zM557 356h4v4h-4zM577 356h3v4h-3zM557 360h4v4h-4zM577 360h3v4h-3zM557 364h4v4h-4zM580 364h4v4h-4zM561 368h4v4h-4zM580 368h4v4h-4zM561 372h4v3h-4zM580 372h4v3h-4zM561 375h4v4h-4zM584 375h4v4h-4zM905 375h3v4h-3zM561 379h4v4h-4zM584 379h4v4h-4zM565 383h4v4h-4zM584 383h4v4h-4zM565 387h4v4h-4zM584 387h4v4h-4zM565 391h4v4h-4zM588 391h4v4h-4zM565 395h4v4h-4zM588 395h4v4h-4zM569 399h4v3h-4zM588 399h4v3h-4zM588 402h4v4h-4zM588 422h4v4h-4zM588 426h4v4h-4zM588 430h4v3h-4zM588 433h4v4h-4zM607 453h4v4h-4z"/>
<path fill="#ffbf00" d="M870 294h4v4h-4zM870 298h4v4h-4zM870 302h4v4h-4zM874 306h4v4h-4zM874 310h4v3h-4zM874 313h4v4h-4zM878 317h3v4h-3zM878 321h3v4h-3zM878 325h3v4h-3zM878 329h3v4h-3zM881 333h4v4h-4zM881 337h4v4h-4zM881 341h4v3h-4zM881 344h4v4h-4zM908 375h4v4h-4zM905 379h3v4h-3zM573 383h4v4h-4zM905 383h3v4h-3zM573 387h4v4h-4zM905 387h3v4h-3zM577 391h3v4h-3zM577 395h3v4h-3zM577 399h3v3h-3zM580 402h4v4h-4zM580 406h4v4h-4zM580 410h4v4h-4zM580 414h4v4h-4zM584 418h4v4h-4zM584 422h4v4h-4zM584 426h4v4h-4zM611 453h4v4h-4zM607 461h4v3h-4zM607 464h4v4h-4z"/>
<path fill="#ffcf00" d="M866 310h4v3h-4zM866 313h4v4h-4zM889 313h4v4h-4zM851 317h3v4h-3zM870 317h4v4h-4zM893 317h8v4h-8zM851 321h3v4h-3zM870 321h4v4h-4zM893 321h8v4h-8zM847 325h7v4h-7zM870 325h4v4h-4zM893 325h8v4h-8zM851 329h7v4h-7zM870 329h4v4h-4zM893 329h8v4h-8zM851 333h7v4h-7zM874 333h4v4h-4zM897 333h8v4h-8zM851 337h7v4h-7zM874 337h4v4h-4zM897 337h8v4h-8zM854 341h4v3h-4zM874 341h4v3h-4zM897 341h8v3h-8zM854 344h8v4h-8zM878 344h3v4h-3zM897 344h8v4h-8zM854 348h8v4h-8zM878 348h3v4h-3zM901 348h7v4h-7zM854 352h8v4h-8zM878 352h3v4h-3zM901 352h7v4h-7zM858 356h8v4h-8zM878 356h3v4h-3zM901 356h7v4h-7zM858 360h8v4h-8zM901 360h7v4h-7zM858 364h8v4h-8zM905 364h7v4h-7zM862 368h4v4h-4zM905 368h7v4h-7zM866 372h4v3h-4zM905 372h7v3h-7zM553 387h4v4h-4zM607 387h8v4h-8zM553 391h4v4h-4zM607 391h12v4h-12zM905 391h3v4h-3zM553 395h4v4h-4zM596 395h4v4h-4zM607 395h12v4h-12zM901 395h4v4h-4zM553 399h4v3h-4zM596 399h4v3h-4zM611 399h8v3h-8zM901 399h4v3h-4zM557 402h4v4h-4zM596 402h4v4h-4zM611 402h12v4h-12zM901 402h4v4h-4zM557 406h4v4h-4zM600 406h4v4h-4zM611 406h12v4h-12zM901 406h4v4h-4zM557 410h4v4h-4zM600 410h4v4h-4zM611 410h12v4h-12zM557 414h4v4h-4zM600 414h4v4h-4zM615 414h8v4h-8zM561 418h4v4h-4zM600 418h4v4h-4zM615 418h12v4h-12zM561 422h4v4h-4zM604 422h3v4h-3zM615 422h12v4h-12zM561 426h4v4h-4zM604 426h3v4h-3zM619 426h8v4h-8zM561 430h4v3h-4zM604 430h3v3h-3zM619 430h12v3h-12zM565 433h4v4h-4zM604 433h3v4h-3zM619 433h12v4h-12zM607 437h4v4h-4zM607 441h4v4h-4zM588 445h4v4h-4zM607 445h4v4h-4zM588 449h4v4h-4zM607 449h4v4h-4zM584 453h4v4h-4zM584 457h4v4h-4zM638 492h8v3h-8zM646 495h4v4h-4z"/>
<path fill="#ffdf00" d="M854 321h4v4h-4zM854 325h12v4h-12zM831 329h12v4h-12zM847 329h4v4h-4zM858 329h12v4h-12zM808 333h43v4h-43zM858 333h12v4h-12zM793 337h58v4h-58zM858 337h12v4h-12zM785 341h66v3h-66zM858 341h16v3h-16zM766 344h88v4h-88zM862 344h12v4h-12zM750 348h104v4h-104zM862 348h12v4h-12zM743 352h111v4h-111zM862 352h12v4h-12zM727 356h131v4h-131zM866 356h12v4h-12zM704 360h154v4h-154zM866 360h12v4h-12zM700 364h158v4h-158zM866 364h12v4h-12zM685 368h173v4h-173zM866 368h15v4h-15zM662 372h200v3h-200zM874 372h4v3h-4zM654 375h204v4h-204zM642 379h201v4h-201zM550 383h3v4h-3zM627 383h200v4h-200zM550 387h3v4h-3zM623 387h189v4h-189zM550 391h3v4h-3zM604 391h3v4h-3zM619 391h181v4h-181zM550 395h3v4h-3zM604 395h3v4h-3zM619 395h166v4h-166zM550 399h3v3h-3zM604 399h3v3h-3zM619 399h151v3h-151zM550 402h3v4h-3zM600 402h4v4h-4zM607 402h4v4h-4zM623 402h131v4h-131zM550 406h3v4h-3zM604 406h7v4h-7zM623 406h120v4h-120zM550 410h3v4h-3zM604 410h7v4h-7zM623 410h100v4h-100zM550 414h3v4h-3zM569 414h4v4h-4zM604 414h7v4h-7zM623 414h89v4h-89zM897 414h4v4h-4zM550 418h3v4h-3zM569 418h4v4h-4zM604 418h11v4h-11zM627 418h73v4h-73zM897 418h4v4h-4zM550 422h3v4h-3zM569 422h4v4h-4zM607 422h8v4h-8zM627 422h54v4h-54zM550 426h3v4h-3zM569 426h4v4h-4zM607 426h8v4h-8zM627 426h42v4h-42zM550 430h3v3h-3zM569 430h4v3h-4zM607 430h4v3h-4zM615 430h4v3h-4zM631 430h23v3h-23zM878 430h3v3h-3zM893 430h4v3h-4zM550 433h3v4h-3zM569 433h4v4h-4zM607 433h12v4h-12zM631 433h11v4h-11zM874 433h4v4h-4zM565 437h4v4h-4zM611 437h8v4h-8zM631 437h3v4h-3zM851 437h3v4h-3zM611 441h4v4h-4zM611 445h4v4h-4zM824 445h11v4h-11zM611 449h4v4h-4zM804 449h16v4h-16zM785 457h8v4h-8zM762 461h15v3h-15zM743 468h7v4h-7zM719 472h16v4h-16zM677 484h15v4h-15zM658 492h7v3h-7zM634 495h4v4h-4zM631 503h3v4h-3z"/>
<path fill="#ffef00" d="M889 333h4v4h-4zM889 337h4v4h-4zM889 341h4v3h-4zM893 344h4v4h-4zM893 348h4v4h-4zM893 352h4v4h-4zM893 356h4v4h-4zM897 360h4v4h-4zM897 364h4v4h-4zM897 368h4v4h-4zM897 372h4v3h-4zM901 375h4v4h-4zM901 379h4v4h-4zM901 383h4v4h-4zM901 387h4v4h-4zM569 410h4v4h-4zM592 410h4v4h-4zM573 414h4v4h-4zM592 414h4v4h-4zM573 418h4v4h-4zM592 418h4v4h-4zM573 422h4v4h-4zM596 422h4v4h-4zM573 426h4v4h-4zM596 426h4v4h-4zM577 430h3v3h-3zM596 430h4v3h-4zM920 430h4v3h-4zM577 433h3v4h-3zM596 433h4v4h-4zM577 437h3v4h-3zM600 437h4v4h-4zM580 441h4v4h-4zM600 441h4v4h-4zM580 445h4v4h-4zM600 445h4v4h-4zM580 449h4v4h-4zM600 449h4v4h-4zM604 453h3v4h-3zM604 457h3v4h-3zM604 461h3v3h-3zM607 468h4v4h-4zM604 480h3v4h-3zM604 484h3v4h-3zM604 488h3v4h-3zM604 492h3v3h-3z"/>
<path fill="#ffff00" d="M885 352h4v4h-4zM885 356h4v4h-4zM889 360h4v4h-4zM889 364h4v4h-4zM889 368h4v4h-4zM889 372h4v3h-4zM893 375h4v4h-4zM893 379h4v4h-4zM893 383h4v4h-4zM893 387h4v4h-4zM897 391h4v4h-4zM897 395h4v4h-4zM897 399h4v3h-4zM897 402h4v4h-4zM920 433h4v4h-4zM920 437h4v4h-4zM642 550h4v3h-4z"/>
</g>
<text class="tk" font-size="55" transform="translate(95.03,278.53) scale(0.8988,1)">2000</text>
<text class="tk" font-size="55" transform="translate(97.74,460.12) scale(0.8762,1)">1500</text>
<text class="tk" font-size="55" transform="translate(97.42,641.93) scale(0.8814,1)">1000</text>
<text class="tk" font-size="55" transform="translate(121.70,823.68) scale(0.9079,1)">500</text>
<text class="tk" font-size="55" transform="translate(177.15,1009.63) scale(0.8864,1)">0</text>
<text class="tk" font-size="55" transform="translate(177.11,1067.67) scale(0.9052,1)">8</text>
<text class="tk" font-size="55" transform="translate(357.92,1144.97) scale(0.9368,1)">6</text>
<text class="tk" font-size="55" transform="translate(540.78,1230.75) scale(0.8342,1)">4</text>
<text class="tk" font-size="55" transform="translate(720.05,1315.65) scale(0.9644,1)">2</text>
<text class="tk" font-size="55" transform="translate(902.02,1396.53) scale(0.9015,1)">0</text>
<text class="tk" font-size="55" transform="translate(1002.89,1403.82) scale(0.7295,1)">-1</text>
<text class="tk" font-size="55" transform="translate(1241.19,1338.52) scale(0.9157,1)">-0.5</text>
<text class="tk" font-size="55" transform="translate(1477.11,1276.52) scale(0.9053,1)">0</text>
<text class="tk" font-size="55" transform="translate(1708.35,1210.97) scale(0.9313,1)">0.5</text>
<text class="tk" font-size="55" transform="translate(1951.13,1144.97) scale(0.5159,1)">1</text>
<text class="lb" font-size="67" x="408.9" y="1288">t (ps)</text>
<text class="lb" font-size="67" x="1455.5" y="1359.2">x (mm)</text>
<text class="lb" font-size="68.3" transform="translate(62.3,790.8) rotate(-90)">I (GW/cm²)</text>
</svg>
</body></html>
